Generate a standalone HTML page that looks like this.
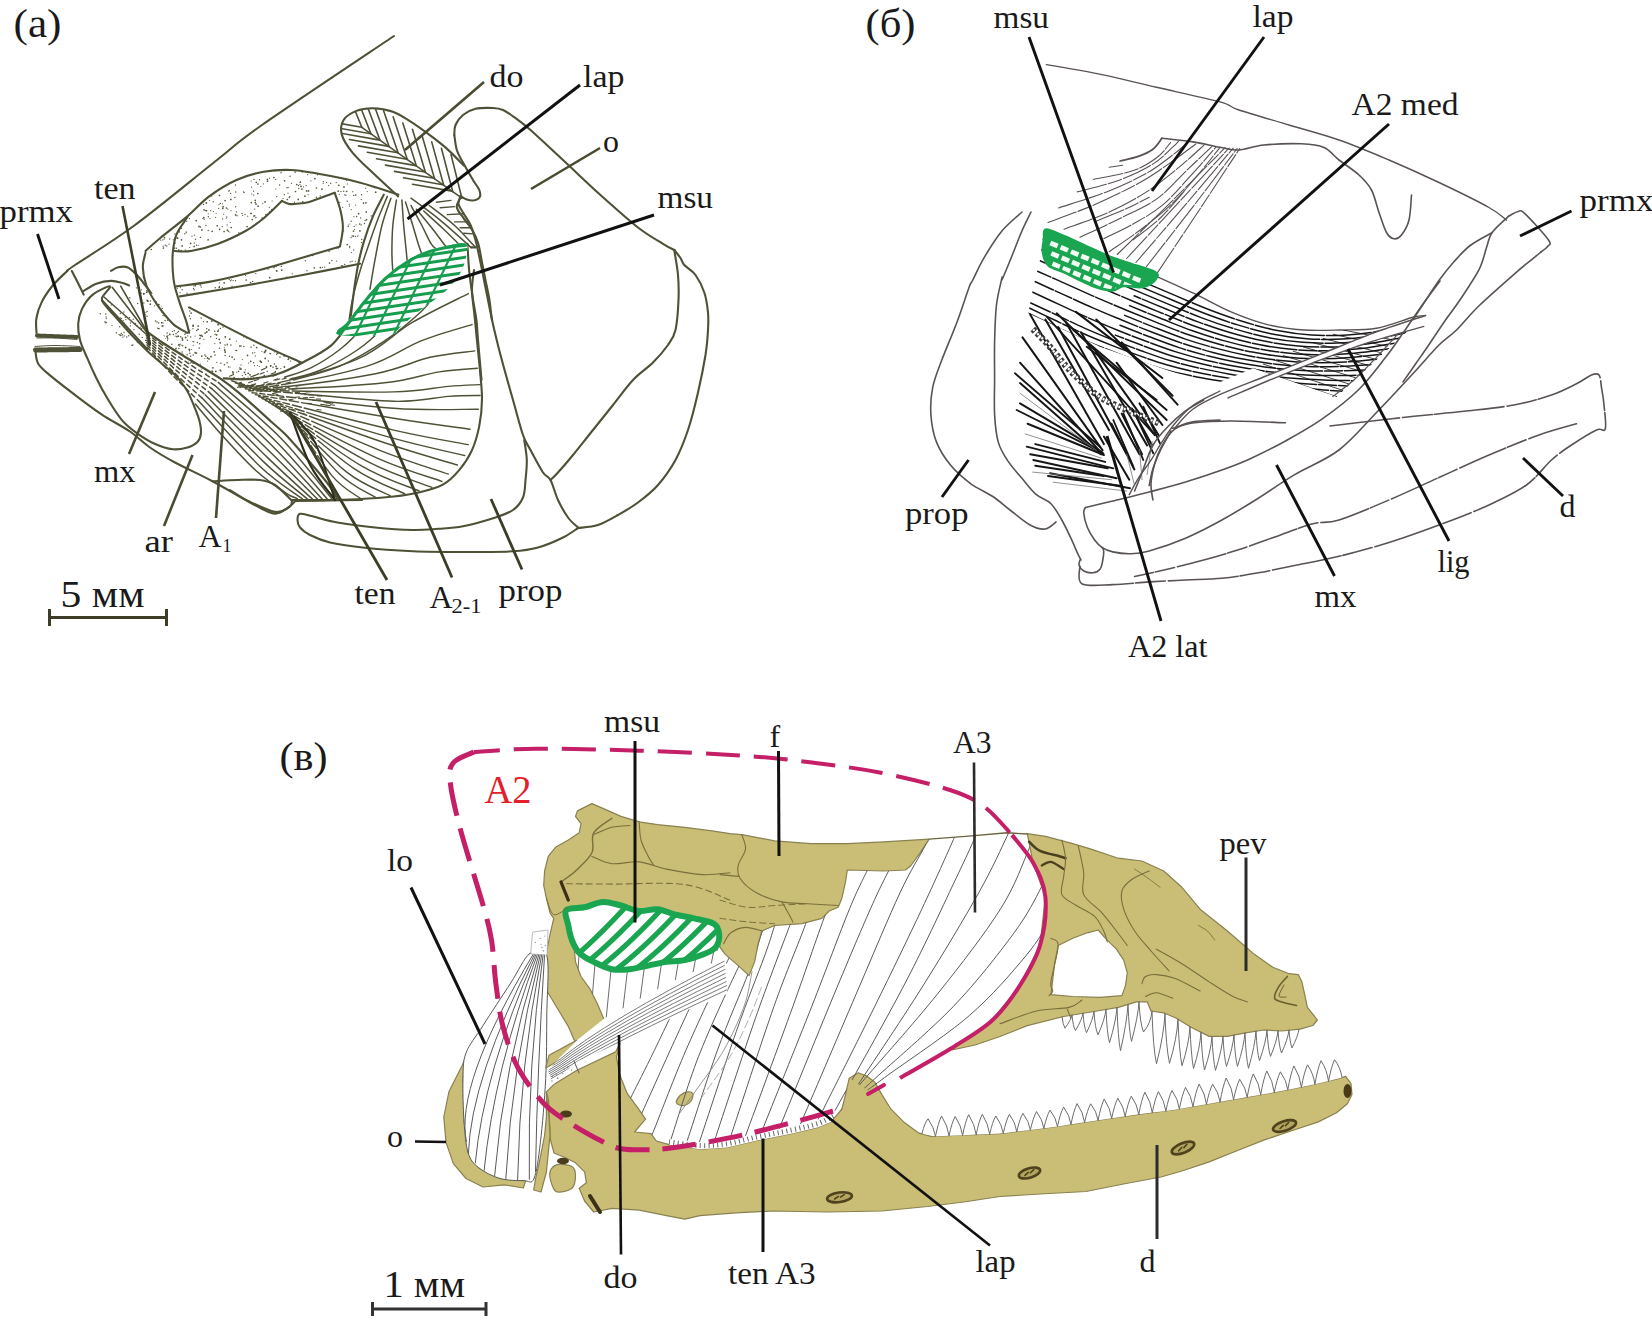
<!DOCTYPE html>
<html><head><meta charset="utf-8"><title>Figure</title>
<style>
html,body{margin:0;padding:0;background:#fff;}
body{width:1652px;height:1319px;overflow:hidden;font-family:"Liberation Serif",serif;}
svg{display:block;position:absolute;left:0;top:0;}
text{font-family:"Liberation Serif",serif;}
</style></head><body>
<svg width="1652" height="1319" viewBox="0 0 1652 1319">
<g id="panelA" fill="none" stroke="#4f5136" stroke-width="2.1" stroke-linecap="round" stroke-linejoin="round">
<path d="M394 36C372.0 50.8 291.5 104.3 262 125C232.5 145.7 238.2 143.3 217 160C195.8 176.7 158.7 207.5 135 225C111.3 242.5 86.3 257.3 75 265C63.7 272.7 68.3 270.0 67 271" />
<path d="M67.3 270.9C64.9 273.3 57.0 280.3 52.7 285.5C48.5 290.7 44.5 296.4 41.8 301.9C39.1 307.3 37.3 313.0 36.4 318.2C35.5 323.4 36.5 330.5 36.5 333" />
<path d="M71.8 270.9C72.8 272.9 76.0 279.1 78 283C80.0 286.9 82.8 292.7 83.7 294.6" />
<path d="M37 335.5L77 337" stroke-width="4" stroke-dasharray="1.4 0.8"/>
<path d="M35.5 350L80 349.5" stroke-width="5" stroke-dasharray="1.4 0.8"/>
<path d="M37 338C40.0 338.0 48.3 337.8 55 338C61.7 338.2 73.3 339.2 77 339.5" stroke-width="1" />
<path d="M35 346.5C38.3 346.3 47.5 345.5 55 345.5C62.5 345.5 75.8 346.3 80 346.5" stroke-width="1" />
<path d="M35.5 352C36.0 353.9 35.9 359.9 38.2 363.7C40.5 367.5 43.0 369.5 49.1 374.6C55.2 379.8 65.8 387.9 74.6 394.6C83.4 401.3 92.8 408.5 101.9 414.6C111.0 420.7 121.2 425.5 129.2 431C137.2 436.5 142.4 442.2 150 447.5C157.6 452.8 164.6 456.9 175 462.5C185.4 468.1 200.0 474.6 212.5 481.3C225.0 488.0 240.4 497.3 250 502.5C259.6 507.7 265.0 510.8 270 512.5C275.0 514.2 276.4 513.8 280 512.5C283.6 511.2 288.8 506.9 291.3 505C293.8 503.1 294.4 501.9 295 501.3" />
<path d="M295 501C300.8 500.9 318.8 500.7 330 500.5C341.2 500.3 356.7 500.1 362 500" />
<path d="M212.5 481.3C216.7 481.1 229.6 480.2 237.5 480C245.4 479.8 253.8 479.2 260 480C266.2 480.8 269.8 481.7 275 485C280.2 488.3 288.6 497.5 291.3 500" />
<path d="M110 286.4C108.5 285.8 97.5 290.8 92.8 294.6C88.1 298.4 84.3 304.2 81.9 309.1C79.5 314.0 78.5 318.6 78.2 323.7C77.9 328.8 78.5 334.2 80 340C81.5 345.8 84.6 351.8 87.3 358.2C90.0 364.6 93.1 371.6 96.4 378.3C99.7 385.0 103.0 391.3 107.3 398.3C111.5 405.3 117.1 414.4 121.9 420.1C126.8 425.9 131.0 428.9 136.4 432.8C141.8 436.7 148.5 441.0 154.6 443.7C160.7 446.4 167.3 448.6 172.8 449.2C178.3 449.8 183.3 448.6 187.4 447.4C191.5 446.2 195.1 444.3 197.4 441.9C199.7 439.5 200.7 436.4 201 432.8C201.3 429.2 200.3 424.3 199.2 420.1C198.1 415.9 196.3 411.6 194.6 407.4C192.9 403.1 191.0 398.2 189.2 394.6C187.4 391.0 186.1 388.8 183.7 385.5C181.3 382.2 178.2 378.2 174.6 374.6C171.0 371.0 166.4 367.6 161.9 363.7C157.4 359.8 152.2 355.6 147.3 351C142.5 346.4 137.7 341.6 132.8 336.4C128.0 331.2 122.8 325.1 118.2 320C113.7 314.9 108.2 309.1 105.5 305.5C102.8 301.9 101.2 301.4 101.9 298.2C102.7 295.0 111.5 287.0 110 286.4Z" />
<path d="M83.7 290.9C85.8 289.7 91.9 285.4 96.4 283.7C101.0 282.0 106.8 281.0 111 280.9C115.2 280.8 118.9 282.0 121.9 282.8C124.9 283.6 128.0 285.1 129.2 285.5" />
<path d="M111 270.9C112.2 270.3 115.5 267.9 118.2 267.3C120.9 266.7 124.3 266.1 127.3 267.3C130.3 268.5 133.4 271.6 136.4 274.6C139.4 277.6 143.1 282.5 145.5 285.5C147.9 288.5 150.1 291.6 151 292.8" />
<path d="M145.5 251C147.9 248.9 153.0 244.0 160 238.2C167.0 232.4 179.1 223.4 187.3 216.4C195.5 209.4 201.0 202.5 209.2 196.4C217.4 190.3 227.3 184.1 236.4 180C245.5 175.9 254.6 173.5 263.7 171.8C272.8 170.1 281.9 169.7 291 170C300.1 170.3 309.2 172.2 318.3 173.7C327.4 175.2 336.5 177.0 345.6 179.1C354.7 181.2 364.1 183.8 372.9 186.4C381.7 189.0 394.1 193.2 398.3 194.6" />
<path d="M145.5 252.8C145.1 255.2 142.7 261.9 142.8 267.3C143.0 272.8 144.1 279.4 146.4 285.5C148.7 291.6 152.0 297.3 156.4 303.7C160.8 310.1 167.7 318.8 172.8 323.7C178.0 328.6 184.9 331.3 187.3 332.8" />
<path d="M187.3 217.3C185.5 220.2 178.8 228.7 176.4 234.6C174.0 240.5 173.4 246.7 172.8 252.8C172.2 258.9 172.5 265.6 172.8 271C173.1 276.4 173.4 280.1 174.6 285.5C175.8 290.9 178.0 297.6 180 303.7C182.0 309.8 184.9 317.0 186.4 321.9C187.9 326.8 188.7 331.0 189.1 332.8" />
<path d="M174.6 251.0C177.3 251.0 183.7 252.2 191.0 251.0C198.3 249.8 209.1 247.0 218.2 243.7C227.3 240.4 237.9 235.2 245.5 231.0C253.1 226.8 257.6 223.2 263.7 218.2C269.8 213.2 278.9 203.8 281.9 200.9" />
<path d="M281.9 200.9C283.1 201.4 286.8 203.5 289.2 204.0C291.6 204.5 293.2 204.0 296.5 203.7C299.8 203.3 302.8 203.7 309.2 201.9C315.6 200.1 330.4 194.3 334.7 192.8" />
<path d="M334.7 192.8C335.6 195.5 338.7 203.3 340.1 209.1C341.5 214.8 342.9 221.2 342.9 227.3C342.9 233.4 340.6 242.8 340.1 245.9" />
<path d="M340.1 246.4C330.4 249.3 297.7 259.1 281.9 263.7C266.1 268.2 257.6 270.7 245.5 273.7C233.4 276.7 220.7 279.8 209.2 281.9C197.7 284.0 181.9 285.6 176.4 286.4" />
<path d="M180.0 296.4C190.9 294.6 225.5 289.0 245.5 285.5C265.5 282.0 281.0 279.1 300.1 275.5C319.2 271.9 350.1 265.7 360.1 263.7" />
<path d="M189.1 307.4C195.5 310.7 214.9 321.0 227.3 327.4C239.7 333.8 251.3 339.7 263.7 345.6C276.1 351.5 295.5 359.9 301.9 362.8" />
<path d="M383.8 194.6C382.0 198.2 376.2 208.5 372.9 216.4C369.6 224.3 366.2 234.0 363.8 241.9C361.4 249.8 359.8 256.4 358.3 263.7C356.8 271.0 356.1 275.8 354.7 285.5C353.3 295.2 350.9 315.8 350.1 321.9" />
<path d="M398.3 271C394.4 275.0 383.2 286.2 375 295C366.8 303.8 356.5 315.3 349.2 323.7C341.9 332.1 338.6 339.2 331 345.6C323.4 352.0 312.5 357.3 303.7 362C294.9 366.7 287.7 370.9 278.3 373.8C268.9 376.7 256.5 378.4 247.4 379.2C238.3 379.9 227.6 378.4 223.7 378.3" stroke-width="2.2" />
<path d="M398.2 196.4C394.3 192.8 382.2 181.9 374.6 174.6C367.0 167.3 358.2 159.5 352.7 152.8C347.2 146.1 343.3 140.1 341.8 134.6C340.3 129.1 341.2 124.0 343.6 120.0C346.0 116.0 351.5 112.9 356.4 110.9C361.3 108.9 366.7 108.1 372.8 108.2C378.9 108.3 386.4 109.5 392.8 111.8C399.2 114.1 404.9 118.0 411.0 121.8C417.1 125.6 423.1 130.0 429.2 134.6C435.2 139.2 441.6 143.9 447.3 149.1C453.1 154.2 461.0 162.8 463.7 165.5" />
<clipPath id="featherclip"><path d="M398.2 196.4C390.9 191.8 382.2 181.9 374.6 174.6C367.0 167.3 358.2 159.5 352.7 152.8C347.2 146.1 343.3 140.1 341.8 134.6C340.3 129.1 341.2 124.0 343.6 120.0C346.0 116.0 351.5 112.9 356.4 110.9C361.3 108.9 366.7 108.1 372.8 108.2C378.9 108.3 386.4 109.5 392.8 111.8C399.2 114.1 404.9 118.0 411.0 121.8C417.1 125.6 423.1 130.0 429.2 134.6C435.2 139.2 441.6 143.9 447.3 149.1C453.1 154.2 459.1 160.3 463.7 165.5C468.2 170.7 471.9 175.8 474.6 180.1C477.3 184.3 479.5 188.0 480.1 191.0C480.7 194.0 479.8 196.5 478.3 198.2C476.8 199.9 473.4 201.0 471.0 201.0C468.6 201.0 467.6 197.4 463.7 198.2C459.8 198.9 454.9 204.9 447.3 205.5C439.7 206.1 426.4 203.4 418.2 201.9C410.0 200.4 405.5 201.0 398.2 196.4Z"/></clipPath>
<g clip-path="url(#featherclip)" stroke-width="1.6">
<path d="M361.8 127.3L461.9 198.2"/>
<path d="M361.8 127.3l-16.9 -41.7"/>
<path d="M370.9 133.7l-16.3 -41.9"/>
<path d="M380.0 140.2l-15.8 -42.1"/>
<path d="M389.1 146.6l-15.3 -42.3"/>
<path d="M398.2 153.1l-14.7 -42.5"/>
<path d="M407.3 159.5l-14.2 -42.7"/>
<path d="M416.4 166.0l-13.6 -42.9"/>
<path d="M425.5 172.4l-13.1 -43.1"/>
<path d="M434.6 178.9l-12.5 -43.2"/>
<path d="M443.7 185.3l-12.0 -43.4"/>
<path d="M452.8 191.8l-11.4 -43.5"/>
<path d="M461.9 198.2l-10.9 -43.7"/>
<path d="M361.8 127.3l-39.4 -6.9"/>
<path d="M370.8 133.7l-39.4 -6.9"/>
<path d="M379.8 140.1l-39.4 -6.9"/>
<path d="M388.8 146.4l-39.4 -6.9"/>
<path d="M397.8 152.8l-39.4 -6.9"/>
<path d="M406.8 159.2l-39.4 -6.9"/>
<path d="M415.9 165.6l-39.4 -6.9"/>
<path d="M424.9 172.0l-39.4 -6.9"/>
<path d="M433.9 178.3l-39.4 -6.9"/>
<path d="M442.9 184.7l-39.4 -6.9"/>
<path d="M451.9 191.1l-39.4 -6.9"/>
</g>
<path d="M454.3 135C454.7 137.5 455.4 145.4 456.8 150C458.2 154.6 460.3 157.5 463 162.5C465.7 167.5 470.3 175.4 473 180C475.7 184.6 478.2 187.1 479.3 190C480.4 192.9 480.6 195.8 479.5 197.5C478.4 199.2 475.1 200.2 473 200.5C470.9 200.8 468.9 200.2 466.8 199.5C464.7 198.8 461.6 196.6 460.5 196" />
<path d="M460.5 196C460.2 197.3 458.1 201.2 458.5 204C458.9 206.8 461.0 209.0 463 212.5C465.0 216.0 468.4 220.4 470.5 225C472.6 229.6 473.8 233.8 475.5 240C477.2 246.2 478.8 254.6 480.5 262.5C482.2 270.4 483.8 279.2 485.5 287.5C487.2 295.8 489.0 305.4 490.5 312.5C492.0 319.6 492.6 322.9 494.3 330C496.0 337.1 497.4 343.3 500.5 355C503.6 366.7 509.2 386.7 513 400C516.8 413.3 520.1 426.7 523 435C525.9 443.3 527.2 443.8 530.5 450C533.8 456.2 539.7 467.5 543 472.5C546.3 477.5 548.0 475.4 550.5 480C553.0 484.6 555.1 493.8 558 500C560.9 506.2 564.7 512.9 568 517.5C571.3 522.1 576.3 525.8 578 527.5" />
<path d="M454.3 135C454.5 133.3 454.1 128.3 455.5 125C456.9 121.7 459.7 117.7 463 115C466.3 112.3 470.5 110.0 475.5 108.8C480.5 107.6 488.4 107.8 493 108C497.6 108.2 499.7 108.6 503 110C506.3 111.4 508.4 113.0 513 116.3C517.6 119.6 522.2 122.7 530.5 130C538.8 137.3 551.3 149.2 563 160C574.7 170.8 588.0 183.8 600.5 195C613.0 206.2 627.6 219.4 638 227.5C648.4 235.6 657.0 240.1 663 243.8C669.0 247.6 672.4 249.0 674.3 250" />
<path d="M674.3 250C675.3 251.3 678.8 255.5 680.5 258C682.2 260.5 681.8 262.2 684.3 265C686.8 267.8 692.2 270.4 695.5 275C698.8 279.6 702.2 286.2 704.3 292.5C706.4 298.8 707.4 306.2 708 312.5C708.6 318.8 708.4 322.9 708 330C707.6 337.1 707.2 344.6 705.5 355C703.8 365.4 700.9 380.0 698 392.5C695.1 405.0 691.8 418.8 688 430C684.2 441.2 680.5 450.8 675.5 460C670.5 469.2 664.2 477.9 658 485C651.8 492.1 644.7 497.5 638 502.5C631.3 507.5 624.7 511.2 618 515C611.3 518.8 604.7 522.8 598 525C591.3 527.2 581.3 527.5 578 528" />
<path d="M674.3 250C674.9 254.2 677.3 266.7 678 275C678.7 283.3 678.9 290.8 678.5 300C678.1 309.2 677.2 322.5 675.5 330C673.8 337.5 671.8 339.6 668 345C664.2 350.4 658.8 356.7 653 362.5C647.2 368.3 639.7 372.9 633 380C626.3 387.1 619.7 396.7 613 405C606.3 413.3 599.7 421.7 593 430C586.3 438.3 578.8 447.9 573 455C567.2 462.1 561.8 468.3 558 472.5C554.2 476.7 551.8 478.8 550.5 480" />
<path d="M524.3 440C524.7 443.3 526.6 453.3 526.8 460C527.0 466.7 526.1 473.8 525.5 480C524.9 486.2 525.1 492.5 523 497.5C520.9 502.5 517.6 506.7 513 510C508.4 513.3 503.8 514.8 495.5 517.5C487.2 520.2 472.6 524.4 463 526.3C453.4 528.2 446.3 528.2 438 528.8C429.7 529.4 423.5 530.2 413 530C402.5 529.8 387.6 528.8 375 527.5C362.4 526.2 347.9 524.4 337.5 522.5C327.1 520.6 318.8 517.8 312.5 516.3C306.2 514.8 302.5 513.2 300 513.8C297.5 514.4 297.5 517.7 297.5 520C297.5 522.3 297.9 525.0 300 527.5C302.1 530.0 305.0 532.5 310 535C315.0 537.5 321.2 540.4 330 542.5C338.8 544.6 348.7 546.0 362.5 547.5C376.3 549.0 396.2 550.5 413 551.3C429.8 552.0 446.3 552.0 463 552C479.7 552.0 500.5 552.0 513 551.3C525.5 550.5 529.7 549.8 538 547.5C546.3 545.2 556.3 540.8 563 537.5C569.7 534.2 575.5 529.6 578 528" />
<path d="M467.4 243.7C467.7 248.2 468.3 261.9 469.2 271.0C470.1 280.1 471.6 290.2 472.8 298.3C474.0 306.4 475.5 312.9 476.4 319.9C477.3 326.8 477.1 330.0 478 340C478.9 350.0 480.9 373.3 481.5 380" />
<path d="M387.3 196.4C385.8 200.1 381.2 210.4 378.2 218.3C375.2 226.2 372.1 234.9 369.1 243.7C366.1 252.5 362.7 261.9 360.0 271.0C357.3 280.1 354.5 290.2 352.7 298.3C350.9 306.4 349.7 316.3 349.1 319.9" stroke-width="1.5" />
<path d="M390.9 198.2C389.4 202.8 384.6 214.9 381.9 225.5C379.2 236.1 376.6 251.3 374.6 261.9C372.6 272.5 370.8 284.6 370.0 289.2" stroke-width="1.5" />
<path d="M396.4 200.1C395.8 204.3 393.6 216.7 392.8 225.5C392.1 234.3 391.9 245.2 391.9 252.8C391.9 260.4 392.6 268.0 392.8 271.0" stroke-width="1.5" />
<path d="M401.9 200.1C402.2 204.3 403.1 218.2 403.7 225.5C404.3 232.8 404.9 237.6 405.5 243.7C406.1 249.8 407.0 258.9 407.3 261.9" stroke-width="1.5" />
<path d="M405.5 201.9C406.7 205.8 410.7 218.5 412.8 225.5C414.9 232.5 416.7 238.8 418.2 243.7C419.7 248.5 421.3 252.8 421.9 254.6" stroke-width="1.5" />
<path d="M411.0 205.5C412.8 208.8 418.6 219.1 421.9 225.5C425.2 231.9 428.6 239.8 431.0 243.7C433.4 247.6 435.5 248.3 436.4 249.2" stroke-width="1.5" />
<path d="M416.4 209.2C419.1 212.5 428.2 223.4 432.8 229.2C437.4 234.9 441.3 240.7 443.7 243.7C446.1 246.7 446.7 246.8 447.3 247.4" stroke-width="1.5" />
<path d="M423.7 211.0C427.0 214.0 437.9 223.8 443.7 229.2C449.5 234.6 455.9 241.3 458.3 243.7" stroke-width="1.5" />
<path d="M411.0 198.2C415.9 201.8 430.1 211.9 440.1 220.1C450.1 228.3 465.9 242.8 471.0 247.4" stroke-width="1.5" />
<path d="M429.2 205.5C433.4 208.8 446.9 218.5 454.6 225.5C462.3 232.5 472.0 243.8 475.5 247.4" stroke-width="1.5" />
<path d="M471.0 247.4L475.5 247.4" />
<path d="M436.4 202.2L451.0 200.4" stroke-width="1.4" />
<path d="M440.1 207.7L454.6 206.6" stroke-width="1.4" />
<path d="M447.3 214.6L463.7 213.7" stroke-width="1.4" />
<path d="M454.6 221.9L467.7 221.9" stroke-width="1.4" />
<path d="M460.1 227.7L471.4 227.7" stroke-width="1.4" />
<path d="M463.7 233.2L473.2 233.9" stroke-width="1.4" />
<path d="M460.1 198.2C459.6 199.7 456.2 204.0 456.8 207.3C457.4 210.7 461.0 214.4 463.7 218.3C466.4 222.2 470.4 226.8 472.8 231.0C475.2 235.2 476.8 238.5 478.3 243.7C479.8 248.8 480.7 255.8 481.9 261.9C483.1 268.0 484.3 274.0 485.5 280.1C486.7 286.2 488.1 291.7 489.2 298.3C490.3 304.9 491.4 316.3 491.9 319.9" />
<path d="M474 270C473.7 273.3 471.9 282.1 472.0 290.0C472.1 297.9 473.8 308.2 474.7 317.3C475.6 326.4 476.5 335.5 477.4 344.6C478.3 353.7 479.3 362.8 480.1 371.9C480.9 381.0 482.1 390.1 482.0 399.2C481.9 408.3 480.9 417.9 479.2 426.4C477.5 434.9 475.3 442.8 472.0 450.1C468.7 457.4 464.1 464.3 459.2 470.1C454.3 475.9 449.2 481.1 442.8 484.7C436.4 488.3 429.2 489.9 421.0 491.9C412.8 493.9 404.3 495.3 393.7 496.5C383.1 497.7 369.4 498.6 357.3 499.2C345.2 499.8 331.9 500.0 321.0 500.1C310.1 500.2 296.8 500.1 291.9 500.1" />
<path d="M382.8 290C381.3 293.0 377.9 301.1 373.7 308.2C369.4 315.3 363.1 325.8 357.3 332.8C351.6 339.8 346.8 344.2 339.2 350C331.6 355.8 321.0 362.8 311.9 367.3C302.8 371.9 289.2 375.6 284.6 377.3" stroke-width="1.45"/>
<path d="M430 270C427.0 273.3 416.4 284.2 411.9 290C407.4 295.8 407.4 298.5 402.8 304.6C398.2 310.7 392.2 318.8 384.6 326.4C377.0 334.0 367.9 342.7 357.3 350C346.7 357.3 332.2 365.1 321 370C309.8 374.9 295.2 377.6 290 379.1" stroke-width="1.45"/>
<path d="M462 262C458.2 266.7 446.0 281.7 439.2 290C432.4 298.3 430.1 303.3 421 311.8C411.9 320.3 398.2 331.8 384.6 340.9C371.0 350.0 354.4 359.9 339.2 366.4C324.0 372.9 301.3 377.7 293.7 380" stroke-width="1.45"/>
<path d="M232.0 381.0C237.8 381.7 246.1 388.6 267.0 385.0C287.9 381.4 333.2 369.5 357.3 359.1C381.4 348.7 393.4 333.6 411.9 322.7C430.4 311.8 458.9 298.5 468.3 293.6" stroke-width="1.45" stroke-dasharray="5 3 5 3 6 3 7 3 9 3 400 4 60 3 30 3"/>
<path d="M235.33333333333334 382.94444444444446C241.2 383.5 248.5 389.2 270.33333333333337 386.44444444444446C292.2 383.7 341.3 374.0 366.4 366.4C391.5 358.8 403.4 347.9 421.0 340.9C438.6 333.9 463.5 327.3 472.0 324.6" stroke-width="1.45" stroke-dasharray="5 3 5 3 6 3 7 3 9 3 400 4 60 3 30 3"/>
<path d="M238.66666666666666 384.8888888888889C244.5 385.4 250.9 389.8 273.66666666666663 387.8888888888889C296.5 386.0 349.4 378.8 375.5 373.7C401.6 368.6 413.6 361.1 430.1 357.3C446.6 353.5 467.3 352.0 474.7 350.9" stroke-width="1.45" stroke-dasharray="5 3 5 3 6 3 7 3 9 3 400 4 60 3 30 3"/>
<path d="M242.0 386.8333333333333C247.8 387.2 253.2 390.0 277.0 389.3333333333333C300.8 388.7 357.6 385.7 384.6 382.8C411.6 379.9 423.7 374.3 439.2 371.9C454.7 369.5 471.0 368.8 477.4 368.2" stroke-width="1.45" stroke-dasharray="5 3 5 3 6 3 7 3 9 3 400 4 60 3 30 3"/>
<path d="M245.33333333333334 388.77777777777777C251.2 389.1 255.6 390.3 280.33333333333337 390.77777777777777C305.1 391.3 365.7 392.6 393.7 391.9C421.7 391.2 433.9 387.6 448.3 386.4C462.7 385.2 474.8 384.9 480.1 384.6" stroke-width="1.45" stroke-dasharray="5 3 5 3 6 3 7 3 9 3 400 4 60 3 30 3"/>
<path d="M248.66666666666666 390.72222222222223C254.5 391.0 259.5 390.5 283.66666666666663 392.22222222222223C307.8 394.0 366.3 400.6 393.7 401.3C421.1 402.0 433.9 397.4 448.3 396.4C462.7 395.4 474.8 395.6 480.1 395.5" stroke-width="1.45" stroke-dasharray="5 3 5 3 6 3 7 3 9 3 400 4 60 3 30 3"/>
<path d="M252.0 392.6666666666667C275.6 395.3 356.0 405.4 393.7 408.2C431.4 411.0 464.2 409.0 478.3 409.2" stroke-width="1.45" stroke-dasharray="5 3 5 3 6 3 7 3 9 3 400 4 60 3 30 3"/>
<path d="M255.33333333333334 394.6111111111111C278.4 398.6 357.9 412.5 393.7 418.3C429.5 424.1 457.4 427.4 470.1 429.2" stroke-width="1.45" stroke-dasharray="5 3 5 3 6 3 7 3 9 3 400 4 60 3 30 3"/>
<path d="M258.6666666666667 396.55555555555554C281.2 402.1 358.8 422.1 393.7 430.1C428.6 438.1 455.9 442.2 468.3 444.6" stroke-width="1.45" stroke-dasharray="5 3 5 3 6 3 7 3 9 3 400 4 60 3 30 3"/>
<path d="M262.0 398.5C283.4 405.0 356.3 427.9 390.1 437.4C423.9 446.9 452.3 452.5 464.7 455.5" stroke-width="1.45" stroke-dasharray="5 3 5 3 6 3 7 3 9 3 400 4 60 3 30 3"/>
<path d="M265.3333333333333 400.44444444444446C285.2 407.5 352.6 432.0 384.6 442.8C416.6 453.6 445.3 461.3 457.4 465.0" stroke-width="1.45" stroke-dasharray="5 3 5 3 6 3 7 3 9 3 400 4 60 3 30 3"/>
<path d="M268.6666666666667 402.3888888888889C287.1 410.3 349.3 438.1 379.2 450.1C409.1 462.1 436.8 470.1 448.3 474.1" stroke-width="1.45" stroke-dasharray="5 3 5 3 6 3 7 3 9 3 400 4 60 3 30 3"/>
<path d="M272.0 404.3333333333333C289.2 413.2 347.2 444.6 375.5 457.4C403.8 470.2 430.8 477.4 441.9 481.4" stroke-width="1.45" stroke-dasharray="5 3 5 3 6 3 7 3 9 3 400 4 60 3 30 3"/>
<path d="M275.3333333333333 406.27777777777777C290.8 415.5 342.2 448.4 368.3 461.9C394.4 475.4 421.3 483.1 431.9 487.4" stroke-width="1.45" stroke-dasharray="5 3 5 3 6 3 7 3 9 3 400 4 60 3 30 3"/>
<path d="M278.6666666666667 408.22222222222223C292.4 417.8 337.6 451.8 361.0 465.6C384.4 479.4 409.5 486.8 419.2 491.0" stroke-width="1.45" stroke-dasharray="5 3 5 3 6 3 7 3 9 3 400 4 60 3 30 3"/>
<path d="M282.0 410.1666666666667C293.9 419.9 333.3 454.4 353.7 468.3C374.1 482.2 396.1 489.5 404.6 493.7" stroke-width="1.45" stroke-dasharray="5 3 5 3 6 3 7 3 9 3 400 4 60 3 30 3"/>
<path d="M285.3333333333333 412.1111111111111C295.5 422.1 328.9 458.0 346.4 471.9C363.9 485.8 382.8 491.7 390.1 495.6" stroke-width="1.45" stroke-dasharray="5 3 5 3 6 3 7 3 9 3 400 4 60 3 30 3"/>
<path d="M288.6666666666667 414.05555555555554C297.1 424.0 324.7 459.8 339.2 473.7C353.7 487.6 369.4 493.4 375.5 497.4" stroke-width="1.45" stroke-dasharray="5 3 5 3 6 3 7 3 9 3 400 4 60 3 30 3"/>
<path d="M292.0 416.0C298.6 425.9 320.4 461.8 331.9 475.6C343.4 489.4 356.1 494.9 361.0 498.8" stroke-width="1.45" stroke-dasharray="5 3 5 3 6 3 7 3 9 3 400 4 60 3 30 3"/>
<path d="M146 331C148.8 333.0 156.7 338.8 163 343C169.3 347.2 173.9 349.9 183.7 356C193.4 362.1 211.8 372.8 221.5 379.3C231.2 385.9 233.7 388.3 241.9 395.3C250.2 402.3 263.7 414.9 271 421.5C278.3 428.1 279.4 428.3 285.5 434.6C291.6 440.9 300.1 450.8 307.4 459.3C314.7 467.8 324.1 478.7 329.2 485.5C334.3 492.3 336.4 497.6 337.9 500" stroke-width="2.2"/>
<path d="M195.3 404C199.7 409.1 211.3 423.4 221.5 434.6C231.7 445.8 245.7 461.3 256.4 471C267.1 480.7 278.7 488.2 285.5 492.8C292.3 497.4 295.2 497.6 297.2 498.6" stroke-width="1.6"/>
<path d="M102.5 300.6L147.4 349.2" stroke-width="2.0"/>
<path d="M104 297L146 334" stroke-width="1.6"/>
<path d="M112.2 287.3L145 330" stroke-width="1.6"/>
<path d="M120.7 286.1L146 330" stroke-width="1.6"/>
<path d="M146.175 333.3125C152.2 337.7 170.2 351.2 182.2 359.35C194.2 367.5 212.2 378.5 218.225 382.3875" stroke-width="1.5" stroke-dasharray="4.5 3.5"/>
<path d="M218.225 382.3875C228.8 391.8 262.8 419.6 281.8625 439.15000000000003C301.0 458.7 324.3 489.7 332.8125 499.825" stroke-width="1.5"/>
<path d="M146.35 335.625C152.1 340.0 169.2 353.7 180.64999999999998 362.05C192.1 370.4 209.2 381.6 214.95 385.475" stroke-width="1.5" stroke-dasharray="4.5 3.5"/>
<path d="M214.95 385.475C225.5 395.2 259.4 424.7 278.225 443.70000000000005C297.0 462.7 319.5 490.3 327.72499999999997 499.65" stroke-width="1.5"/>
<path d="M146.525 337.9375C152.0 342.4 168.2 356.3 179.10000000000002 364.75C190.0 373.2 206.2 384.6 211.675 388.5625" stroke-width="1.5" stroke-dasharray="4.5 3.5"/>
<path d="M211.675 388.5625C222.2 398.5 256.1 429.8 274.5875 448.25C293.1 466.7 314.6 490.9 322.6375 499.475" stroke-width="1.5"/>
<path d="M146.7 340.25C151.8 344.8 167.3 358.9 177.55 367.45C187.8 376.0 203.3 387.6 208.4 391.65" stroke-width="1.5" stroke-dasharray="4.5 3.5"/>
<path d="M208.4 391.65C218.8 401.8 252.8 434.9 270.95 452.8C289.1 470.7 309.8 491.6 317.54999999999995 499.3" stroke-width="1.5"/>
<path d="M146.875 342.5625C151.7 347.2 166.3 361.5 176.0 370.15C185.7 378.8 200.3 390.6 205.125 394.7375" stroke-width="1.5" stroke-dasharray="4.5 3.5"/>
<path d="M205.125 394.7375C215.5 405.2 249.4 440.0 267.3125 457.35C285.2 474.7 304.9 492.2 312.4625 499.125" stroke-width="1.5"/>
<path d="M147.05 344.875C151.6 349.5 165.3 364.0 174.45000000000002 372.85C183.6 381.7 197.3 393.7 201.85000000000002 397.825" stroke-width="1.5" stroke-dasharray="4.5 3.5"/>
<path d="M201.85000000000002 397.825C212.2 408.5 246.1 445.0 263.67499999999995 461.9C281.3 478.8 300.1 492.8 307.375 498.95000000000005" stroke-width="1.5"/>
<path d="M147.225 347.1875C151.5 351.9 164.3 366.6 172.9 375.55C181.5 384.5 194.3 396.7 198.57500000000002 400.9125" stroke-width="1.5" stroke-dasharray="4.5 3.5"/>
<path d="M198.57500000000002 400.9125C208.8 411.8 242.8 450.1 260.03749999999997 466.45C277.3 482.8 295.2 493.4 302.28749999999997 498.77500000000003" stroke-width="1.5"/>
<circle cx="114.6" cy="314.0" r="0.7" fill="#55573a" stroke="none"/>
<circle cx="121.5" cy="318.6" r="0.7" fill="#55573a" stroke="none"/>
<circle cx="120.7" cy="335.2" r="0.7" fill="#55573a" stroke="none"/>
<circle cx="108.3" cy="301.5" r="0.7" fill="#55573a" stroke="none"/>
<circle cx="106.2" cy="318.6" r="0.7" fill="#55573a" stroke="none"/>
<circle cx="143.4" cy="345.2" r="0.7" fill="#55573a" stroke="none"/>
<circle cx="136.1" cy="338.7" r="0.7" fill="#55573a" stroke="none"/>
<circle cx="122.5" cy="334.8" r="0.7" fill="#55573a" stroke="none"/>
<circle cx="137.4" cy="326.0" r="0.7" fill="#55573a" stroke="none"/>
<circle cx="130.4" cy="323.0" r="0.7" fill="#55573a" stroke="none"/>
<circle cx="122.8" cy="337.1" r="0.7" fill="#55573a" stroke="none"/>
<circle cx="139.2" cy="334.2" r="0.7" fill="#55573a" stroke="none"/>
<circle cx="105.3" cy="322.7" r="0.7" fill="#55573a" stroke="none"/>
<circle cx="137.4" cy="339.9" r="0.7" fill="#55573a" stroke="none"/>
<circle cx="141.4" cy="329.2" r="0.7" fill="#55573a" stroke="none"/>
<circle cx="141.7" cy="328.5" r="0.7" fill="#55573a" stroke="none"/>
<circle cx="125.4" cy="317.2" r="0.7" fill="#55573a" stroke="none"/>
<circle cx="129.6" cy="317.6" r="0.7" fill="#55573a" stroke="none"/>
<circle cx="132.8" cy="345.0" r="0.7" fill="#55573a" stroke="none"/>
<circle cx="100.3" cy="313.8" r="0.7" fill="#55573a" stroke="none"/>
<circle cx="141.5" cy="344.4" r="0.7" fill="#55573a" stroke="none"/>
<circle cx="124.0" cy="332.5" r="0.7" fill="#55573a" stroke="none"/>
<circle cx="119.7" cy="326.7" r="0.7" fill="#55573a" stroke="none"/>
<circle cx="120.3" cy="318.0" r="0.7" fill="#55573a" stroke="none"/>
<circle cx="135.5" cy="323.5" r="0.7" fill="#55573a" stroke="none"/>
<circle cx="140.4" cy="327.1" r="0.7" fill="#55573a" stroke="none"/>
<circle cx="149.3" cy="333.4" r="0.7" fill="#55573a" stroke="none"/>
<circle cx="124.2" cy="335.9" r="0.7" fill="#55573a" stroke="none"/>
<circle cx="149.1" cy="333.8" r="0.7" fill="#55573a" stroke="none"/>
<circle cx="145.6" cy="340.4" r="0.7" fill="#55573a" stroke="none"/>
<circle cx="126.8" cy="337.0" r="0.7" fill="#55573a" stroke="none"/>
<circle cx="142.3" cy="337.4" r="0.7" fill="#55573a" stroke="none"/>
<circle cx="105.0" cy="321.6" r="0.7" fill="#55573a" stroke="none"/>
<circle cx="149.1" cy="333.3" r="0.7" fill="#55573a" stroke="none"/>
<circle cx="111.3" cy="304.9" r="0.7" fill="#55573a" stroke="none"/>
<circle cx="112.0" cy="325.6" r="0.7" fill="#55573a" stroke="none"/>
<circle cx="120.3" cy="313.5" r="0.7" fill="#55573a" stroke="none"/>
<circle cx="131.8" cy="345.4" r="0.7" fill="#55573a" stroke="none"/>
<circle cx="119.9" cy="335.0" r="0.7" fill="#55573a" stroke="none"/>
<circle cx="128.7" cy="335.8" r="0.7" fill="#55573a" stroke="none"/>
<circle cx="150.3" cy="334.5" r="0.7" fill="#55573a" stroke="none"/>
<circle cx="133.2" cy="319.2" r="0.7" fill="#55573a" stroke="none"/>
<circle cx="106.3" cy="322.5" r="0.7" fill="#55573a" stroke="none"/>
<circle cx="119.0" cy="334.6" r="0.7" fill="#55573a" stroke="none"/>
<circle cx="105.8" cy="314.0" r="0.7" fill="#55573a" stroke="none"/>
<circle cx="121.3" cy="333.5" r="0.7" fill="#55573a" stroke="none"/>
<circle cx="110.1" cy="302.3" r="0.7" fill="#55573a" stroke="none"/>
<circle cx="123.9" cy="312.0" r="0.7" fill="#55573a" stroke="none"/>
<circle cx="137.5" cy="342.3" r="0.7" fill="#55573a" stroke="none"/>
<circle cx="124.5" cy="323.2" r="0.7" fill="#55573a" stroke="none"/>
<circle cx="134.0" cy="329.6" r="0.7" fill="#55573a" stroke="none"/>
<circle cx="130.4" cy="325.9" r="0.7" fill="#55573a" stroke="none"/>
<circle cx="146.4" cy="342.5" r="0.7" fill="#55573a" stroke="none"/>
<circle cx="125.9" cy="319.6" r="0.7" fill="#55573a" stroke="none"/>
<circle cx="106.1" cy="316.9" r="0.7" fill="#55573a" stroke="none"/>
<circle cx="148.3" cy="343.9" r="0.7" fill="#55573a" stroke="none"/>
<circle cx="116.4" cy="332.8" r="0.7" fill="#55573a" stroke="none"/>
<circle cx="123.2" cy="320.6" r="0.7" fill="#55573a" stroke="none"/>
<circle cx="105.5" cy="304.4" r="0.7" fill="#55573a" stroke="none"/>
<circle cx="120.9" cy="335.6" r="0.7" fill="#55573a" stroke="none"/>
<path d="M290 412.8C293.4 421.5 302.8 450.7 310.3 465.2C317.8 479.7 330.9 494.2 335 500" stroke-width="2.2" stroke="#2e2d1c"/>
<path d="M290 412.8C294.1 417.6 307.2 427.4 314.7 441.9C322.2 456.4 331.6 490.3 335 500" stroke-width="2.0" stroke="#2e2d1c"/>
<path d="M288.6 399.7L293.0 399.3" stroke-width="1.1"/>
<path d="M281.6 387.0L285.9 386.0" stroke-width="1.1"/>
<path d="M231.2 380.2L235.2 378.5" stroke-width="1.1"/>
<path d="M300.7 413.5L305.1 414.0" stroke-width="1.1"/>
<path d="M279.7 397.9L284.1 397.5" stroke-width="1.1"/>
<path d="M263.8 387.9L268.1 386.8" stroke-width="1.1"/>
<path d="M263.4 388.5L267.6 387.3" stroke-width="1.1"/>
<path d="M254.3 375.7L258.4 373.9" stroke-width="1.1"/>
<path d="M257.0 390.6L261.3 389.4" stroke-width="1.1"/>
<path d="M250.8 385.9L255.1 384.6" stroke-width="1.1"/>
<path d="M276.8 403.9L281.2 403.8" stroke-width="1.1"/>
<path d="M286.1 383.2L290.3 382.1" stroke-width="1.1"/>
<path d="M290.0 409.4L294.4 409.7" stroke-width="1.1"/>
<path d="M308.9 395.0L313.3 394.7" stroke-width="1.1"/>
<path d="M247.0 386.6L251.2 385.3" stroke-width="1.1"/>
<path d="M275.6 380.3L279.8 378.9" stroke-width="1.1"/>
<path d="M251.4 385.1L255.6 383.7" stroke-width="1.1"/>
<path d="M304.8 394.8L309.2 394.5" stroke-width="1.1"/>
<path d="M248.5 382.8L252.6 381.3" stroke-width="1.1"/>
<path d="M260.1 385.5L264.3 384.3" stroke-width="1.1"/>
<path d="M272.6 393.6L276.9 392.8" stroke-width="1.1"/>
<path d="M237.3 387.6L241.4 386.1" stroke-width="1.1"/>
<path d="M328.4 402.8L332.8 403.1" stroke-width="1.1"/>
<path d="M330.3 404.8L334.7 405.3" stroke-width="1.1"/>
<path d="M312.9 400.4L317.3 400.4" stroke-width="1.1"/>
<path d="M273.6 395.2L277.9 394.6" stroke-width="1.1"/>
<path d="M244.7 387.6L248.9 386.3" stroke-width="1.1"/>
<path d="M282.0 379.2L286.2 378.1" stroke-width="1.1"/>
<path d="M316.8 409.5L321.1 410.0" stroke-width="1.1"/>
<path d="M325.6 405.1L330.0 405.5" stroke-width="1.1"/>
<path d="M261.4 370.0L265.4 368.2" stroke-width="1.1"/>
<path d="M276.2 384.1L280.4 382.9" stroke-width="1.1"/>
<path d="M296.0 386.3L300.3 385.4" stroke-width="1.1"/>
<path d="M260.4 391.8L264.7 390.8" stroke-width="1.1"/>
<path d="M293.1 388.7L297.4 388.0" stroke-width="1.1"/>
<path d="M263.8 383.1L268.0 381.8" stroke-width="1.1"/>
<path d="M273.7 380.2L277.8 378.7" stroke-width="1.1"/>
<path d="M316.3 399.0L320.6 399.1" stroke-width="1.1"/>
<path d="M306.5 392.0L310.9 391.7" stroke-width="1.1"/>
<path d="M256.6 386.9L260.8 385.7" stroke-width="1.1"/>
<path d="M275.6 392.3L279.9 391.4" stroke-width="1.1"/>
<path d="M229.6 376.2L233.6 374.4" stroke-width="1.1"/>
<path d="M238.1 385.9L242.2 384.4" stroke-width="1.1"/>
<path d="M286.2 411.2L290.6 411.5" stroke-width="1.1"/>
<path d="M261.6 387.2L265.8 386.0" stroke-width="1.1"/>
<path d="M295.3 397.3L299.6 397.0" stroke-width="1.1"/>
<path d="M254.1 380.8L258.3 379.4" stroke-width="1.1"/>
<path d="M295.1 392.6L299.5 392.1" stroke-width="1.1"/>
<path d="M240.2 379.5L244.3 377.8" stroke-width="1.1"/>
<path d="M301.3 393.8L305.7 393.4" stroke-width="1.1"/>
<path d="M306.9 403.3L311.3 403.5" stroke-width="1.1"/>
<path d="M273.4 389.6L277.7 388.7" stroke-width="1.1"/>
<path d="M285.4 388.1L289.7 387.2" stroke-width="1.1"/>
<path d="M266.9 384.3L271.1 383.0" stroke-width="1.1"/>
<path d="M250.7 377.0L254.8 375.3" stroke-width="1.1"/>
<path d="M326.1 402.9L330.5 403.2" stroke-width="1.1"/>
<path d="M320.8 404.4L325.1 404.8" stroke-width="1.1"/>
<path d="M262.5 397.6L266.9 396.8" stroke-width="1.1"/>
<path d="M309.8 397.5L314.2 397.3" stroke-width="1.1"/>
<path d="M303.2 397.9L307.6 397.6" stroke-width="1.1"/>
<path d="M260.1 374.1L264.2 372.5" stroke-width="1.1"/>
<path d="M271.1 374.0L275.2 372.5" stroke-width="1.1"/>
<path d="M237.4 383.8L241.5 382.2" stroke-width="1.1"/>
<path d="M239.6 387.7L243.8 386.3" stroke-width="1.1"/>
<path d="M272.8 376.2L276.9 374.7" stroke-width="1.1"/>
<path d="M324.0 402.3L328.4 402.5" stroke-width="1.1"/>
<path d="M280.4 411.1L284.7 411.3" stroke-width="1.1"/>
<path d="M292.2 389.3L296.6 388.6" stroke-width="1.1"/>
<path d="M317.5 396.0L321.9 396.0" stroke-width="1.1"/>
<path d="M273.3 387.8L277.6 386.8" stroke-width="1.1"/>
<path d="M291.9 500.1C291.6 501.2 292.7 504.5 290.0 506.5C287.3 508.5 282.5 512.8 275.5 511.9C268.5 511.0 255.8 504.6 248.2 501.0C240.6 497.4 233.0 491.9 230.0 490.1" />
<clipPath id="st1"><path d="M145.5 251L160 238.2L187.3 216.4L209.2 196.4L236.4 180L263.7 171.8L291 170L318.3 173.7L345.6 179.1L372.9 186.4L384 195L372.9 216.4L363.8 241.9L358.3 263.7L360.1 263.7L300.1 275.5L245.5 285.5L180.0 296.4L176.4 286.4L174.6 267.3L174.6 251.0L160.0 249.2Z M174.6 251.0L191.0 251.0L218.2 243.7L245.5 231.0L263.7 218.2L281.9 200.9L289.2 204.0L309.2 201.9L334.7 192.8L340.1 209.1L342.9 227.3L340.1 245.9L281.9 263.7L245.5 273.7L209.2 281.9L176.4 286.4Z" clip-rule="evenodd"/></clipPath><g clip-path="url(#st1)" fill="#55573a" stroke="none"><circle cx="204.3" cy="191.7" r="0.6"/><circle cx="256.3" cy="260.4" r="0.7"/><circle cx="207.0" cy="247.1" r="0.7"/><circle cx="281.4" cy="295.6" r="0.7"/><circle cx="267.6" cy="296.4" r="0.7"/><circle cx="351.7" cy="295.7" r="0.7"/><circle cx="314.3" cy="267.8" r="0.85"/><circle cx="371.4" cy="258.5" r="0.6"/><circle cx="302.5" cy="286.5" r="0.6"/><circle cx="184.8" cy="233.7" r="0.7"/><circle cx="369.6" cy="236.3" r="0.7"/><circle cx="288.7" cy="281.3" r="0.6"/><circle cx="210.5" cy="194.3" r="0.85"/><circle cx="271.3" cy="291.4" r="0.85"/><circle cx="276.8" cy="270.9" r="0.85"/><circle cx="317.8" cy="222.5" r="0.85"/><circle cx="288.2" cy="203.3" r="0.6"/><circle cx="220.3" cy="203.4" r="0.7"/><circle cx="194.2" cy="243.2" r="0.6"/><circle cx="223.9" cy="270.2" r="0.6"/><circle cx="247.5" cy="260.1" r="0.85"/><circle cx="291.8" cy="229.8" r="0.85"/><circle cx="281.5" cy="231.5" r="0.85"/><circle cx="162.7" cy="293.1" r="0.85"/><circle cx="361.1" cy="174.1" r="0.6"/><circle cx="363.3" cy="253.6" r="0.85"/><circle cx="162.0" cy="196.7" r="0.7"/><circle cx="204.3" cy="193.0" r="0.7"/><circle cx="178.7" cy="250.1" r="0.85"/><circle cx="355.4" cy="286.8" r="0.7"/><circle cx="186.6" cy="173.9" r="0.6"/><circle cx="248.7" cy="264.2" r="0.6"/><circle cx="173.9" cy="202.9" r="0.7"/><circle cx="153.9" cy="227.7" r="0.85"/><circle cx="310.5" cy="168.9" r="0.7"/><circle cx="226.2" cy="218.1" r="0.6"/><circle cx="196.5" cy="245.2" r="0.7"/><circle cx="240.8" cy="239.9" r="0.6"/><circle cx="361.4" cy="178.1" r="0.7"/><circle cx="172.6" cy="285.1" r="0.7"/><circle cx="168.7" cy="292.2" r="0.7"/><circle cx="311.2" cy="216.6" r="0.7"/><circle cx="217.4" cy="257.2" r="0.85"/><circle cx="376.3" cy="275.9" r="0.6"/><circle cx="329.8" cy="294.9" r="0.85"/><circle cx="283.7" cy="237.4" r="0.85"/><circle cx="266.0" cy="214.5" r="0.85"/><circle cx="217.1" cy="264.1" r="0.85"/><circle cx="189.6" cy="253.2" r="0.85"/><circle cx="181.6" cy="216.9" r="0.85"/><circle cx="256.3" cy="182.3" r="0.85"/><circle cx="179.6" cy="211.8" r="0.85"/><circle cx="304.1" cy="223.5" r="0.7"/><circle cx="303.6" cy="228.4" r="0.7"/><circle cx="336.6" cy="261.1" r="0.6"/><circle cx="320.4" cy="267.6" r="0.85"/><circle cx="286.1" cy="219.7" r="0.6"/><circle cx="210.1" cy="218.6" r="0.6"/><circle cx="155.3" cy="234.6" r="0.6"/><circle cx="315.4" cy="235.9" r="0.7"/><circle cx="376.5" cy="227.2" r="0.6"/><circle cx="231.5" cy="279.8" r="0.6"/><circle cx="182.1" cy="245.9" r="0.85"/><circle cx="172.6" cy="270.8" r="0.85"/><circle cx="172.5" cy="260.2" r="0.85"/><circle cx="247.1" cy="266.1" r="0.85"/><circle cx="176.5" cy="248.2" r="0.7"/><circle cx="340.6" cy="239.9" r="0.6"/><circle cx="284.3" cy="194.7" r="0.7"/><circle cx="235.6" cy="206.7" r="0.7"/><circle cx="363.3" cy="293.3" r="0.7"/><circle cx="222.4" cy="287.6" r="0.7"/><circle cx="300.2" cy="297.0" r="0.85"/><circle cx="318.2" cy="286.2" r="0.85"/><circle cx="263.6" cy="247.4" r="0.85"/><circle cx="300.3" cy="182.2" r="0.85"/><circle cx="202.3" cy="190.9" r="0.85"/><circle cx="257.8" cy="193.5" r="0.85"/><circle cx="196.9" cy="275.3" r="0.85"/><circle cx="376.9" cy="182.7" r="0.7"/><circle cx="380.0" cy="285.8" r="0.6"/><circle cx="259.5" cy="179.7" r="0.6"/><circle cx="151.3" cy="249.6" r="0.85"/><circle cx="164.1" cy="239.1" r="0.7"/><circle cx="224.2" cy="282.9" r="0.85"/><circle cx="314.9" cy="178.6" r="0.85"/><circle cx="335.0" cy="172.5" r="0.6"/><circle cx="326.2" cy="213.4" r="0.6"/><circle cx="373.3" cy="281.7" r="0.7"/><circle cx="316.3" cy="197.2" r="0.7"/><circle cx="171.7" cy="173.6" r="0.6"/><circle cx="352.1" cy="261.2" r="0.7"/><circle cx="266.8" cy="260.3" r="0.85"/><circle cx="353.7" cy="195.5" r="0.7"/><circle cx="219.6" cy="229.3" r="0.85"/><circle cx="243.4" cy="191.8" r="0.6"/><circle cx="321.3" cy="216.4" r="0.7"/><circle cx="254.7" cy="215.7" r="0.7"/><circle cx="199.8" cy="168.4" r="0.6"/><circle cx="208.4" cy="216.8" r="0.7"/><circle cx="275.8" cy="189.0" r="0.6"/><circle cx="186.8" cy="221.3" r="0.6"/><circle cx="301.0" cy="186.4" r="0.85"/><circle cx="186.2" cy="232.7" r="0.6"/><circle cx="351.2" cy="221.2" r="0.7"/><circle cx="244.9" cy="260.9" r="0.6"/><circle cx="203.6" cy="173.2" r="0.7"/><circle cx="151.5" cy="295.4" r="0.6"/><circle cx="204.2" cy="219.4" r="0.6"/><circle cx="185.4" cy="250.2" r="0.7"/><circle cx="368.6" cy="246.5" r="0.85"/><circle cx="216.2" cy="297.5" r="0.7"/><circle cx="338.4" cy="294.9" r="0.7"/><circle cx="206.2" cy="203.1" r="0.7"/><circle cx="299.1" cy="213.5" r="0.6"/><circle cx="158.9" cy="225.5" r="0.6"/><circle cx="290.1" cy="168.5" r="0.6"/><circle cx="311.8" cy="170.5" r="0.85"/><circle cx="154.0" cy="175.1" r="0.85"/><circle cx="269.9" cy="211.7" r="0.7"/><circle cx="228.3" cy="231.2" r="0.7"/><circle cx="375.3" cy="172.5" r="0.7"/><circle cx="329.1" cy="251.4" r="0.7"/><circle cx="166.5" cy="206.7" r="0.7"/><circle cx="173.1" cy="219.5" r="0.7"/><circle cx="276.4" cy="270.7" r="0.7"/><circle cx="187.8" cy="265.7" r="0.85"/><circle cx="239.5" cy="291.8" r="0.7"/><circle cx="371.3" cy="215.9" r="0.7"/><circle cx="252.4" cy="226.7" r="0.85"/><circle cx="262.8" cy="203.6" r="0.6"/><circle cx="269.2" cy="267.4" r="0.85"/><circle cx="315.7" cy="293.3" r="0.6"/><circle cx="182.7" cy="261.8" r="0.6"/><circle cx="346.6" cy="180.1" r="0.85"/><circle cx="310.9" cy="180.8" r="0.6"/><circle cx="292.2" cy="273.8" r="0.6"/><circle cx="360.2" cy="283.1" r="0.7"/><circle cx="259.3" cy="282.7" r="0.85"/><circle cx="226.8" cy="216.9" r="0.6"/><circle cx="192.7" cy="271.9" r="0.6"/><circle cx="227.9" cy="209.1" r="0.7"/><circle cx="164.8" cy="253.7" r="0.6"/><circle cx="313.6" cy="297.0" r="0.85"/><circle cx="180.1" cy="298.1" r="0.6"/><circle cx="201.3" cy="295.7" r="0.6"/><circle cx="353.4" cy="236.1" r="0.85"/><circle cx="336.4" cy="247.8" r="0.85"/><circle cx="336.6" cy="229.7" r="0.85"/><circle cx="164.4" cy="277.0" r="0.6"/><circle cx="291.5" cy="281.4" r="0.6"/><circle cx="193.8" cy="285.9" r="0.6"/><circle cx="171.7" cy="220.7" r="0.85"/><circle cx="295.8" cy="252.7" r="0.85"/><circle cx="358.6" cy="213.7" r="0.85"/><circle cx="307.0" cy="270.7" r="0.7"/><circle cx="349.7" cy="246.5" r="0.7"/><circle cx="195.5" cy="239.2" r="0.7"/><circle cx="218.3" cy="252.8" r="0.7"/><circle cx="229.8" cy="232.0" r="0.6"/><circle cx="371.4" cy="258.6" r="0.7"/><circle cx="248.6" cy="253.6" r="0.85"/><circle cx="272.1" cy="201.0" r="0.6"/><circle cx="227.1" cy="224.9" r="0.6"/><circle cx="206.5" cy="210.7" r="0.85"/><circle cx="373.1" cy="263.9" r="0.85"/><circle cx="295.0" cy="290.9" r="0.85"/><circle cx="353.9" cy="216.5" r="0.6"/><circle cx="366.3" cy="293.3" r="0.7"/><circle cx="364.0" cy="297.8" r="0.7"/><circle cx="389.3" cy="289.5" r="0.7"/><circle cx="379.6" cy="170.4" r="0.6"/><circle cx="151.9" cy="187.9" r="0.85"/><circle cx="272.3" cy="252.4" r="0.6"/><circle cx="192.7" cy="195.4" r="0.7"/><circle cx="250.9" cy="213.5" r="0.85"/><circle cx="193.2" cy="271.2" r="0.6"/><circle cx="170.3" cy="207.5" r="0.7"/><circle cx="253.7" cy="195.1" r="0.7"/><circle cx="331.9" cy="260.5" r="0.7"/><circle cx="385.0" cy="283.7" r="0.7"/><circle cx="376.0" cy="224.9" r="0.7"/><circle cx="261.2" cy="299.8" r="0.6"/><circle cx="233.1" cy="280.6" r="0.7"/><circle cx="152.2" cy="217.3" r="0.7"/><circle cx="342.7" cy="207.3" r="0.6"/><circle cx="372.9" cy="236.6" r="0.6"/><circle cx="177.2" cy="238.1" r="0.85"/><circle cx="150.1" cy="293.4" r="0.6"/><circle cx="195.0" cy="269.6" r="0.7"/><circle cx="231.9" cy="295.5" r="0.7"/><circle cx="384.9" cy="172.6" r="0.6"/><circle cx="203.5" cy="204.5" r="0.7"/><circle cx="349.7" cy="247.7" r="0.6"/><circle cx="255.3" cy="202.5" r="0.85"/><circle cx="341.5" cy="223.2" r="0.7"/><circle cx="228.2" cy="171.9" r="0.6"/><circle cx="298.7" cy="257.1" r="0.85"/><circle cx="205.6" cy="185.9" r="0.7"/><circle cx="269.7" cy="277.7" r="0.85"/><circle cx="177.8" cy="170.2" r="0.6"/><circle cx="149.2" cy="252.9" r="0.7"/><circle cx="259.5" cy="255.8" r="0.85"/><circle cx="271.2" cy="217.0" r="0.85"/><circle cx="186.8" cy="192.1" r="0.85"/><circle cx="179.2" cy="277.8" r="0.6"/><circle cx="245.0" cy="214.5" r="0.7"/><circle cx="213.2" cy="201.7" r="0.7"/><circle cx="380.0" cy="188.5" r="0.7"/><circle cx="179.2" cy="173.0" r="0.7"/><circle cx="353.5" cy="277.2" r="0.85"/><circle cx="295.1" cy="172.0" r="0.85"/><circle cx="291.4" cy="183.3" r="0.6"/><circle cx="213.6" cy="261.6" r="0.7"/><circle cx="170.1" cy="256.3" r="0.7"/><circle cx="153.2" cy="232.3" r="0.85"/><circle cx="254.7" cy="209.1" r="0.7"/><circle cx="189.4" cy="218.6" r="0.7"/><circle cx="222.5" cy="203.8" r="0.6"/><circle cx="376.2" cy="209.9" r="0.7"/><circle cx="281.0" cy="172.7" r="0.7"/><circle cx="206.3" cy="297.4" r="0.6"/><circle cx="266.3" cy="294.3" r="0.85"/><circle cx="164.5" cy="237.5" r="0.85"/><circle cx="299.9" cy="184.3" r="0.6"/><circle cx="375.8" cy="296.6" r="0.85"/><circle cx="162.0" cy="203.3" r="0.7"/><circle cx="258.1" cy="206.2" r="0.85"/><circle cx="156.5" cy="199.1" r="0.6"/><circle cx="180.3" cy="287.5" r="0.6"/><circle cx="314.1" cy="229.7" r="0.7"/><circle cx="303.5" cy="186.8" r="0.6"/><circle cx="189.2" cy="250.7" r="0.7"/><circle cx="191.5" cy="276.6" r="0.6"/><circle cx="157.0" cy="294.8" r="0.85"/><circle cx="197.5" cy="270.8" r="0.7"/><circle cx="240.5" cy="298.4" r="0.7"/><circle cx="170.6" cy="183.2" r="0.7"/><circle cx="176.1" cy="214.5" r="0.85"/><circle cx="163.9" cy="193.3" r="0.7"/><circle cx="389.2" cy="297.3" r="0.6"/><circle cx="160.8" cy="240.1" r="0.7"/><circle cx="170.4" cy="279.8" r="0.7"/><circle cx="150.2" cy="213.6" r="0.85"/><circle cx="354.2" cy="226.4" r="0.7"/><circle cx="258.7" cy="239.0" r="0.7"/><circle cx="181.5" cy="228.2" r="0.7"/><circle cx="194.1" cy="246.4" r="0.85"/><circle cx="352.8" cy="191.7" r="0.6"/><circle cx="222.6" cy="278.9" r="0.6"/><circle cx="158.0" cy="297.1" r="0.7"/><circle cx="295.5" cy="191.5" r="0.85"/><circle cx="148.4" cy="282.8" r="0.7"/><circle cx="387.9" cy="258.5" r="0.85"/><circle cx="315.8" cy="204.3" r="0.7"/><circle cx="277.4" cy="226.2" r="0.6"/><circle cx="289.7" cy="196.8" r="0.7"/><circle cx="269.1" cy="217.3" r="0.7"/><circle cx="289.8" cy="260.7" r="0.85"/><circle cx="374.4" cy="281.8" r="0.7"/><circle cx="215.3" cy="296.9" r="0.7"/><circle cx="189.7" cy="247.5" r="0.6"/><circle cx="324.4" cy="213.0" r="0.85"/><circle cx="205.9" cy="225.4" r="0.7"/><circle cx="256.0" cy="231.1" r="0.85"/><circle cx="338.2" cy="191.2" r="0.85"/><circle cx="274.5" cy="226.3" r="0.85"/><circle cx="157.6" cy="223.1" r="0.85"/><circle cx="352.6" cy="270.6" r="0.6"/><circle cx="202.9" cy="218.4" r="0.6"/><circle cx="385.4" cy="216.4" r="0.6"/><circle cx="158.6" cy="233.2" r="0.6"/><circle cx="250.6" cy="282.5" r="0.85"/><circle cx="282.3" cy="169.6" r="0.7"/><circle cx="268.8" cy="220.7" r="0.7"/><circle cx="367.4" cy="258.5" r="0.6"/><circle cx="288.2" cy="187.3" r="0.6"/><circle cx="145.0" cy="176.5" r="0.6"/><circle cx="179.2" cy="178.8" r="0.7"/><circle cx="251.6" cy="194.0" r="0.6"/><circle cx="277.0" cy="289.6" r="0.85"/><circle cx="253.9" cy="216.0" r="0.85"/><circle cx="350.2" cy="288.5" r="0.7"/><circle cx="228.1" cy="245.1" r="0.85"/><circle cx="360.6" cy="217.9" r="0.7"/><circle cx="179.0" cy="208.5" r="0.85"/><circle cx="191.5" cy="276.7" r="0.85"/><circle cx="361.2" cy="224.9" r="0.7"/><circle cx="238.8" cy="232.7" r="0.6"/><circle cx="260.8" cy="186.5" r="0.6"/><circle cx="270.4" cy="225.1" r="0.85"/><circle cx="377.7" cy="207.3" r="0.7"/><circle cx="168.8" cy="297.2" r="0.85"/><circle cx="360.0" cy="176.5" r="0.85"/><circle cx="388.0" cy="176.7" r="0.6"/><circle cx="224.5" cy="288.5" r="0.85"/><circle cx="364.1" cy="277.1" r="0.7"/><circle cx="302.8" cy="284.4" r="0.6"/><circle cx="361.6" cy="194.7" r="0.7"/><circle cx="379.7" cy="174.8" r="0.85"/><circle cx="151.5" cy="291.4" r="0.85"/><circle cx="203.7" cy="277.4" r="0.6"/><circle cx="201.9" cy="229.9" r="0.85"/><circle cx="242.0" cy="213.4" r="0.7"/><circle cx="307.1" cy="237.7" r="0.6"/><circle cx="285.4" cy="213.2" r="0.85"/><circle cx="177.6" cy="238.2" r="0.85"/><circle cx="271.9" cy="209.6" r="0.85"/><circle cx="355.1" cy="265.4" r="0.6"/><circle cx="254.5" cy="263.2" r="0.7"/><circle cx="299.3" cy="233.1" r="0.6"/><circle cx="190.0" cy="181.7" r="0.7"/><circle cx="174.3" cy="288.6" r="0.7"/><circle cx="351.3" cy="209.6" r="0.6"/><circle cx="225.1" cy="200.6" r="0.85"/><circle cx="349.1" cy="175.5" r="0.7"/><circle cx="234.9" cy="197.5" r="0.7"/><circle cx="206.4" cy="202.8" r="0.85"/><circle cx="381.6" cy="264.7" r="0.6"/><circle cx="199.0" cy="226.4" r="0.85"/><circle cx="186.2" cy="231.8" r="0.6"/><circle cx="197.8" cy="256.5" r="0.85"/><circle cx="201.9" cy="258.3" r="0.85"/><circle cx="241.6" cy="239.2" r="0.85"/><circle cx="188.4" cy="207.8" r="0.7"/><circle cx="158.7" cy="271.8" r="0.7"/><circle cx="265.1" cy="244.4" r="0.7"/><circle cx="272.3" cy="223.4" r="0.7"/><circle cx="199.4" cy="275.9" r="0.7"/><circle cx="229.8" cy="299.4" r="0.7"/><circle cx="330.7" cy="183.2" r="0.7"/><circle cx="228.0" cy="264.7" r="0.85"/><circle cx="223.7" cy="214.1" r="0.6"/><circle cx="353.5" cy="231.1" r="0.85"/><circle cx="182.2" cy="289.7" r="0.7"/><circle cx="265.7" cy="244.9" r="0.85"/><circle cx="194.8" cy="180.3" r="0.85"/><circle cx="290.3" cy="245.1" r="0.85"/><circle cx="361.7" cy="239.5" r="0.7"/><circle cx="349.8" cy="266.7" r="0.7"/><circle cx="371.3" cy="223.8" r="0.85"/><circle cx="325.1" cy="214.3" r="0.7"/><circle cx="235.7" cy="192.0" r="0.7"/><circle cx="315.9" cy="242.3" r="0.7"/><circle cx="319.7" cy="210.8" r="0.6"/><circle cx="223.3" cy="263.7" r="0.6"/><circle cx="277.6" cy="229.4" r="0.7"/><circle cx="280.4" cy="216.3" r="0.85"/><circle cx="158.4" cy="231.7" r="0.6"/><circle cx="185.6" cy="255.8" r="0.6"/><circle cx="169.7" cy="239.0" r="0.7"/><circle cx="357.8" cy="236.0" r="0.7"/><circle cx="212.2" cy="231.3" r="0.85"/><circle cx="222.0" cy="292.3" r="0.6"/><circle cx="196.9" cy="182.5" r="0.7"/><circle cx="251.3" cy="202.6" r="0.85"/><circle cx="190.6" cy="243.4" r="0.85"/><circle cx="377.1" cy="256.0" r="0.6"/><circle cx="386.4" cy="272.4" r="0.85"/><circle cx="229.1" cy="182.1" r="0.85"/><circle cx="178.2" cy="179.0" r="0.7"/><circle cx="226.8" cy="183.2" r="0.6"/><circle cx="185.5" cy="256.1" r="0.7"/><circle cx="388.8" cy="185.6" r="0.7"/><circle cx="327.5" cy="234.5" r="0.85"/><circle cx="285.7" cy="297.1" r="0.7"/><circle cx="208.1" cy="239.8" r="0.85"/><circle cx="365.7" cy="188.3" r="0.6"/><circle cx="186.6" cy="252.5" r="0.6"/><circle cx="338.8" cy="185.3" r="0.85"/><circle cx="378.5" cy="279.9" r="0.85"/><circle cx="302.8" cy="201.9" r="0.85"/><circle cx="281.4" cy="266.4" r="0.7"/><circle cx="194.7" cy="188.9" r="0.85"/><circle cx="163.1" cy="224.5" r="0.7"/><circle cx="181.6" cy="239.8" r="0.85"/><circle cx="344.7" cy="264.5" r="0.7"/><circle cx="178.5" cy="250.5" r="0.85"/><circle cx="178.8" cy="168.9" r="0.6"/><circle cx="299.1" cy="236.4" r="0.85"/><circle cx="256.7" cy="299.2" r="0.85"/><circle cx="253.5" cy="191.2" r="0.6"/><circle cx="162.1" cy="258.1" r="0.7"/><circle cx="186.9" cy="172.3" r="0.85"/><circle cx="323.0" cy="278.1" r="0.7"/><circle cx="169.9" cy="273.9" r="0.7"/><circle cx="147.8" cy="238.7" r="0.85"/><circle cx="321.7" cy="250.8" r="0.7"/><circle cx="255.8" cy="273.6" r="0.7"/><circle cx="197.6" cy="188.8" r="0.7"/><circle cx="168.5" cy="209.7" r="0.85"/><circle cx="173.1" cy="256.0" r="0.6"/><circle cx="216.1" cy="171.3" r="0.6"/><circle cx="289.2" cy="197.5" r="0.7"/><circle cx="284.4" cy="203.0" r="0.85"/><circle cx="238.4" cy="286.5" r="0.6"/><circle cx="272.8" cy="224.3" r="0.7"/><circle cx="341.0" cy="191.5" r="0.7"/><circle cx="267.5" cy="181.2" r="0.85"/><circle cx="375.0" cy="187.5" r="0.85"/><circle cx="175.9" cy="299.9" r="0.6"/><circle cx="200.4" cy="237.4" r="0.7"/><circle cx="174.9" cy="233.9" r="0.7"/><circle cx="341.6" cy="265.7" r="0.7"/><circle cx="150.0" cy="171.0" r="0.85"/><circle cx="146.2" cy="261.5" r="0.7"/><circle cx="366.9" cy="174.3" r="0.85"/><circle cx="217.6" cy="275.8" r="0.7"/><circle cx="218.6" cy="208.3" r="0.6"/><circle cx="220.7" cy="242.3" r="0.7"/><circle cx="381.2" cy="173.8" r="0.85"/><circle cx="191.9" cy="179.0" r="0.85"/><circle cx="240.9" cy="266.8" r="0.85"/><circle cx="269.6" cy="251.2" r="0.6"/><circle cx="380.7" cy="207.7" r="0.85"/><circle cx="146.5" cy="177.0" r="0.85"/><circle cx="267.4" cy="179.3" r="0.85"/><circle cx="319.2" cy="242.0" r="0.7"/><circle cx="251.3" cy="213.3" r="0.6"/><circle cx="224.1" cy="231.5" r="0.85"/><circle cx="208.2" cy="230.5" r="0.7"/><circle cx="195.4" cy="180.9" r="0.7"/><circle cx="327.2" cy="294.3" r="0.7"/><circle cx="329.5" cy="263.0" r="0.85"/><circle cx="159.3" cy="199.6" r="0.85"/><circle cx="156.9" cy="221.1" r="0.7"/><circle cx="189.5" cy="180.9" r="0.6"/><circle cx="368.8" cy="227.7" r="0.7"/><circle cx="361.5" cy="242.6" r="0.7"/><circle cx="237.4" cy="276.1" r="0.7"/><circle cx="324.6" cy="267.1" r="0.7"/><circle cx="366.5" cy="219.7" r="0.85"/><circle cx="198.8" cy="198.1" r="0.6"/><circle cx="332.6" cy="172.1" r="0.7"/><circle cx="323.3" cy="181.7" r="0.7"/><circle cx="262.2" cy="218.0" r="0.85"/><circle cx="281.8" cy="248.9" r="0.7"/><circle cx="241.8" cy="253.3" r="0.85"/><circle cx="184.6" cy="170.9" r="0.85"/><circle cx="363.3" cy="273.6" r="0.85"/><circle cx="168.9" cy="275.8" r="0.7"/><circle cx="335.3" cy="286.7" r="0.6"/><circle cx="170.5" cy="196.3" r="0.7"/><circle cx="279.6" cy="185.0" r="0.7"/><circle cx="251.6" cy="187.2" r="0.6"/><circle cx="314.2" cy="250.7" r="0.7"/><circle cx="222.3" cy="226.5" r="0.6"/><circle cx="207.2" cy="170.4" r="0.7"/><circle cx="222.6" cy="218.9" r="0.6"/><circle cx="214.1" cy="179.3" r="0.7"/><circle cx="204.7" cy="197.2" r="0.7"/><circle cx="201.2" cy="286.9" r="0.7"/><circle cx="281.8" cy="270.2" r="0.85"/><circle cx="195.8" cy="264.3" r="0.6"/><circle cx="269.3" cy="207.3" r="0.6"/><circle cx="373.8" cy="267.4" r="0.85"/><circle cx="162.3" cy="201.0" r="0.6"/><circle cx="216.2" cy="213.5" r="0.6"/><circle cx="366.8" cy="288.7" r="0.85"/><circle cx="336.4" cy="228.0" r="0.7"/><circle cx="158.8" cy="287.4" r="0.7"/><circle cx="286.7" cy="277.3" r="0.85"/><circle cx="194.1" cy="289.8" r="0.7"/><circle cx="230.6" cy="179.7" r="0.7"/><circle cx="365.1" cy="220.6" r="0.7"/><circle cx="339.8" cy="270.8" r="0.6"/><circle cx="206.5" cy="184.4" r="0.85"/><circle cx="174.9" cy="190.9" r="0.7"/><circle cx="229.2" cy="190.4" r="0.7"/><circle cx="156.6" cy="270.9" r="0.85"/><circle cx="278.1" cy="221.7" r="0.7"/><circle cx="281.2" cy="170.6" r="0.7"/><circle cx="335.8" cy="225.8" r="0.6"/><circle cx="263.3" cy="183.9" r="0.6"/><circle cx="235.5" cy="280.7" r="0.7"/><circle cx="238.7" cy="236.1" r="0.7"/><circle cx="237.0" cy="215.7" r="0.7"/><circle cx="324.3" cy="291.3" r="0.7"/><circle cx="262.4" cy="233.4" r="0.7"/><circle cx="147.5" cy="177.8" r="0.7"/><circle cx="190.6" cy="297.5" r="0.6"/><circle cx="306.6" cy="190.9" r="0.85"/><circle cx="339.8" cy="202.4" r="0.6"/><circle cx="233.9" cy="168.6" r="0.6"/><circle cx="352.1" cy="283.8" r="0.85"/><circle cx="158.0" cy="218.0" r="0.6"/><circle cx="302.0" cy="234.3" r="0.7"/><circle cx="327.3" cy="273.0" r="0.7"/><circle cx="310.8" cy="283.5" r="0.85"/><circle cx="326.6" cy="182.4" r="0.6"/><circle cx="308.1" cy="194.6" r="0.6"/><circle cx="213.7" cy="255.4" r="0.6"/><circle cx="340.9" cy="174.5" r="0.7"/><circle cx="154.2" cy="235.4" r="0.85"/><circle cx="197.5" cy="261.0" r="0.85"/><circle cx="384.9" cy="208.1" r="0.7"/><circle cx="316.1" cy="169.9" r="0.6"/><circle cx="317.0" cy="253.3" r="0.6"/><circle cx="198.2" cy="245.5" r="0.6"/><circle cx="316.8" cy="214.0" r="0.85"/><circle cx="272.9" cy="256.4" r="0.6"/><circle cx="296.8" cy="288.7" r="0.7"/><circle cx="355.6" cy="205.1" r="0.6"/><circle cx="330.8" cy="239.9" r="0.7"/><circle cx="252.3" cy="219.5" r="0.85"/><circle cx="367.3" cy="238.7" r="0.7"/><circle cx="227.4" cy="269.1" r="0.6"/><circle cx="217.5" cy="177.7" r="0.7"/><circle cx="323.8" cy="246.4" r="0.7"/><circle cx="381.6" cy="235.4" r="0.6"/><circle cx="370.8" cy="250.6" r="0.6"/><circle cx="292.2" cy="216.1" r="0.6"/><circle cx="304.2" cy="228.5" r="0.85"/><circle cx="347.2" cy="201.2" r="0.7"/><circle cx="276.1" cy="266.3" r="0.85"/><circle cx="192.0" cy="271.7" r="0.7"/><circle cx="166.4" cy="259.2" r="0.7"/><circle cx="336.8" cy="220.2" r="0.6"/><circle cx="194.6" cy="202.6" r="0.6"/><circle cx="380.1" cy="287.7" r="0.7"/><circle cx="145.1" cy="191.5" r="0.6"/><circle cx="298.2" cy="199.4" r="0.85"/><circle cx="283.6" cy="206.2" r="0.85"/><circle cx="192.0" cy="236.2" r="0.6"/><circle cx="145.4" cy="226.0" r="0.7"/><circle cx="291.8" cy="288.4" r="0.85"/><circle cx="223.1" cy="206.7" r="0.85"/><circle cx="257.6" cy="242.5" r="0.7"/><circle cx="355.5" cy="236.5" r="0.7"/><circle cx="204.0" cy="194.6" r="0.6"/><circle cx="234.1" cy="238.8" r="0.7"/><circle cx="346.4" cy="191.6" r="0.7"/><circle cx="183.7" cy="180.4" r="0.7"/><circle cx="287.3" cy="199.5" r="0.85"/><circle cx="269.7" cy="239.0" r="0.6"/><circle cx="329.1" cy="198.2" r="0.7"/><circle cx="179.8" cy="205.7" r="0.6"/><circle cx="230.6" cy="271.6" r="0.7"/><circle cx="287.0" cy="187.7" r="0.7"/><circle cx="309.2" cy="221.5" r="0.7"/><circle cx="370.6" cy="279.1" r="0.85"/><circle cx="316.2" cy="249.5" r="0.7"/><circle cx="247.7" cy="216.2" r="0.6"/><circle cx="189.2" cy="273.4" r="0.6"/><circle cx="244.8" cy="173.8" r="0.85"/><circle cx="360.0" cy="268.3" r="0.85"/><circle cx="164.0" cy="225.3" r="0.7"/><circle cx="375.7" cy="192.2" r="0.85"/><circle cx="230.3" cy="222.5" r="0.6"/><circle cx="372.5" cy="259.9" r="0.7"/><circle cx="382.3" cy="198.7" r="0.7"/><circle cx="235.6" cy="214.9" r="0.85"/><circle cx="184.0" cy="216.0" r="0.85"/><circle cx="145.0" cy="253.6" r="0.7"/><circle cx="209.5" cy="186.1" r="0.7"/><circle cx="385.1" cy="268.2" r="0.85"/><circle cx="288.7" cy="283.0" r="0.6"/><circle cx="329.0" cy="221.4" r="0.7"/><circle cx="387.8" cy="268.3" r="0.7"/><circle cx="167.6" cy="217.8" r="0.6"/><circle cx="196.6" cy="268.0" r="0.85"/><circle cx="233.7" cy="272.6" r="0.7"/><circle cx="219.2" cy="287.4" r="0.85"/><circle cx="303.5" cy="253.2" r="0.7"/><circle cx="182.7" cy="213.4" r="0.6"/><circle cx="215.0" cy="297.3" r="0.85"/><circle cx="330.9" cy="204.7" r="0.6"/><circle cx="192.3" cy="259.7" r="0.7"/><circle cx="304.9" cy="196.2" r="0.85"/><circle cx="197.9" cy="198.8" r="0.85"/><circle cx="209.6" cy="200.5" r="0.6"/><circle cx="385.8" cy="182.7" r="0.85"/><circle cx="379.4" cy="170.6" r="0.85"/><circle cx="246.2" cy="280.0" r="0.85"/><circle cx="278.9" cy="291.8" r="0.7"/><circle cx="296.7" cy="184.5" r="0.85"/><circle cx="177.3" cy="288.4" r="0.6"/><circle cx="342.1" cy="230.4" r="0.85"/><circle cx="239.3" cy="237.1" r="0.6"/><circle cx="310.7" cy="245.5" r="0.7"/><circle cx="165.4" cy="276.2" r="0.6"/><circle cx="387.1" cy="256.7" r="0.6"/><circle cx="281.8" cy="225.1" r="0.6"/><circle cx="297.9" cy="209.5" r="0.7"/><circle cx="232.1" cy="286.4" r="0.7"/><circle cx="354.6" cy="229.3" r="0.6"/><circle cx="162.4" cy="201.4" r="0.85"/><circle cx="173.2" cy="239.8" r="0.6"/><circle cx="289.5" cy="214.0" r="0.85"/><circle cx="347.3" cy="244.5" r="0.85"/><circle cx="368.6" cy="282.1" r="0.6"/><circle cx="388.0" cy="296.3" r="0.6"/><circle cx="181.1" cy="250.5" r="0.85"/><circle cx="339.3" cy="194.5" r="0.6"/><circle cx="275.7" cy="179.4" r="0.7"/><circle cx="384.5" cy="228.1" r="0.6"/><circle cx="345.8" cy="195.3" r="0.7"/><circle cx="336.2" cy="182.4" r="0.6"/><circle cx="317.3" cy="242.1" r="0.7"/><circle cx="310.0" cy="279.9" r="0.6"/><circle cx="254.0" cy="179.5" r="0.7"/><circle cx="162.7" cy="232.2" r="0.85"/><circle cx="182.6" cy="199.2" r="0.85"/><circle cx="263.8" cy="221.4" r="0.85"/><circle cx="159.8" cy="282.7" r="0.85"/><circle cx="218.6" cy="257.0" r="0.6"/><circle cx="301.9" cy="189.1" r="0.85"/><circle cx="151.3" cy="182.5" r="0.6"/><circle cx="360.1" cy="281.0" r="0.6"/><circle cx="281.0" cy="283.5" r="0.85"/><circle cx="196.8" cy="270.4" r="0.6"/><circle cx="217.2" cy="225.8" r="0.85"/><circle cx="257.9" cy="184.0" r="0.85"/><circle cx="298.3" cy="247.9" r="0.6"/><circle cx="200.4" cy="285.0" r="0.85"/><circle cx="210.5" cy="184.6" r="0.7"/><circle cx="151.5" cy="218.9" r="0.6"/><circle cx="278.3" cy="282.4" r="0.6"/><circle cx="166.8" cy="290.5" r="0.6"/><circle cx="343.7" cy="191.2" r="0.7"/><circle cx="345.6" cy="276.0" r="0.7"/><circle cx="260.2" cy="260.2" r="0.7"/><circle cx="163.8" cy="287.7" r="0.7"/><circle cx="290.1" cy="176.2" r="0.7"/><circle cx="222.4" cy="177.0" r="0.7"/><circle cx="174.3" cy="281.8" r="0.85"/><circle cx="318.9" cy="298.5" r="0.85"/><circle cx="146.7" cy="291.0" r="0.7"/><circle cx="320.1" cy="218.7" r="0.7"/><circle cx="229.2" cy="279.4" r="0.7"/><circle cx="195.0" cy="265.7" r="0.7"/><circle cx="336.7" cy="207.5" r="0.85"/><circle cx="298.8" cy="188.5" r="0.7"/><circle cx="165.2" cy="245.2" r="0.7"/><circle cx="309.5" cy="295.4" r="0.7"/><circle cx="220.0" cy="177.4" r="0.85"/><circle cx="273.9" cy="267.4" r="0.85"/><circle cx="205.5" cy="197.2" r="0.85"/><circle cx="287.3" cy="229.2" r="0.85"/><circle cx="300.4" cy="206.4" r="0.85"/><circle cx="344.0" cy="186.9" r="0.85"/><circle cx="312.7" cy="255.3" r="0.85"/><circle cx="145.6" cy="190.8" r="0.7"/><circle cx="236.3" cy="261.1" r="0.85"/><circle cx="342.7" cy="266.1" r="0.85"/><circle cx="282.7" cy="298.0" r="0.85"/><circle cx="238.2" cy="294.6" r="0.6"/><circle cx="319.4" cy="247.8" r="0.85"/><circle cx="222.3" cy="182.0" r="0.7"/><circle cx="294.5" cy="202.3" r="0.7"/><circle cx="217.8" cy="299.8" r="0.7"/><circle cx="350.3" cy="261.9" r="0.7"/><circle cx="184.8" cy="182.3" r="0.7"/><circle cx="320.3" cy="195.9" r="0.7"/><circle cx="218.1" cy="265.3" r="0.85"/><circle cx="386.0" cy="257.6" r="0.7"/><circle cx="163.1" cy="246.2" r="0.6"/><circle cx="322.1" cy="173.6" r="0.7"/><circle cx="272.4" cy="248.9" r="0.7"/><circle cx="356.1" cy="224.8" r="0.6"/><circle cx="182.7" cy="168.6" r="0.7"/><circle cx="255.3" cy="200.3" r="0.85"/><circle cx="312.4" cy="253.0" r="0.6"/><circle cx="310.8" cy="214.5" r="0.85"/><circle cx="368.0" cy="289.2" r="0.85"/><circle cx="298.9" cy="250.6" r="0.7"/><circle cx="234.0" cy="174.5" r="0.85"/><circle cx="213.4" cy="211.5" r="0.6"/><circle cx="195.1" cy="262.2" r="0.6"/><circle cx="360.6" cy="292.4" r="0.6"/><circle cx="165.2" cy="275.9" r="0.85"/><circle cx="261.5" cy="231.1" r="0.7"/><circle cx="146.9" cy="280.1" r="0.7"/><circle cx="255.7" cy="295.8" r="0.85"/><circle cx="178.5" cy="221.2" r="0.6"/><circle cx="251.6" cy="234.0" r="0.6"/><circle cx="163.1" cy="183.3" r="0.6"/><circle cx="205.5" cy="210.6" r="0.7"/><circle cx="338.4" cy="174.1" r="0.6"/><circle cx="377.0" cy="213.0" r="0.7"/><circle cx="305.3" cy="260.8" r="0.7"/><circle cx="187.6" cy="278.4" r="0.7"/><circle cx="187.0" cy="293.3" r="0.7"/><circle cx="236.4" cy="211.9" r="0.6"/><circle cx="367.3" cy="191.6" r="0.6"/><circle cx="228.8" cy="191.3" r="0.6"/><circle cx="167.9" cy="294.5" r="0.7"/><circle cx="280.9" cy="250.5" r="0.85"/><circle cx="216.2" cy="181.1" r="0.6"/><circle cx="191.9" cy="276.4" r="0.85"/><circle cx="204.1" cy="209.8" r="0.85"/><circle cx="194.4" cy="190.6" r="0.85"/><circle cx="324.6" cy="271.9" r="0.85"/><circle cx="171.9" cy="297.2" r="0.6"/><circle cx="193.1" cy="251.8" r="0.7"/><circle cx="339.1" cy="267.8" r="0.6"/><circle cx="308.5" cy="190.9" r="0.85"/><circle cx="147.6" cy="272.2" r="0.7"/><circle cx="156.7" cy="227.9" r="0.7"/><circle cx="226.5" cy="208.0" r="0.85"/><circle cx="253.1" cy="299.7" r="0.6"/><circle cx="355.3" cy="261.3" r="0.6"/><circle cx="316.0" cy="202.4" r="0.7"/><circle cx="200.4" cy="227.0" r="0.85"/><circle cx="193.5" cy="288.4" r="0.7"/><circle cx="343.6" cy="230.9" r="0.6"/><circle cx="270.1" cy="257.2" r="0.7"/><circle cx="307.6" cy="174.7" r="0.6"/><circle cx="349.2" cy="204.2" r="0.6"/><circle cx="219.6" cy="286.4" r="0.6"/><circle cx="292.5" cy="257.4" r="0.6"/><circle cx="222.2" cy="298.2" r="0.85"/><circle cx="276.7" cy="196.6" r="0.7"/><circle cx="359.7" cy="224.0" r="0.85"/><circle cx="164.8" cy="222.9" r="0.85"/><circle cx="175.4" cy="243.1" r="0.6"/><circle cx="352.1" cy="236.0" r="0.7"/><circle cx="252.6" cy="281.4" r="0.7"/><circle cx="196.2" cy="220.7" r="0.85"/><circle cx="164.0" cy="170.3" r="0.85"/><circle cx="249.5" cy="272.1" r="0.6"/><circle cx="321.9" cy="189.2" r="0.85"/><circle cx="256.0" cy="204.1" r="0.85"/><circle cx="249.9" cy="295.5" r="0.7"/><circle cx="203.8" cy="217.7" r="0.85"/><circle cx="281.0" cy="205.3" r="0.7"/><circle cx="183.5" cy="278.5" r="0.6"/><circle cx="199.3" cy="178.4" r="0.6"/><circle cx="338.2" cy="248.2" r="0.6"/><circle cx="247.1" cy="226.5" r="0.85"/><circle cx="381.8" cy="269.1" r="0.6"/><circle cx="167.6" cy="269.3" r="0.85"/><circle cx="208.2" cy="213.8" r="0.6"/><circle cx="288.4" cy="242.0" r="0.85"/><circle cx="290.4" cy="247.4" r="0.85"/><circle cx="295.3" cy="258.4" r="0.6"/><circle cx="327.6" cy="233.7" r="0.85"/><circle cx="228.8" cy="294.5" r="0.6"/><circle cx="230.9" cy="171.2" r="0.7"/><circle cx="275.4" cy="209.3" r="0.85"/><circle cx="169.0" cy="244.1" r="0.7"/><circle cx="180.1" cy="292.7" r="0.6"/><circle cx="216.7" cy="277.0" r="0.7"/><circle cx="264.7" cy="235.8" r="0.7"/><circle cx="157.9" cy="224.7" r="0.6"/><circle cx="375.4" cy="254.1" r="0.6"/><circle cx="359.9" cy="230.9" r="0.85"/><circle cx="236.3" cy="252.2" r="0.6"/><circle cx="281.0" cy="246.9" r="0.7"/><circle cx="307.0" cy="277.1" r="0.7"/><circle cx="316.1" cy="217.7" r="0.7"/><circle cx="256.3" cy="251.8" r="0.6"/><circle cx="349.9" cy="224.0" r="0.6"/><circle cx="190.0" cy="200.8" r="0.7"/><circle cx="230.6" cy="193.4" r="0.7"/><circle cx="268.1" cy="269.0" r="0.7"/><circle cx="231.0" cy="210.6" r="0.6"/><circle cx="146.7" cy="170.4" r="0.7"/><circle cx="166.8" cy="246.0" r="0.7"/><circle cx="348.4" cy="225.1" r="0.6"/><circle cx="177.2" cy="259.9" r="0.7"/><circle cx="347.0" cy="191.2" r="0.6"/><circle cx="367.5" cy="271.8" r="0.85"/><circle cx="288.0" cy="193.2" r="0.6"/><circle cx="310.6" cy="254.2" r="0.7"/><circle cx="219.5" cy="195.4" r="0.85"/><circle cx="222.8" cy="208.4" r="0.85"/><circle cx="355.9" cy="280.0" r="0.85"/><circle cx="286.0" cy="252.6" r="0.85"/><circle cx="192.8" cy="274.6" r="0.6"/><circle cx="215.3" cy="287.8" r="0.7"/><circle cx="324.6" cy="223.3" r="0.7"/><circle cx="258.7" cy="260.0" r="0.6"/><circle cx="165.0" cy="169.9" r="0.85"/><circle cx="252.8" cy="265.5" r="0.85"/><circle cx="273.7" cy="215.1" r="0.7"/><circle cx="233.0" cy="266.6" r="0.6"/><circle cx="347.3" cy="183.9" r="0.6"/><circle cx="156.7" cy="205.5" r="0.7"/><circle cx="274.8" cy="245.5" r="0.85"/><circle cx="324.1" cy="168.6" r="0.6"/><circle cx="355.6" cy="195.0" r="0.85"/><circle cx="298.2" cy="208.1" r="0.85"/><circle cx="283.0" cy="198.6" r="0.7"/><circle cx="242.6" cy="215.3" r="0.6"/><circle cx="301.4" cy="233.4" r="0.85"/><circle cx="203.1" cy="193.1" r="0.6"/><circle cx="176.8" cy="270.4" r="0.85"/><circle cx="209.5" cy="271.0" r="0.7"/><circle cx="306.1" cy="185.6" r="0.7"/><circle cx="364.5" cy="223.5" r="0.7"/><circle cx="316.6" cy="206.4" r="0.6"/><circle cx="264.1" cy="285.6" r="0.6"/><circle cx="389.2" cy="266.2" r="0.6"/><circle cx="328.7" cy="185.6" r="0.7"/><circle cx="376.6" cy="256.6" r="0.85"/><circle cx="387.9" cy="276.2" r="0.85"/><circle cx="267.0" cy="230.4" r="0.85"/><circle cx="250.2" cy="172.4" r="0.7"/><circle cx="174.6" cy="248.1" r="0.85"/><circle cx="289.5" cy="204.3" r="0.6"/><circle cx="311.7" cy="241.9" r="0.85"/><circle cx="318.9" cy="282.7" r="0.6"/><circle cx="261.5" cy="241.1" r="0.7"/><circle cx="372.9" cy="251.4" r="0.85"/><circle cx="167.0" cy="295.7" r="0.7"/><circle cx="366.3" cy="211.9" r="0.85"/><circle cx="222.0" cy="246.9" r="0.6"/><circle cx="219.0" cy="204.6" r="0.6"/><circle cx="351.1" cy="237.7" r="0.6"/><circle cx="183.1" cy="214.9" r="0.85"/><circle cx="205.5" cy="276.8" r="0.6"/><circle cx="351.5" cy="252.5" r="0.6"/><circle cx="219.3" cy="282.8" r="0.6"/><circle cx="274.8" cy="171.0" r="0.6"/><circle cx="332.2" cy="237.5" r="0.85"/><circle cx="322.5" cy="235.0" r="0.85"/><circle cx="294.0" cy="294.3" r="0.6"/><circle cx="390.0" cy="195.1" r="0.85"/><circle cx="265.6" cy="222.9" r="0.85"/><circle cx="230.9" cy="199.4" r="0.85"/><circle cx="354.8" cy="285.7" r="0.85"/><circle cx="243.2" cy="266.3" r="0.7"/><circle cx="237.0" cy="267.7" r="0.7"/><circle cx="261.2" cy="268.1" r="0.7"/><circle cx="322.5" cy="267.3" r="0.6"/><circle cx="336.0" cy="213.1" r="0.6"/><circle cx="196.0" cy="264.6" r="0.6"/><circle cx="210.7" cy="210.6" r="0.7"/><circle cx="230.5" cy="280.8" r="0.7"/><circle cx="307.7" cy="287.6" r="0.85"/><circle cx="244.1" cy="192.5" r="0.7"/><circle cx="329.2" cy="240.0" r="0.7"/><circle cx="316.3" cy="288.2" r="0.6"/><circle cx="162.8" cy="239.9" r="0.6"/><circle cx="169.2" cy="297.5" r="0.7"/><circle cx="265.1" cy="201.9" r="0.85"/><circle cx="211.7" cy="196.1" r="0.6"/><circle cx="385.0" cy="274.3" r="0.85"/><circle cx="263.1" cy="266.7" r="0.85"/><circle cx="349.4" cy="206.1" r="0.7"/><circle cx="378.6" cy="243.8" r="0.6"/><circle cx="361.2" cy="199.6" r="0.7"/><circle cx="234.6" cy="250.6" r="0.7"/><circle cx="316.4" cy="188.0" r="0.85"/><circle cx="215.6" cy="217.3" r="0.6"/><circle cx="365.9" cy="202.8" r="0.85"/><circle cx="245.6" cy="275.3" r="0.6"/><circle cx="293.8" cy="219.3" r="0.7"/><circle cx="200.2" cy="273.5" r="0.7"/><circle cx="343.1" cy="173.3" r="0.85"/><circle cx="315.5" cy="200.0" r="0.85"/><circle cx="356.7" cy="275.9" r="0.85"/><circle cx="226.7" cy="243.9" r="0.6"/><circle cx="163.4" cy="248.0" r="0.85"/><circle cx="227.4" cy="230.2" r="0.85"/><circle cx="170.9" cy="286.2" r="0.7"/><circle cx="269.4" cy="178.2" r="0.6"/><circle cx="154.7" cy="196.5" r="0.85"/><circle cx="273.9" cy="177.5" r="0.85"/><circle cx="302.2" cy="172.1" r="0.7"/><circle cx="151.5" cy="230.7" r="0.6"/><circle cx="301.3" cy="293.4" r="0.85"/><circle cx="348.2" cy="226.4" r="0.7"/><circle cx="256.8" cy="264.6" r="0.85"/><circle cx="356.6" cy="216.5" r="0.7"/><circle cx="317.4" cy="174.8" r="0.7"/><circle cx="284.6" cy="180.8" r="0.85"/><circle cx="235.4" cy="185.0" r="0.7"/><circle cx="344.4" cy="194.8" r="0.6"/><circle cx="363.5" cy="203.1" r="0.85"/><circle cx="179.2" cy="231.8" r="0.85"/><circle cx="289.3" cy="249.3" r="0.6"/><circle cx="275.4" cy="250.8" r="0.7"/><circle cx="295.7" cy="277.9" r="0.6"/><circle cx="291.2" cy="232.3" r="0.85"/><circle cx="194.4" cy="235.1" r="0.7"/><circle cx="328.4" cy="202.2" r="0.6"/><circle cx="255.9" cy="217.5" r="0.7"/><circle cx="386.7" cy="295.9" r="0.6"/><circle cx="323.2" cy="183.5" r="0.6"/><circle cx="165.3" cy="179.8" r="0.6"/><circle cx="195.3" cy="285.7" r="0.85"/><circle cx="251.1" cy="181.0" r="0.6"/><circle cx="388.3" cy="258.8" r="0.85"/><circle cx="186.4" cy="177.8" r="0.7"/><circle cx="219.4" cy="187.8" r="0.7"/><circle cx="375.6" cy="298.1" r="0.6"/><circle cx="364.9" cy="280.0" r="0.85"/><circle cx="231.2" cy="227.5" r="0.85"/><circle cx="353.7" cy="249.9" r="0.7"/><circle cx="270.5" cy="240.5" r="0.6"/><circle cx="230.6" cy="168.4" r="0.7"/><circle cx="343.5" cy="178.8" r="0.6"/><circle cx="298.5" cy="185.5" r="0.7"/><circle cx="164.7" cy="292.0" r="0.6"/><circle cx="256.3" cy="245.5" r="0.7"/><circle cx="170.0" cy="279.7" r="0.6"/><circle cx="213.4" cy="268.4" r="0.7"/><circle cx="291.0" cy="246.0" r="0.85"/></g>
<clipPath id="st2"><path d="M189 333L189.1 307.4L240 333L301.9 362.9L278.3 373.8L247.4 379.2L223.7 378.3L200 372L175 350L150 320L130 300L125 285L150 290L175 325Z"/></clipPath><g clip-path="url(#st2)" fill="#55573a" stroke="none"><circle cx="230.8" cy="284.3" r="0.6"/><circle cx="170.1" cy="346.3" r="0.9"/><circle cx="204.8" cy="358.5" r="0.6"/><circle cx="178.2" cy="336.2" r="0.9"/><circle cx="155.5" cy="320.9" r="0.75"/><circle cx="243.6" cy="291.8" r="0.9"/><circle cx="217.5" cy="311.2" r="0.6"/><circle cx="278.7" cy="380.4" r="0.6"/><circle cx="295.6" cy="374.4" r="0.9"/><circle cx="157.4" cy="339.7" r="0.6"/><circle cx="162.3" cy="308.3" r="0.75"/><circle cx="174.2" cy="282.7" r="0.6"/><circle cx="173.3" cy="334.4" r="0.75"/><circle cx="215.1" cy="334.3" r="0.75"/><circle cx="189.4" cy="349.6" r="0.9"/><circle cx="162.3" cy="325.9" r="0.9"/><circle cx="155.6" cy="357.3" r="0.9"/><circle cx="148.7" cy="285.1" r="0.75"/><circle cx="132.4" cy="359.9" r="0.75"/><circle cx="299.5" cy="291.6" r="0.9"/><circle cx="302.6" cy="302.1" r="0.9"/><circle cx="232.9" cy="299.3" r="0.6"/><circle cx="253.8" cy="345.3" r="0.75"/><circle cx="277.2" cy="339.8" r="0.6"/><circle cx="299.5" cy="295.5" r="0.9"/><circle cx="176.7" cy="314.9" r="0.9"/><circle cx="201.2" cy="318.0" r="0.75"/><circle cx="246.5" cy="302.5" r="0.6"/><circle cx="167.8" cy="297.6" r="0.75"/><circle cx="185.7" cy="337.6" r="0.9"/><circle cx="238.6" cy="371.5" r="0.75"/><circle cx="201.8" cy="356.1" r="0.9"/><circle cx="187.6" cy="372.5" r="0.6"/><circle cx="189.8" cy="353.2" r="0.75"/><circle cx="191.6" cy="349.5" r="0.6"/><circle cx="230.6" cy="325.8" r="0.9"/><circle cx="279.3" cy="285.4" r="0.6"/><circle cx="151.7" cy="378.3" r="0.75"/><circle cx="161.1" cy="309.7" r="0.6"/><circle cx="176.7" cy="299.0" r="0.9"/><circle cx="298.8" cy="362.3" r="0.75"/><circle cx="268.2" cy="379.2" r="0.6"/><circle cx="181.0" cy="323.4" r="0.9"/><circle cx="277.6" cy="353.0" r="0.9"/><circle cx="171.6" cy="283.5" r="0.75"/><circle cx="270.9" cy="340.2" r="0.75"/><circle cx="255.3" cy="291.0" r="0.6"/><circle cx="297.2" cy="356.1" r="0.6"/><circle cx="230.9" cy="344.9" r="0.75"/><circle cx="272.0" cy="309.9" r="0.6"/><circle cx="142.4" cy="352.3" r="0.9"/><circle cx="182.6" cy="345.7" r="0.75"/><circle cx="253.6" cy="306.0" r="0.6"/><circle cx="261.3" cy="333.8" r="0.6"/><circle cx="286.8" cy="342.5" r="0.75"/><circle cx="218.5" cy="329.9" r="0.75"/><circle cx="266.4" cy="367.3" r="0.9"/><circle cx="160.5" cy="288.3" r="0.75"/><circle cx="219.3" cy="339.3" r="0.9"/><circle cx="255.4" cy="306.4" r="0.75"/><circle cx="145.9" cy="312.3" r="0.6"/><circle cx="161.7" cy="305.5" r="0.9"/><circle cx="200.7" cy="335.6" r="0.9"/><circle cx="304.4" cy="316.0" r="0.9"/><circle cx="229.6" cy="289.1" r="0.75"/><circle cx="247.7" cy="289.6" r="0.9"/><circle cx="254.5" cy="303.8" r="0.9"/><circle cx="243.6" cy="336.9" r="0.6"/><circle cx="150.4" cy="287.3" r="0.75"/><circle cx="201.2" cy="298.1" r="0.6"/><circle cx="292.4" cy="369.0" r="0.75"/><circle cx="172.4" cy="331.4" r="0.6"/><circle cx="228.4" cy="299.9" r="0.9"/><circle cx="253.4" cy="377.3" r="0.6"/><circle cx="196.4" cy="353.1" r="0.9"/><circle cx="292.9" cy="330.6" r="0.9"/><circle cx="163.1" cy="325.9" r="0.6"/><circle cx="219.0" cy="381.6" r="0.75"/><circle cx="200.3" cy="282.5" r="0.6"/><circle cx="128.7" cy="348.2" r="0.6"/><circle cx="189.1" cy="349.1" r="0.6"/><circle cx="234.2" cy="292.0" r="0.75"/><circle cx="283.6" cy="324.9" r="0.9"/><circle cx="230.2" cy="367.0" r="0.6"/><circle cx="242.1" cy="321.3" r="0.6"/><circle cx="265.7" cy="350.4" r="0.9"/><circle cx="290.4" cy="328.1" r="0.6"/><circle cx="154.6" cy="305.8" r="0.6"/><circle cx="245.0" cy="380.9" r="0.75"/><circle cx="188.2" cy="312.6" r="0.9"/><circle cx="246.9" cy="337.7" r="0.9"/><circle cx="220.5" cy="282.4" r="0.75"/><circle cx="193.0" cy="326.1" r="0.9"/><circle cx="294.6" cy="337.9" r="0.75"/><circle cx="175.9" cy="348.9" r="0.75"/><circle cx="232.8" cy="322.0" r="0.6"/><circle cx="295.3" cy="375.6" r="0.75"/><circle cx="224.4" cy="324.7" r="0.75"/><circle cx="211.8" cy="280.7" r="0.6"/><circle cx="156.1" cy="336.4" r="0.9"/><circle cx="190.6" cy="281.6" r="0.6"/><circle cx="149.9" cy="345.3" r="0.6"/><circle cx="162.1" cy="380.1" r="0.75"/><circle cx="228.5" cy="367.0" r="0.75"/><circle cx="245.3" cy="369.8" r="0.6"/><circle cx="243.7" cy="335.4" r="0.6"/><circle cx="283.6" cy="331.4" r="0.9"/><circle cx="163.4" cy="297.7" r="0.9"/><circle cx="276.5" cy="380.1" r="0.9"/><circle cx="167.6" cy="281.1" r="0.9"/><circle cx="252.3" cy="289.3" r="0.75"/><circle cx="164.6" cy="356.7" r="0.9"/><circle cx="174.9" cy="306.3" r="0.9"/><circle cx="252.6" cy="353.0" r="0.75"/><circle cx="193.2" cy="345.3" r="0.6"/><circle cx="237.8" cy="380.2" r="0.6"/><circle cx="152.5" cy="293.3" r="0.6"/><circle cx="245.6" cy="331.5" r="0.6"/><circle cx="220.4" cy="328.6" r="0.75"/><circle cx="250.8" cy="284.2" r="0.6"/><circle cx="254.2" cy="322.4" r="0.6"/><circle cx="276.5" cy="368.5" r="0.9"/><circle cx="248.1" cy="288.0" r="0.75"/><circle cx="275.5" cy="316.4" r="0.9"/><circle cx="184.9" cy="334.3" r="0.75"/><circle cx="181.7" cy="316.9" r="0.6"/><circle cx="252.6" cy="299.0" r="0.6"/><circle cx="202.3" cy="291.5" r="0.75"/><circle cx="146.8" cy="316.4" r="0.9"/><circle cx="290.6" cy="361.1" r="0.6"/><circle cx="205.0" cy="374.0" r="0.75"/><circle cx="125.2" cy="359.6" r="0.75"/><circle cx="283.7" cy="355.8" r="0.75"/><circle cx="169.4" cy="314.9" r="0.75"/><circle cx="297.1" cy="325.7" r="0.6"/><circle cx="198.0" cy="303.3" r="0.75"/><circle cx="121.3" cy="307.6" r="0.6"/><circle cx="196.0" cy="282.5" r="0.75"/><circle cx="168.7" cy="290.2" r="0.9"/><circle cx="287.5" cy="306.1" r="0.9"/><circle cx="173.1" cy="282.5" r="0.6"/><circle cx="184.5" cy="295.9" r="0.6"/><circle cx="172.5" cy="349.6" r="0.6"/><circle cx="153.6" cy="345.8" r="0.6"/><circle cx="125.3" cy="340.5" r="0.9"/><circle cx="248.8" cy="334.5" r="0.6"/><circle cx="181.2" cy="345.1" r="0.6"/><circle cx="128.6" cy="283.7" r="0.75"/><circle cx="251.0" cy="347.2" r="0.75"/><circle cx="202.7" cy="367.6" r="0.9"/><circle cx="240.9" cy="327.9" r="0.6"/><circle cx="276.4" cy="329.2" r="0.9"/><circle cx="290.4" cy="300.8" r="0.75"/><circle cx="205.1" cy="333.1" r="0.9"/><circle cx="276.3" cy="366.3" r="0.75"/><circle cx="282.7" cy="327.1" r="0.6"/><circle cx="265.6" cy="377.8" r="0.9"/><circle cx="223.0" cy="326.9" r="0.75"/><circle cx="230.4" cy="316.8" r="0.9"/><circle cx="295.5" cy="317.4" r="0.6"/><circle cx="158.8" cy="328.6" r="0.9"/><circle cx="185.4" cy="337.2" r="0.6"/><circle cx="176.1" cy="285.3" r="0.6"/><circle cx="122.1" cy="322.7" r="0.9"/><circle cx="265.3" cy="351.5" r="0.9"/><circle cx="164.7" cy="309.1" r="0.75"/><circle cx="257.5" cy="365.5" r="0.6"/><circle cx="215.0" cy="354.9" r="0.75"/><circle cx="274.1" cy="281.5" r="0.9"/><circle cx="162.6" cy="377.5" r="0.75"/><circle cx="125.6" cy="348.7" r="0.75"/><circle cx="205.8" cy="375.0" r="0.75"/><circle cx="225.3" cy="336.8" r="0.9"/><circle cx="231.4" cy="285.4" r="0.6"/><circle cx="208.9" cy="329.9" r="0.9"/><circle cx="130.7" cy="363.1" r="0.75"/><circle cx="142.1" cy="358.5" r="0.6"/><circle cx="258.3" cy="373.5" r="0.6"/><circle cx="287.3" cy="337.4" r="0.75"/><circle cx="156.5" cy="304.3" r="0.75"/><circle cx="186.8" cy="280.7" r="0.6"/><circle cx="254.6" cy="320.6" r="0.6"/><circle cx="150.3" cy="357.1" r="0.9"/><circle cx="273.3" cy="342.5" r="0.9"/><circle cx="150.3" cy="304.2" r="0.9"/><circle cx="178.8" cy="287.9" r="0.6"/><circle cx="161.9" cy="353.6" r="0.6"/><circle cx="131.8" cy="337.7" r="0.6"/><circle cx="131.3" cy="333.0" r="0.6"/><circle cx="163.2" cy="323.0" r="0.6"/><circle cx="280.8" cy="368.6" r="0.6"/><circle cx="133.8" cy="331.0" r="0.9"/><circle cx="147.8" cy="380.5" r="0.6"/><circle cx="196.7" cy="330.6" r="0.75"/><circle cx="134.5" cy="328.2" r="0.9"/><circle cx="216.8" cy="362.4" r="0.6"/><circle cx="178.7" cy="280.8" r="0.9"/><circle cx="235.8" cy="350.4" r="0.6"/><circle cx="158.9" cy="363.2" r="0.75"/><circle cx="158.6" cy="322.9" r="0.75"/><circle cx="179.7" cy="328.0" r="0.9"/><circle cx="248.0" cy="377.1" r="0.6"/><circle cx="195.2" cy="352.7" r="0.9"/><circle cx="290.6" cy="317.7" r="0.9"/><circle cx="274.7" cy="351.8" r="0.6"/><circle cx="158.8" cy="304.7" r="0.9"/><circle cx="261.9" cy="351.3" r="0.6"/><circle cx="227.3" cy="344.3" r="0.75"/><circle cx="196.7" cy="292.4" r="0.75"/><circle cx="191.1" cy="313.1" r="0.9"/><circle cx="300.0" cy="374.6" r="0.6"/><circle cx="206.2" cy="374.2" r="0.9"/><circle cx="185.9" cy="281.1" r="0.6"/><circle cx="200.3" cy="286.9" r="0.9"/><circle cx="235.2" cy="290.9" r="0.9"/><circle cx="274.4" cy="364.0" r="0.75"/><circle cx="191.1" cy="362.5" r="0.75"/><circle cx="304.8" cy="369.9" r="0.9"/><circle cx="274.7" cy="285.0" r="0.6"/><circle cx="153.0" cy="338.1" r="0.75"/><circle cx="273.0" cy="367.3" r="0.75"/><circle cx="227.1" cy="362.8" r="0.75"/><circle cx="214.2" cy="351.8" r="0.9"/><circle cx="201.6" cy="335.3" r="0.9"/><circle cx="127.9" cy="325.7" r="0.75"/><circle cx="151.0" cy="334.3" r="0.6"/><circle cx="172.5" cy="322.7" r="0.6"/><circle cx="187.4" cy="340.2" r="0.75"/><circle cx="174.3" cy="356.7" r="0.6"/><circle cx="181.5" cy="323.8" r="0.9"/><circle cx="142.6" cy="329.8" r="0.6"/><circle cx="182.3" cy="338.1" r="0.9"/><circle cx="299.6" cy="280.6" r="0.75"/><circle cx="268.1" cy="301.8" r="0.75"/><circle cx="198.0" cy="326.2" r="0.6"/><circle cx="137.6" cy="309.3" r="0.75"/><circle cx="143.2" cy="353.4" r="0.6"/><circle cx="267.7" cy="381.8" r="0.6"/><circle cx="146.5" cy="292.4" r="0.6"/><circle cx="120.1" cy="288.1" r="0.6"/><circle cx="130.6" cy="310.3" r="0.75"/><circle cx="199.4" cy="335.2" r="0.6"/><circle cx="127.5" cy="299.7" r="0.75"/><circle cx="253.4" cy="309.1" r="0.9"/><circle cx="200.5" cy="338.0" r="0.6"/><circle cx="165.4" cy="298.1" r="0.6"/><circle cx="288.5" cy="281.1" r="0.6"/><circle cx="167.6" cy="320.2" r="0.75"/><circle cx="226.3" cy="314.8" r="0.9"/><circle cx="142.6" cy="308.3" r="0.6"/><circle cx="209.0" cy="358.9" r="0.9"/><circle cx="189.9" cy="330.4" r="0.6"/><circle cx="292.9" cy="320.8" r="0.9"/><circle cx="134.4" cy="369.5" r="0.6"/><circle cx="207.6" cy="361.1" r="0.6"/><circle cx="174.3" cy="320.8" r="0.75"/><circle cx="189.2" cy="315.8" r="0.9"/><circle cx="198.0" cy="329.3" r="0.9"/><circle cx="302.6" cy="305.4" r="0.6"/><circle cx="260.3" cy="361.2" r="0.9"/><circle cx="177.9" cy="376.2" r="0.6"/><circle cx="175.1" cy="294.0" r="0.75"/><circle cx="267.0" cy="332.9" r="0.6"/><circle cx="167.4" cy="370.2" r="0.9"/><circle cx="246.7" cy="327.5" r="0.75"/><circle cx="189.5" cy="350.7" r="0.75"/><circle cx="197.4" cy="342.4" r="0.75"/><circle cx="203.5" cy="321.6" r="0.6"/><circle cx="242.2" cy="375.5" r="0.6"/><circle cx="218.1" cy="324.7" r="0.9"/><circle cx="162.9" cy="293.8" r="0.6"/><circle cx="147.5" cy="292.1" r="0.6"/><circle cx="211.0" cy="356.7" r="0.9"/><circle cx="120.2" cy="308.6" r="0.9"/><circle cx="162.2" cy="348.3" r="0.9"/><circle cx="199.1" cy="371.6" r="0.6"/><circle cx="167.1" cy="282.2" r="0.9"/><circle cx="290.3" cy="306.8" r="0.6"/><circle cx="275.0" cy="312.7" r="0.75"/><circle cx="288.2" cy="359.5" r="0.6"/><circle cx="128.7" cy="319.7" r="0.75"/><circle cx="301.2" cy="294.2" r="0.9"/><circle cx="248.8" cy="329.8" r="0.6"/><circle cx="304.1" cy="361.4" r="0.75"/><circle cx="283.1" cy="346.0" r="0.6"/><circle cx="147.2" cy="300.4" r="0.9"/><circle cx="185.6" cy="361.1" r="0.75"/><circle cx="279.2" cy="347.9" r="0.75"/><circle cx="233.5" cy="307.9" r="0.6"/><circle cx="284.3" cy="280.9" r="0.75"/><circle cx="279.5" cy="312.9" r="0.75"/><circle cx="271.4" cy="302.9" r="0.9"/><circle cx="133.9" cy="370.5" r="0.9"/><circle cx="178.9" cy="318.3" r="0.75"/><circle cx="143.9" cy="317.2" r="0.9"/><circle cx="123.2" cy="371.4" r="0.75"/><circle cx="121.9" cy="320.6" r="0.9"/><circle cx="187.8" cy="335.9" r="0.6"/><circle cx="240.2" cy="369.0" r="0.9"/><circle cx="279.5" cy="341.5" r="0.75"/><circle cx="162.8" cy="343.9" r="0.9"/><circle cx="167.1" cy="333.0" r="0.75"/><circle cx="176.8" cy="355.8" r="0.6"/><circle cx="301.5" cy="313.9" r="0.75"/><circle cx="277.5" cy="343.1" r="0.75"/><circle cx="264.3" cy="375.7" r="0.9"/><circle cx="173.1" cy="285.7" r="0.6"/><circle cx="207.5" cy="314.5" r="0.75"/><circle cx="143.8" cy="302.9" r="0.75"/><circle cx="164.1" cy="286.7" r="0.75"/><circle cx="296.6" cy="351.3" r="0.9"/><circle cx="163.1" cy="315.5" r="0.75"/><circle cx="225.3" cy="337.8" r="0.6"/><circle cx="162.2" cy="299.6" r="0.9"/><circle cx="284.0" cy="318.7" r="0.9"/><circle cx="261.3" cy="362.2" r="0.9"/><circle cx="214.9" cy="376.4" r="0.6"/><circle cx="254.5" cy="365.7" r="0.6"/><circle cx="122.0" cy="339.8" r="0.75"/><circle cx="177.6" cy="296.0" r="0.75"/><circle cx="264.4" cy="288.9" r="0.9"/><circle cx="255.3" cy="355.9" r="0.6"/><circle cx="157.2" cy="328.2" r="0.75"/><circle cx="270.0" cy="353.6" r="0.75"/><circle cx="162.6" cy="367.3" r="0.6"/><circle cx="248.6" cy="363.1" r="0.6"/><circle cx="192.9" cy="328.7" r="0.6"/><circle cx="138.2" cy="343.4" r="0.6"/><circle cx="155.5" cy="366.2" r="0.9"/><circle cx="233.4" cy="314.1" r="0.9"/><circle cx="150.1" cy="281.1" r="0.6"/><circle cx="167.8" cy="338.8" r="0.75"/><circle cx="282.8" cy="342.7" r="0.75"/><circle cx="276.7" cy="323.6" r="0.75"/><circle cx="176.3" cy="365.6" r="0.6"/><circle cx="287.6" cy="372.3" r="0.75"/><circle cx="225.0" cy="345.1" r="0.75"/><circle cx="205.9" cy="356.2" r="0.75"/><circle cx="256.5" cy="310.3" r="0.75"/><circle cx="139.6" cy="375.6" r="0.6"/><circle cx="209.1" cy="312.0" r="0.9"/><circle cx="160.6" cy="346.3" r="0.6"/><circle cx="192.1" cy="295.4" r="0.75"/><circle cx="122.5" cy="332.5" r="0.6"/><circle cx="233.1" cy="372.9" r="0.9"/><circle cx="304.5" cy="284.1" r="0.75"/><circle cx="175.2" cy="336.1" r="0.6"/><circle cx="157.0" cy="321.9" r="0.75"/><circle cx="244.5" cy="372.4" r="0.9"/><circle cx="184.5" cy="382.0" r="0.6"/><circle cx="196.0" cy="291.3" r="0.75"/><circle cx="134.1" cy="306.7" r="0.6"/><circle cx="282.7" cy="378.9" r="0.75"/><circle cx="232.9" cy="371.9" r="0.75"/><circle cx="123.8" cy="335.8" r="0.6"/><circle cx="184.4" cy="327.7" r="0.9"/><circle cx="241.2" cy="368.9" r="0.75"/><circle cx="174.2" cy="293.8" r="0.6"/><circle cx="276.7" cy="291.9" r="0.75"/><circle cx="302.7" cy="299.0" r="0.75"/><circle cx="239.9" cy="367.7" r="0.6"/><circle cx="300.3" cy="328.2" r="0.9"/><circle cx="148.1" cy="344.7" r="0.75"/><circle cx="148.0" cy="280.7" r="0.75"/><circle cx="185.8" cy="333.6" r="0.6"/><circle cx="294.1" cy="373.0" r="0.9"/><circle cx="240.0" cy="346.0" r="0.9"/><circle cx="266.4" cy="326.5" r="0.6"/><circle cx="240.1" cy="380.4" r="0.6"/><circle cx="267.6" cy="296.8" r="0.75"/><circle cx="162.2" cy="345.8" r="0.75"/><circle cx="286.6" cy="343.3" r="0.9"/><circle cx="284.4" cy="367.0" r="0.9"/><circle cx="169.0" cy="380.2" r="0.9"/><circle cx="243.9" cy="379.4" r="0.9"/><circle cx="124.3" cy="282.5" r="0.6"/><circle cx="245.8" cy="310.0" r="0.6"/><circle cx="226.8" cy="302.5" r="0.6"/><circle cx="211.9" cy="285.7" r="0.75"/><circle cx="145.1" cy="314.3" r="0.6"/><circle cx="292.4" cy="335.8" r="0.75"/><circle cx="143.8" cy="293.9" r="0.9"/><circle cx="171.9" cy="344.2" r="0.75"/><circle cx="254.8" cy="352.6" r="0.6"/><circle cx="170.0" cy="368.2" r="0.75"/><circle cx="120.4" cy="353.1" r="0.6"/><circle cx="144.0" cy="351.8" r="0.75"/><circle cx="126.5" cy="333.9" r="0.75"/><circle cx="158.9" cy="282.1" r="0.6"/><circle cx="284.3" cy="321.6" r="0.75"/><circle cx="176.2" cy="377.8" r="0.9"/><circle cx="167.0" cy="336.5" r="0.9"/><circle cx="254.1" cy="339.0" r="0.9"/><circle cx="175.5" cy="286.8" r="0.9"/><circle cx="179.6" cy="346.1" r="0.6"/><circle cx="186.7" cy="368.2" r="0.9"/><circle cx="129.2" cy="302.9" r="0.6"/><circle cx="137.7" cy="303.5" r="0.75"/><circle cx="174.2" cy="303.2" r="0.6"/><circle cx="224.3" cy="347.8" r="0.6"/><circle cx="224.3" cy="281.6" r="0.9"/><circle cx="263.9" cy="315.7" r="0.9"/><circle cx="257.8" cy="319.0" r="0.6"/><circle cx="200.3" cy="364.1" r="0.6"/><circle cx="217.9" cy="331.2" r="0.9"/><circle cx="252.8" cy="297.7" r="0.75"/><circle cx="292.8" cy="330.8" r="0.9"/><circle cx="253.6" cy="362.8" r="0.75"/><circle cx="234.5" cy="282.6" r="0.6"/><circle cx="281.2" cy="319.7" r="0.9"/><circle cx="234.2" cy="321.3" r="0.6"/><circle cx="270.7" cy="293.8" r="0.75"/><circle cx="236.6" cy="284.5" r="0.6"/><circle cx="264.4" cy="377.0" r="0.75"/><circle cx="276.7" cy="374.4" r="0.75"/><circle cx="293.9" cy="323.5" r="0.75"/><circle cx="288.4" cy="301.2" r="0.6"/><circle cx="182.8" cy="354.3" r="0.75"/><circle cx="190.1" cy="363.4" r="0.75"/><circle cx="174.3" cy="311.6" r="0.9"/><circle cx="136.5" cy="287.7" r="0.75"/><circle cx="207.2" cy="321.8" r="0.9"/><circle cx="188.6" cy="362.2" r="0.6"/><circle cx="270.7" cy="366.1" r="0.75"/><circle cx="191.3" cy="281.5" r="0.6"/><circle cx="275.4" cy="371.6" r="0.75"/><circle cx="242.2" cy="381.7" r="0.75"/><circle cx="154.7" cy="285.0" r="0.75"/><circle cx="234.4" cy="359.3" r="0.75"/><circle cx="174.7" cy="282.9" r="0.75"/><circle cx="246.2" cy="334.0" r="0.6"/><circle cx="175.0" cy="369.5" r="0.6"/><circle cx="237.8" cy="330.7" r="0.9"/><circle cx="229.8" cy="339.2" r="0.9"/><circle cx="161.0" cy="375.7" r="0.75"/><circle cx="264.5" cy="352.4" r="0.9"/><circle cx="121.1" cy="337.6" r="0.6"/><circle cx="251.8" cy="296.7" r="0.75"/><circle cx="199.0" cy="286.2" r="0.6"/><circle cx="215.8" cy="371.4" r="0.9"/><circle cx="216.6" cy="334.9" r="0.9"/><circle cx="296.4" cy="370.3" r="0.9"/><circle cx="140.8" cy="359.3" r="0.9"/><circle cx="162.3" cy="312.2" r="0.9"/><circle cx="131.3" cy="316.4" r="0.9"/><circle cx="141.6" cy="305.0" r="0.6"/><circle cx="301.3" cy="350.7" r="0.9"/><circle cx="270.9" cy="306.1" r="0.6"/><circle cx="131.5" cy="375.1" r="0.6"/><circle cx="275.2" cy="334.1" r="0.6"/><circle cx="139.7" cy="337.5" r="0.75"/><circle cx="176.9" cy="336.6" r="0.9"/><circle cx="150.6" cy="324.5" r="0.75"/><circle cx="131.4" cy="319.0" r="0.75"/><circle cx="277.6" cy="368.6" r="0.75"/><circle cx="122.2" cy="283.9" r="0.6"/><circle cx="193.2" cy="325.3" r="0.9"/><circle cx="168.0" cy="335.3" r="0.6"/><circle cx="213.3" cy="290.4" r="0.9"/><circle cx="220.9" cy="363.2" r="0.75"/><circle cx="195.1" cy="336.0" r="0.6"/><circle cx="248.2" cy="373.3" r="0.9"/><circle cx="280.6" cy="336.6" r="0.75"/><circle cx="210.2" cy="280.1" r="0.6"/><circle cx="244.4" cy="326.6" r="0.6"/><circle cx="164.1" cy="335.9" r="0.6"/><circle cx="128.7" cy="380.9" r="0.6"/><circle cx="277.4" cy="344.1" r="0.9"/><circle cx="210.4" cy="315.5" r="0.75"/><circle cx="296.8" cy="376.4" r="0.6"/><circle cx="282.9" cy="380.9" r="0.75"/><circle cx="291.5" cy="321.1" r="0.75"/><circle cx="290.5" cy="310.7" r="0.9"/><circle cx="184.5" cy="285.6" r="0.75"/><circle cx="194.6" cy="301.6" r="0.9"/><circle cx="270.7" cy="365.8" r="0.9"/><circle cx="175.2" cy="372.9" r="0.6"/><circle cx="178.8" cy="348.4" r="0.75"/><circle cx="284.0" cy="378.8" r="0.6"/><circle cx="303.6" cy="337.2" r="0.9"/><circle cx="208.5" cy="312.6" r="0.6"/><circle cx="287.8" cy="314.7" r="0.6"/><circle cx="176.2" cy="361.8" r="0.6"/><circle cx="267.8" cy="314.6" r="0.75"/><circle cx="134.9" cy="338.5" r="0.6"/><circle cx="251.5" cy="321.4" r="0.9"/><circle cx="288.4" cy="293.2" r="0.9"/><circle cx="173.4" cy="303.1" r="0.6"/><circle cx="284.0" cy="307.0" r="0.9"/><circle cx="232.4" cy="314.1" r="0.9"/><circle cx="187.3" cy="289.4" r="0.75"/><circle cx="122.5" cy="358.8" r="0.75"/><circle cx="227.2" cy="345.0" r="0.6"/><circle cx="125.0" cy="292.2" r="0.75"/><circle cx="253.8" cy="334.7" r="0.75"/><circle cx="263.3" cy="291.3" r="0.6"/><circle cx="254.7" cy="303.5" r="0.75"/><circle cx="276.0" cy="306.7" r="0.75"/><circle cx="179.1" cy="344.7" r="0.9"/><circle cx="229.5" cy="356.2" r="0.75"/><circle cx="214.7" cy="331.2" r="0.75"/><circle cx="252.0" cy="334.4" r="0.9"/><circle cx="147.9" cy="301.2" r="0.9"/><circle cx="172.4" cy="309.0" r="0.6"/><circle cx="296.9" cy="302.9" r="0.6"/><circle cx="190.3" cy="368.1" r="0.75"/><circle cx="241.4" cy="346.0" r="0.6"/><circle cx="216.5" cy="338.4" r="0.6"/><circle cx="149.8" cy="325.0" r="0.9"/><circle cx="225.2" cy="352.0" r="0.9"/><circle cx="263.1" cy="310.1" r="0.6"/><circle cx="233.7" cy="303.1" r="0.6"/><circle cx="166.2" cy="360.6" r="0.6"/><circle cx="259.5" cy="334.4" r="0.9"/><circle cx="268.4" cy="361.1" r="0.75"/><circle cx="167.3" cy="340.2" r="0.75"/><circle cx="230.3" cy="296.3" r="0.6"/><circle cx="276.7" cy="354.2" r="0.75"/><circle cx="288.3" cy="346.2" r="0.9"/><circle cx="210.8" cy="312.3" r="0.75"/><circle cx="263.5" cy="299.2" r="0.6"/><circle cx="141.3" cy="297.1" r="0.6"/><circle cx="272.9" cy="317.4" r="0.75"/><circle cx="126.9" cy="347.5" r="0.6"/><circle cx="169.8" cy="334.4" r="0.9"/><circle cx="182.5" cy="340.0" r="0.9"/><circle cx="271.9" cy="301.5" r="0.75"/><circle cx="134.0" cy="329.8" r="0.75"/><circle cx="287.6" cy="316.5" r="0.6"/><circle cx="214.8" cy="343.6" r="0.6"/><circle cx="212.9" cy="367.8" r="0.9"/><circle cx="275.7" cy="366.4" r="0.6"/><circle cx="280.8" cy="306.1" r="0.6"/><circle cx="288.1" cy="359.6" r="0.6"/><circle cx="304.1" cy="375.4" r="0.9"/><circle cx="122.1" cy="335.9" r="0.75"/><circle cx="262.5" cy="376.5" r="0.6"/><circle cx="203.3" cy="285.5" r="0.75"/><circle cx="140.4" cy="311.5" r="0.6"/><circle cx="234.2" cy="377.6" r="0.9"/><circle cx="137.1" cy="284.8" r="0.75"/><circle cx="206.7" cy="328.7" r="0.75"/><circle cx="125.0" cy="351.4" r="0.6"/><circle cx="168.6" cy="358.2" r="0.6"/><circle cx="167.8" cy="291.3" r="0.6"/><circle cx="147.6" cy="347.6" r="0.6"/><circle cx="189.7" cy="310.9" r="0.75"/><circle cx="184.2" cy="324.1" r="0.6"/><circle cx="176.0" cy="333.8" r="0.75"/><circle cx="182.1" cy="352.0" r="0.75"/><circle cx="150.6" cy="375.0" r="0.6"/><circle cx="140.6" cy="355.5" r="0.6"/><circle cx="230.9" cy="304.1" r="0.75"/><circle cx="160.9" cy="360.2" r="0.9"/><circle cx="138.9" cy="372.4" r="0.75"/><circle cx="152.0" cy="363.2" r="0.6"/><circle cx="201.2" cy="280.2" r="0.75"/><circle cx="145.4" cy="284.1" r="0.75"/><circle cx="236.7" cy="372.2" r="0.6"/><circle cx="294.2" cy="332.9" r="0.6"/><circle cx="288.6" cy="358.7" r="0.75"/><circle cx="270.8" cy="335.5" r="0.6"/><circle cx="286.7" cy="319.1" r="0.75"/><circle cx="232.1" cy="357.1" r="0.9"/><circle cx="291.7" cy="326.5" r="0.9"/><circle cx="143.7" cy="293.6" r="0.9"/><circle cx="216.8" cy="294.6" r="0.75"/><circle cx="190.7" cy="337.0" r="0.75"/><circle cx="294.3" cy="286.2" r="0.9"/><circle cx="232.7" cy="371.5" r="0.6"/><circle cx="146.9" cy="290.8" r="0.9"/><circle cx="180.7" cy="364.5" r="0.6"/><circle cx="143.2" cy="347.9" r="0.6"/><circle cx="169.7" cy="348.1" r="0.75"/><circle cx="166.6" cy="366.8" r="0.6"/><circle cx="301.9" cy="303.8" r="0.75"/><circle cx="255.2" cy="337.9" r="0.9"/><circle cx="270.7" cy="353.7" r="0.6"/><circle cx="295.6" cy="334.9" r="0.6"/><circle cx="267.5" cy="318.3" r="0.75"/><circle cx="242.3" cy="359.5" r="0.6"/><circle cx="231.8" cy="319.5" r="0.9"/><circle cx="276.2" cy="301.9" r="0.75"/><circle cx="165.4" cy="315.7" r="0.9"/><circle cx="289.1" cy="329.6" r="0.6"/><circle cx="178.3" cy="345.2" r="0.6"/><circle cx="231.5" cy="319.7" r="0.75"/><circle cx="220.4" cy="370.2" r="0.9"/><circle cx="254.3" cy="381.8" r="0.6"/><circle cx="158.3" cy="362.2" r="0.9"/><circle cx="212.0" cy="371.1" r="0.75"/><circle cx="283.3" cy="309.3" r="0.75"/><circle cx="166.0" cy="361.6" r="0.75"/><circle cx="279.8" cy="291.1" r="0.9"/><circle cx="132.2" cy="353.4" r="0.75"/><circle cx="147.7" cy="346.4" r="0.9"/><circle cx="172.6" cy="369.2" r="0.75"/><circle cx="142.5" cy="285.4" r="0.75"/><circle cx="169.6" cy="362.5" r="0.6"/><circle cx="245.6" cy="374.4" r="0.75"/><circle cx="236.6" cy="350.6" r="0.75"/><circle cx="201.6" cy="374.4" r="0.75"/><circle cx="274.3" cy="316.9" r="0.9"/><circle cx="147.1" cy="311.5" r="0.75"/><circle cx="298.3" cy="344.6" r="0.6"/><circle cx="193.2" cy="363.0" r="0.9"/><circle cx="238.4" cy="378.6" r="0.75"/><circle cx="176.3" cy="304.7" r="0.75"/><circle cx="150.4" cy="292.3" r="0.9"/><circle cx="198.3" cy="284.3" r="0.9"/><circle cx="177.3" cy="332.6" r="0.6"/><circle cx="176.0" cy="348.3" r="0.75"/><circle cx="231.7" cy="306.2" r="0.6"/><circle cx="261.0" cy="378.6" r="0.6"/><circle cx="198.3" cy="325.9" r="0.75"/><circle cx="196.2" cy="284.6" r="0.9"/><circle cx="295.4" cy="353.9" r="0.9"/><circle cx="225.1" cy="355.6" r="0.75"/><circle cx="254.0" cy="313.2" r="0.6"/><circle cx="250.7" cy="361.3" r="0.9"/><circle cx="243.8" cy="346.5" r="0.75"/><circle cx="163.4" cy="296.9" r="0.6"/><circle cx="180.5" cy="344.0" r="0.6"/><circle cx="269.9" cy="378.7" r="0.6"/><circle cx="151.3" cy="378.0" r="0.6"/><circle cx="294.8" cy="369.5" r="0.6"/><circle cx="190.7" cy="356.3" r="0.75"/><circle cx="206.8" cy="332.0" r="0.9"/><circle cx="129.2" cy="325.4" r="0.75"/><circle cx="185.6" cy="368.8" r="0.75"/><circle cx="269.5" cy="301.8" r="0.9"/><circle cx="124.3" cy="369.8" r="0.6"/><circle cx="296.4" cy="285.0" r="0.75"/><circle cx="257.6" cy="297.6" r="0.6"/><circle cx="167.3" cy="358.4" r="0.6"/><circle cx="134.3" cy="349.3" r="0.9"/><circle cx="150.9" cy="285.9" r="0.75"/><circle cx="154.9" cy="357.5" r="0.75"/><circle cx="166.6" cy="346.1" r="0.6"/><circle cx="188.9" cy="306.8" r="0.75"/><circle cx="302.9" cy="313.8" r="0.6"/><circle cx="278.8" cy="347.7" r="0.75"/><circle cx="165.1" cy="320.5" r="0.75"/><circle cx="129.6" cy="297.8" r="0.9"/><circle cx="199.2" cy="348.0" r="0.75"/><circle cx="147.5" cy="284.3" r="0.9"/><circle cx="164.2" cy="307.5" r="0.6"/><circle cx="150.1" cy="377.9" r="0.75"/><circle cx="265.2" cy="358.4" r="0.9"/><circle cx="284.7" cy="327.6" r="0.75"/><circle cx="256.6" cy="347.6" r="0.9"/><circle cx="252.5" cy="320.5" r="0.6"/><circle cx="207.6" cy="358.0" r="0.9"/><circle cx="278.3" cy="330.4" r="0.75"/><circle cx="165.0" cy="379.3" r="0.9"/><circle cx="172.2" cy="282.9" r="0.6"/><circle cx="176.4" cy="321.9" r="0.9"/><circle cx="269.2" cy="341.0" r="0.75"/><circle cx="280.2" cy="319.7" r="0.6"/><circle cx="224.7" cy="350.0" r="0.9"/><circle cx="202.3" cy="290.4" r="0.9"/><circle cx="224.3" cy="295.9" r="0.75"/><circle cx="211.8" cy="321.1" r="0.9"/><circle cx="222.5" cy="380.7" r="0.6"/><circle cx="131.1" cy="316.0" r="0.75"/><circle cx="246.7" cy="329.8" r="0.75"/><circle cx="186.6" cy="316.7" r="0.6"/><circle cx="224.4" cy="364.8" r="0.75"/><circle cx="140.6" cy="330.9" r="0.75"/><circle cx="304.4" cy="339.0" r="0.9"/><circle cx="196.1" cy="300.2" r="0.6"/><circle cx="250.0" cy="374.8" r="0.9"/><circle cx="171.6" cy="366.7" r="0.6"/><circle cx="280.0" cy="357.0" r="0.75"/><circle cx="251.9" cy="316.6" r="0.75"/><circle cx="124.7" cy="319.8" r="0.6"/><circle cx="174.3" cy="330.8" r="0.75"/><circle cx="276.2" cy="283.4" r="0.9"/><circle cx="131.0" cy="321.8" r="0.9"/><circle cx="196.4" cy="379.6" r="0.75"/><circle cx="214.4" cy="315.8" r="0.9"/><circle cx="280.6" cy="328.9" r="0.9"/><circle cx="132.0" cy="337.7" r="0.6"/><circle cx="132.5" cy="374.4" r="0.6"/><circle cx="165.4" cy="338.7" r="0.75"/><circle cx="246.9" cy="334.6" r="0.6"/><circle cx="203.9" cy="339.3" r="0.6"/><circle cx="199.7" cy="343.7" r="0.75"/><circle cx="197.9" cy="375.3" r="0.9"/><circle cx="275.4" cy="320.4" r="0.75"/><circle cx="292.3" cy="312.6" r="0.6"/><circle cx="247.0" cy="290.9" r="0.6"/><circle cx="156.3" cy="302.0" r="0.75"/><circle cx="141.4" cy="289.8" r="0.6"/><circle cx="199.9" cy="338.4" r="0.75"/><circle cx="211.1" cy="303.2" r="0.6"/><circle cx="248.7" cy="282.4" r="0.9"/><circle cx="144.3" cy="366.0" r="0.6"/><circle cx="279.7" cy="332.0" r="0.6"/><circle cx="251.2" cy="335.0" r="0.9"/><circle cx="151.6" cy="359.5" r="0.6"/><circle cx="258.6" cy="318.2" r="0.75"/><circle cx="167.6" cy="308.8" r="0.6"/><circle cx="189.1" cy="303.8" r="0.6"/><circle cx="167.4" cy="286.6" r="0.9"/><circle cx="186.7" cy="309.9" r="0.9"/><circle cx="149.3" cy="357.7" r="0.75"/><circle cx="275.3" cy="346.5" r="0.75"/><circle cx="143.2" cy="316.7" r="0.9"/><circle cx="167.4" cy="337.7" r="0.6"/><circle cx="201.5" cy="300.6" r="0.6"/><circle cx="193.2" cy="355.0" r="0.75"/><circle cx="178.5" cy="331.5" r="0.75"/><circle cx="282.9" cy="313.3" r="0.6"/><circle cx="269.9" cy="335.9" r="0.75"/><circle cx="232.1" cy="327.8" r="0.75"/><circle cx="284.5" cy="355.9" r="0.75"/><circle cx="236.4" cy="341.1" r="0.6"/><circle cx="158.2" cy="348.9" r="0.75"/><circle cx="282.5" cy="282.2" r="0.75"/><circle cx="126.8" cy="363.0" r="0.75"/><circle cx="145.9" cy="350.4" r="0.9"/><circle cx="220.8" cy="371.2" r="0.6"/><circle cx="247.5" cy="355.4" r="0.9"/><circle cx="160.0" cy="289.8" r="0.6"/><circle cx="304.1" cy="378.7" r="0.9"/><circle cx="187.2" cy="354.7" r="0.75"/><circle cx="301.9" cy="283.0" r="0.9"/><circle cx="281.3" cy="331.0" r="0.6"/><circle cx="276.3" cy="377.1" r="0.75"/><circle cx="218.7" cy="317.9" r="0.9"/><circle cx="202.3" cy="336.6" r="0.75"/><circle cx="180.7" cy="336.7" r="0.75"/><circle cx="161.1" cy="370.8" r="0.9"/><circle cx="220.2" cy="342.8" r="0.9"/><circle cx="148.8" cy="379.1" r="0.75"/><circle cx="304.3" cy="348.1" r="0.75"/><circle cx="156.0" cy="331.9" r="0.9"/><circle cx="190.3" cy="307.1" r="0.9"/><circle cx="135.6" cy="336.8" r="0.75"/><circle cx="157.8" cy="374.7" r="0.9"/><circle cx="233.1" cy="295.3" r="0.6"/><circle cx="271.7" cy="337.5" r="0.6"/><circle cx="255.3" cy="324.4" r="0.6"/><circle cx="280.2" cy="345.7" r="0.75"/><circle cx="286.1" cy="323.0" r="0.75"/><circle cx="209.2" cy="294.9" r="0.6"/><circle cx="241.0" cy="364.9" r="0.6"/><circle cx="250.2" cy="379.1" r="0.9"/><circle cx="174.6" cy="308.4" r="0.9"/><circle cx="120.1" cy="334.4" r="0.75"/><circle cx="128.1" cy="339.6" r="0.75"/><circle cx="141.4" cy="379.1" r="0.9"/><circle cx="230.0" cy="379.5" r="0.75"/><circle cx="212.6" cy="371.5" r="0.75"/><circle cx="150.5" cy="301.1" r="0.75"/><circle cx="259.4" cy="366.5" r="0.6"/><circle cx="141.4" cy="293.2" r="0.6"/><circle cx="204.9" cy="355.0" r="0.75"/><circle cx="155.7" cy="281.3" r="0.6"/><circle cx="156.5" cy="285.4" r="0.6"/><circle cx="145.6" cy="346.6" r="0.75"/><circle cx="293.5" cy="377.6" r="0.6"/><circle cx="266.5" cy="366.6" r="0.75"/><circle cx="129.8" cy="301.8" r="0.6"/><circle cx="287.5" cy="300.4" r="0.9"/><circle cx="185.3" cy="298.8" r="0.9"/><circle cx="136.7" cy="307.8" r="0.6"/><circle cx="267.2" cy="371.6" r="0.75"/><circle cx="203.4" cy="289.0" r="0.9"/><circle cx="264.3" cy="368.6" r="0.6"/><circle cx="242.9" cy="330.1" r="0.6"/><circle cx="297.4" cy="358.7" r="0.9"/><circle cx="201.3" cy="369.0" r="0.6"/><circle cx="252.3" cy="298.6" r="0.9"/><circle cx="194.4" cy="372.1" r="0.9"/><circle cx="247.2" cy="331.3" r="0.6"/><circle cx="185.6" cy="347.5" r="0.9"/><circle cx="254.6" cy="332.8" r="0.9"/><circle cx="279.3" cy="298.3" r="0.9"/><circle cx="295.9" cy="368.2" r="0.75"/><circle cx="129.3" cy="336.0" r="0.6"/><circle cx="228.8" cy="285.6" r="0.75"/><circle cx="151.8" cy="338.9" r="0.75"/><circle cx="201.7" cy="377.2" r="0.6"/><circle cx="193.1" cy="341.5" r="0.75"/><circle cx="219.5" cy="348.3" r="0.75"/><circle cx="279.8" cy="305.2" r="0.75"/><circle cx="183.0" cy="285.8" r="0.9"/><circle cx="196.8" cy="377.5" r="0.75"/><circle cx="161.8" cy="322.7" r="0.9"/><circle cx="304.1" cy="354.8" r="0.75"/><circle cx="235.7" cy="309.0" r="0.6"/><circle cx="210.7" cy="336.7" r="0.75"/><circle cx="190.4" cy="318.7" r="0.75"/><circle cx="120.1" cy="297.2" r="0.75"/><circle cx="301.9" cy="357.0" r="0.6"/><circle cx="188.8" cy="331.3" r="0.75"/><circle cx="281.4" cy="323.3" r="0.9"/><circle cx="193.9" cy="341.8" r="0.6"/></g>
<clipPath id="greenA"><path d="M338.2 334.7C331.5 332.2 344.6 326.0 349.1 319.9C353.7 313.8 359.7 305.2 365.5 298.3C371.3 291.4 377.6 284.1 383.7 278.3C389.8 272.5 395.5 267.9 401.9 263.7C408.3 259.4 414.9 255.7 421.9 252.8C428.9 249.9 436.4 248.0 443.7 246.5C451.0 245.0 461.7 242.3 465.5 243.7C469.3 245.0 466.7 250.9 466.4 254.6C466.1 258.2 465.0 262.0 463.7 265.6C462.4 269.2 460.4 273.2 458.3 276.5C456.2 279.8 453.4 282.9 451.0 285.6C448.6 288.3 447.3 289.8 443.7 292.8C440.1 295.8 434.0 300.2 429.2 303.8C424.4 307.4 419.5 310.8 414.6 314.7C409.7 318.6 404.2 324.1 400.0 327.4C395.8 330.7 399.4 333.5 389.1 334.7C378.8 335.9 344.9 337.2 338.2 334.7Z"/></clipPath>
<g clip-path="url(#greenA)"><rect x="330" y="230" width="150" height="110" fill="#fff" stroke="none"/></g>
<g stroke="#169e4e" stroke-width="3" clip-path="url(#greenA)">
<path d="M338.2 334.7C340.0 332.2 344.6 326.0 349.1 319.9C353.7 313.8 359.7 305.2 365.5 298.3C371.3 291.4 377.6 284.1 383.7 278.3C389.8 272.5 395.5 267.9 401.9 263.7C408.3 259.4 414.9 255.7 421.9 252.8C428.9 249.9 436.4 248.0 443.7 246.5C451.0 245.0 461.9 244.2 465.5 243.7" stroke-width="6"/>
<path d="M338.2 261.0L483.7 239.2" stroke-width="3"/>
<path d="M338.2 268.6L483.7 246.8" stroke-width="3"/>
<path d="M338.2 276.3L483.7 254.5" stroke-width="3"/>
<path d="M338.2 283.9L483.7 262.1" stroke-width="3"/>
<path d="M338.2 291.6L483.7 269.7" stroke-width="3"/>
<path d="M338.2 299.2L483.7 277.4" stroke-width="3"/>
<path d="M338.2 306.9L483.7 285.0" stroke-width="3"/>
<path d="M338.2 314.5L483.7 292.7" stroke-width="3"/>
<path d="M338.2 322.1L483.7 300.3" stroke-width="3"/>
<path d="M338.2 329.8L483.7 307.9" stroke-width="3"/>
<path d="M338.2 337.4L483.7 315.6" stroke-width="3"/>
<path d="M338.2 345.1L483.7 323.2" stroke-width="3"/>
<path d="M381.9 240.1L334.6 338.3" stroke-width="2.2"/>
<path d="M401.0 240.1L353.7 338.3" stroke-width="2.2"/>
<path d="M420.1 240.1L372.8 338.3" stroke-width="2.2"/>
<path d="M439.2 240.1L391.9 338.3" stroke-width="2.2"/>
<path d="M458.3 240.1L411.0 338.3" stroke-width="2.2"/>
<path d="M477.4 240.1L430.1 338.3" stroke-width="2.2"/>
<path d="M496.5 240.1L449.2 338.3" stroke-width="2.2"/>
</g>
</g>
<g id="panelB" fill="none" stroke="#5a5353" stroke-width="1.6" stroke-linecap="round" stroke-linejoin="round">
<path d="M1046.4 64.6C1055.7 66.3 1083.6 70.8 1101.9 74.6C1120.2 78.4 1136.8 82.8 1156.5 87.3C1176.2 91.8 1206.2 98.1 1220 101.9C1233.8 105.7 1227.5 106.2 1239 110C1250.5 113.8 1272.3 120.0 1289 125C1305.7 130.0 1322.3 134.2 1339 140C1355.7 145.8 1372.3 152.9 1389 160C1405.7 167.1 1422.3 174.6 1439 182.5C1455.7 190.4 1477.8 201.2 1489 207.5C1500.2 213.8 1503.6 217.9 1506.5 220" stroke-width="1.4" />
<path d="M1162 138.2C1160.5 140.0 1156.9 146.2 1152.9 149.2C1149.0 152.2 1143.8 154.4 1138.3 156.4C1132.8 158.4 1123.1 160.2 1120.1 161" stroke-width="1.8" />
<path d="M1162 138.2C1167.2 138.8 1183.2 140.4 1192.9 141.9C1202.6 143.4 1212.3 146.0 1220 147.3C1227.7 148.7 1231.7 150.4 1239 150C1246.3 149.6 1253.6 146.0 1264 145C1274.4 144.0 1291.5 143.4 1301.5 143.8C1311.5 144.2 1317.8 144.8 1324 147.5C1330.2 150.2 1333.2 155.4 1339 160C1344.8 164.6 1353.6 170.0 1359 175C1364.4 180.0 1368.2 183.8 1371.5 190C1374.8 196.2 1376.5 205.4 1379 212.5C1381.5 219.6 1384.0 228.1 1386.5 232.5C1389.0 236.9 1391.5 238.4 1394 238.8C1396.5 239.2 1399.0 238.1 1401.5 235C1404.0 231.9 1407.3 226.7 1409 220C1410.7 213.3 1411.1 199.2 1411.5 195" />
<path d="M1093.3 179.3C1100.0 177.9 1122.5 174.3 1133.2 170.6C1143.9 166.9 1151.0 162.0 1157.2 157.3C1163.4 152.6 1168.3 145.1 1170.5 142.6" stroke-width="1.1" stroke-dasharray="30 2 14 2"/>
<path d="M1077.3 191.9C1084.4 189.9 1107.2 184.6 1119.9 179.9C1132.6 175.2 1144.3 169.5 1153.2 163.9C1162.1 158.3 1169.0 150.4 1173.2 146.6C1177.4 142.8 1177.6 142.2 1178.5 141.3" stroke-width="1.1" stroke-dasharray="30 2 14 2"/>
<path d="M1058.6 207.9C1066.6 205.2 1091.9 197.7 1106.6 191.9C1121.2 186.1 1135.4 179.5 1146.5 173.3C1157.6 167.1 1166.3 159.7 1173.2 154.6C1180.1 149.5 1185.4 144.6 1187.8 142.6" stroke-width="1.1" stroke-dasharray="30 2 14 2"/>
<path d="M1048.0 222.5C1055.5 219.6 1078.0 211.8 1093.3 205.2C1108.6 198.5 1127.0 189.7 1139.9 182.6C1152.8 175.5 1161.2 169.0 1170.5 162.6C1179.8 156.2 1191.6 147.1 1195.8 144.0" stroke-width="1.1" stroke-dasharray="30 2 14 2"/>
<path d="M1064.0 229.2C1071.1 226.5 1092.8 219.4 1106.6 213.2C1120.3 207.0 1134.3 199.7 1146.5 191.9C1158.7 184.1 1170.2 174.4 1179.8 166.6C1189.3 158.8 1199.8 148.9 1203.8 145.3" stroke-width="1.1" stroke-dasharray="30 2 14 2"/>
<path d="M1079.9 237.2C1086.6 234.1 1107.0 224.9 1119.9 218.5C1132.8 212.1 1146.1 206.6 1157.2 198.6C1168.3 190.6 1177.4 179.3 1186.5 170.6C1195.6 161.9 1207.6 150.6 1211.8 146.6" stroke-width="1.1" stroke-dasharray="30 2 14 2"/>
<path d="M1103.9 238.5C1108.8 236.1 1123.4 229.5 1133.2 223.9C1143.0 218.3 1153.0 213.2 1162.5 205.2C1172.0 197.2 1181.6 185.6 1190.5 175.9C1199.4 166.2 1211.6 152.1 1215.8 147.3" stroke-width="1.1" stroke-dasharray="30 2 14 2"/>
<path d="M1109.2 251.8C1114.5 248.0 1131.0 237.0 1141.2 229.2C1151.4 221.4 1161.2 214.1 1170.5 205.2C1179.8 196.3 1188.9 185.5 1197.1 175.9C1205.3 166.3 1216.0 152.3 1219.8 147.6" stroke-width="1.1" stroke-dasharray="30 2 14 2"/>
<path d="M1117.2 254.5C1126.5 245.4 1155.2 217.7 1173.2 199.9C1191.2 182.1 1216.4 156.4 1225.1 147.7" stroke-width="1.1" stroke-dasharray="30 2 14 2"/>
<path d="M1126.6 258.5C1135.2 249.2 1161.4 221.0 1178.5 202.6C1195.6 184.2 1220.7 157.1 1229.1 148.0" stroke-width="1.1" stroke-dasharray="30 2 14 2"/>
<path d="M1135.9 262.5C1144.1 252.9 1168.9 224.2 1185.1 205.2C1201.3 186.1 1225.1 157.7 1233.1 148.2" stroke-width="1.1" stroke-dasharray="30 2 14 2"/>
<path d="M1146.5 266.5C1154.3 256.5 1178.0 226.3 1193.1 206.6C1208.2 186.9 1229.8 158.2 1237.1 148.5" stroke-width="1.1" stroke-dasharray="30 2 14 2"/>
<path d="M1157.2 273.1C1164.3 262.5 1186.0 229.9 1199.8 209.2C1213.5 188.4 1233.0 158.7 1239.7 148.6" stroke-width="1.1" stroke-dasharray="30 2 14 2"/>
<path d="M1109.2 167.3L1122.6 165.3" stroke-width="1.1" stroke-dasharray="30 2 14 2"/>
<path d="M1133.2 239.8C1137.6 236.2 1151.4 226.5 1159.8 218.5C1168.2 210.5 1179.8 196.3 1183.8 191.9" stroke-width="1.1" stroke-dasharray="30 2 14 2"/>
<path d="M1095.9 221.2C1100.8 219.2 1116.3 213.2 1125.2 209.2C1134.1 205.2 1145.2 199.2 1149.2 197.2" stroke-width="1.1" stroke-dasharray="30 2 14 2"/>
<path d="M1021.9 212C1018.6 215.2 1008.3 223.3 1001.9 231C995.5 238.7 988.6 250.1 983.7 258.3C978.9 266.5 975.2 275.2 972.8 280C970.4 284.8 971.8 280.0 969.1 287.3C966.4 294.6 961.0 311.6 956.4 323.7C951.8 335.8 945.8 349.4 941.8 360C937.8 370.6 934.5 378.2 932.7 387.3C930.9 396.4 930.3 405.5 930.9 414.6C931.5 423.7 933.1 433.4 936.4 441.9C939.7 450.4 945.1 458.6 950.9 465.6C956.6 472.6 963.9 478.7 970.9 483.8C977.9 488.9 986.3 492.1 992.8 496.5C999.3 500.9 1003.8 505.2 1010 510C1016.2 514.8 1024.2 521.8 1030 525C1035.8 528.2 1040.7 529.5 1045 529C1049.3 528.5 1054.2 523.2 1056 522" />
<path d="M1031 212C1029.5 215.2 1025.2 223.3 1021.9 231C1018.6 238.7 1014.3 250.1 1011 258.3C1007.7 266.5 1003.4 276.7 1001.9 280C1000.4 283.3 1002.8 273.9 1001.9 278.2C1001.0 282.4 997.6 294.9 996.4 305.5C995.2 316.1 994.9 329.8 994.6 341.9C994.3 354.0 994.6 366.1 994.6 378.2C994.6 390.3 994.0 404.0 994.6 414.6C995.2 425.2 996.1 434.3 998.2 441.9C1000.3 449.5 1003.3 454.0 1007.3 460.1C1011.2 466.2 1017.0 472.5 1021.9 478.3C1026.8 484.1 1031.6 490.5 1036.4 494.7C1041.2 498.9 1046.8 499.5 1051 503.7C1055.2 507.9 1058.5 514.2 1061.8 520C1065.1 525.8 1068.2 532.4 1070.9 538.2C1073.6 544.0 1076.5 551.0 1078.2 554.6C1079.9 558.2 1080.5 559.1 1081 560" />
<path d="M1030.2 314.4L1103.9 444.1" stroke-width="2.0" stroke="#161616" />
<path d="M1022.5 337.3L1102.6 450.4" stroke-width="2.0" stroke="#161616" />
<path d="M1020.0 362.7L1101.4 453.0" stroke-width="2.0" stroke="#161616" />
<path d="M1020.0 383.1L1100.9 454.3" stroke-width="2.0" stroke="#161616" />
<path d="M1020.0 403.4L1101.9 452.2" stroke-width="2.0" stroke="#161616" />
<path d="M1027.6 423.7L1103.9 455.0" stroke-width="2.0" stroke="#161616" />
<path d="M1035.3 444.1L1105.2 461.9" stroke-width="2.0" stroke="#161616" />
<path d="M1030.2 454.3L1107.7 468.2" stroke-width="2.0" stroke="#161616" />
<path d="M1035.3 465.7L1103.9 475.9" stroke-width="2.0" stroke="#161616" />
<path d="M1048.0 475.9L1121.7 486.0" stroke-width="2.0" stroke="#161616" />
<path d="M1045.4 319.5L1109.0 430.1" stroke-width="2.0" stroke="#161616" />
<path d="M1058.1 327.1L1126.8 454.3" stroke-width="2.0" stroke="#161616" />
<path d="M1065.8 322.0L1139.5 454.3" stroke-width="2.0" stroke="#161616" />
<path d="M1081.0 332.2L1147.1 445.4" stroke-width="2.0" stroke="#161616" />
<path d="M1096.3 352.6L1154.8 435.2" stroke-width="2.0" stroke="#161616" />
<path d="M1116.6 362.7L1162.4 425.0" stroke-width="2.0" stroke="#161616" />
<path d="M1121.7 342.4L1177.6 404.7" stroke-width="2.0" stroke="#161616" />
<path d="M1096.3 319.5L1172.6 395.8" stroke-width="2.0" stroke="#161616" />
<path d="M1075.9 311.9L1162.4 378.0" stroke-width="2.0" stroke="#161616" />
<path d="M1121.7 413.6L1142.0 454.3" stroke-width="2.0" stroke="#161616" />
<path d="M1131.9 408.5L1152.2 445.4" stroke-width="2.0" stroke="#161616" />
<path d="M1139.5 403.4L1158.6 435.2" stroke-width="2.0" stroke="#161616" />
<path d="M1111.5 423.7L1134.4 469.5" stroke-width="2.0" stroke="#161616" />
<path d="M1103.9 436.5L1129.3 479.7" stroke-width="2.0" stroke="#161616" />
<path d="M1046.7 316.7L1153.3 433.3" stroke-width="1.9" stroke="#161616" />
<path d="M1056.7 313.3L1166.7 420.0" stroke-width="1.9" stroke="#161616" />
<path d="M1073.3 330.0L1166.7 410.0" stroke-width="1.9" stroke="#161616" />
<path d="M1086.7 346.7L1156.7 400.0" stroke-width="1.9" stroke="#161616" />
<path d="M1113.3 420.0L1133.3 466.7" stroke-width="1.9" stroke="#161616" />
<path d="M1123.3 413.3L1143.3 460.0" stroke-width="1.9" stroke="#161616" />
<path d="M1133.3 410.0L1153.3 453.3" stroke-width="1.9" stroke="#161616" />
<path d="M1143.3 406.7L1160.0 443.3" stroke-width="1.9" stroke="#161616" />
<path d="M1026.7 446.7L1113.3 468.3" stroke-width="1.9" stroke="#161616" />
<path d="M1033.3 460.0L1116.7 478.3" stroke-width="1.9" stroke="#161616" />
<path d="M1050.0 473.3L1130.0 488.3" stroke-width="1.9" stroke="#161616" />
<path d="M1015.0 373.3L1100.0 446.7" stroke-width="1.9" stroke="#161616" />
<path d="M1016.7 410.0L1103.3 453.3" stroke-width="1.9" stroke="#161616" />
<path d="M1020.0 393.2L1096.3 450.4" stroke-width="0.8" stroke="#777" />
<path d="M1025.1 433.9L1101.4 458.1" stroke-width="0.8" stroke="#777" />
<path d="M1032.7 472.1L1111.5 479.7" stroke-width="0.8" stroke="#777" />
<path d="M1053.1 482.2L1126.8 491.1" stroke-width="0.8" stroke="#777" />
<path d="M1126.8 454.3L1134.4 484.8" stroke-width="0.8" stroke="#777" />
<path d="M1139.5 449.2L1142.0 479.7" stroke-width="0.8" stroke="#777" />
<path d="M1152.2 441.5L1147.1 474.6" stroke-width="0.8" stroke="#777" />
<path d="M1032.8 329.1C1035.2 331.5 1041.8 337.6 1047.3 343.7C1052.8 349.8 1059.4 358.8 1065.5 365.5C1071.6 372.2 1077.6 378.2 1083.7 383.7C1089.8 389.2 1094.3 393.8 1101.9 398.3C1109.5 402.9 1119.5 406.8 1129.2 411C1138.9 415.2 1154.9 421.6 1160.1 423.7" stroke-width="6.5" stroke="#3c3c3c" stroke-dasharray="3.2 2.6" stroke-linecap="butt"/>
<path d="M1032.8 329.1C1035.2 331.5 1041.8 337.6 1047.3 343.7C1052.8 349.8 1059.4 358.8 1065.5 365.5C1071.6 372.2 1077.6 378.2 1083.7 383.7C1089.8 389.2 1094.3 393.8 1101.9 398.3C1109.5 402.9 1119.5 406.8 1129.2 411C1138.9 415.2 1154.9 421.6 1160.1 423.7" stroke-width="2.2" stroke="#fff" stroke-dasharray="2 3.8" stroke-dashoffset="-0.6" stroke-linecap="butt"/>
<path d="M1220 391C1215.5 393.4 1200.5 400.1 1192.9 405.5C1185.4 410.9 1179.9 417.6 1174.7 423.7C1169.5 429.8 1166.0 435.8 1162 441.9C1158.0 448.0 1155.0 454.0 1151 460.1C1147.0 466.2 1141.9 472.5 1138.3 478.3C1134.7 484.1 1130.7 492.0 1129.2 494.7" stroke-width="1.4" />
<path d="M1220.0 420.1C1215.5 420.4 1200.5 420.4 1192.9 421.9C1185.4 423.4 1179.9 425.2 1174.7 429.2C1169.5 433.1 1165.3 439.9 1162.0 445.6C1158.7 451.4 1156.5 457.3 1154.7 463.7C1152.9 470.1 1151.3 477.8 1151.0 483.8C1150.7 489.8 1152.6 497.2 1152.9 499.9" />
<path d="M1154.6 275.5C1161.3 278.5 1181.9 287.6 1194.6 293.7C1207.3 299.8 1218.9 306.8 1231 311.9C1243.1 317.0 1255.3 321.6 1267.4 324.6C1279.5 327.6 1291.6 329.1 1303.7 330C1315.8 330.9 1328.0 330.3 1340.1 330C1352.2 329.7 1364.4 330.3 1376.5 328.2C1388.6 326.1 1404.7 319.4 1412.9 317.3C1421.1 315.2 1423.5 315.8 1425.6 315.5" stroke-width="1.4" />
<clipPath id="medclip"><path d="M1043.3 233.3L1100.0 257.3L1156.7 281.7L1233.3 313.3L1300.0 330.0L1366.7 330.0L1423.3 316.7L1380.0 356.7L1336.7 396.7L1253.3 368.3L1213.3 385.0L1166.7 370.0L1100.0 346.7L1028.3 313.3L1033.3 286.7L1040.0 260.0Z"/></clipPath>
<g clip-path="url(#medclip)">
<path d="M1042.3 238.7C1047.8 241.0 1064.4 248.0 1075.4 252.7C1086.4 257.4 1097.4 262.2 1108.4 266.9C1119.4 271.6 1130.3 276.4 1141.3 281.1C1152.3 285.8 1163.4 290.5 1174.4 295.1C1185.4 299.8 1196.2 304.7 1207.4 309.0C1218.6 313.3 1229.9 317.5 1241.3 321.0C1252.7 324.5 1264.2 327.9 1275.9 330.2C1287.6 332.5 1299.6 334.2 1311.5 335.0C1323.4 335.8 1335.4 335.8 1347.3 335.1C1359.2 334.4 1371.1 332.8 1382.8 330.6C1394.5 328.4 1411.8 323.4 1417.6 322.0" stroke="#161616" stroke-width="1.5" stroke-dasharray="45 2 18 2 70 2" stroke-dashoffset="115"/>
<path d="M1041.3 244.0C1046.7 246.3 1063.1 253.3 1073.9 258.0C1084.8 262.7 1095.6 267.3 1106.4 272.0C1117.2 276.7 1128.1 281.4 1139.0 286.0C1149.9 290.6 1160.7 295.2 1171.6 299.8C1182.5 304.4 1193.3 309.1 1204.3 313.3C1215.3 317.5 1226.4 321.5 1237.7 324.9C1249.0 328.3 1260.5 331.6 1272.0 333.9C1283.5 336.2 1295.3 337.8 1307.0 338.7C1318.7 339.6 1330.7 339.7 1342.4 339.1C1354.2 338.5 1365.9 337.1 1377.5 335.1C1389.1 333.1 1406.1 328.6 1411.8 327.3" stroke="#161616" stroke-width="1.5" stroke-dasharray="45 2 18 2 70 2" stroke-dashoffset="119"/>
<path d="M1040.3 249.3C1045.7 251.6 1061.7 258.6 1072.4 263.2C1083.1 267.8 1093.8 272.5 1104.5 277.1C1115.2 281.7 1125.9 286.3 1136.6 290.9C1147.3 295.4 1158.0 299.9 1168.8 304.4C1179.5 308.8 1190.2 313.5 1201.1 317.6C1212.0 321.7 1223.0 325.5 1234.2 328.8C1245.4 332.1 1256.6 335.2 1268.0 337.5C1279.4 339.8 1291.0 341.4 1302.6 342.3C1314.2 343.2 1325.9 343.4 1337.5 343.0C1349.1 342.6 1360.7 341.3 1372.1 339.6C1383.5 337.9 1400.3 333.9 1406.0 332.7" stroke="#161616" stroke-width="1.5" stroke-dasharray="45 2 18 2 70 2" stroke-dashoffset="115"/>
<path d="M1134.2 295.8C1139.5 298.0 1155.5 304.6 1166.1 309.0C1176.7 313.4 1187.2 317.9 1198.0 321.9C1208.8 325.9 1219.7 329.6 1230.7 332.8C1241.7 336.0 1252.8 338.9 1264.1 341.1C1275.3 343.3 1286.8 345.0 1298.2 346.0C1309.6 347.0 1321.2 347.2 1332.6 346.9C1344.0 346.6 1355.4 345.6 1366.7 344.1C1378.0 342.6 1394.6 339.0 1400.2 338.0" stroke="#161616" stroke-width="1.5" stroke-dasharray="45 2 18 2 70 2" stroke-dashoffset="130"/>
<path d="M1038.3 260.0C1043.5 262.3 1059.1 269.1 1069.5 273.7C1079.9 278.3 1090.2 282.9 1100.6 287.4C1111.0 291.9 1121.3 296.3 1131.8 300.7C1142.2 305.1 1152.8 309.4 1163.3 313.7C1173.8 317.9 1184.2 322.4 1194.9 326.2C1205.6 330.0 1216.3 333.6 1227.2 336.7C1238.1 339.8 1249.0 342.6 1260.1 344.8C1271.2 347.0 1282.5 348.6 1293.8 349.6C1305.1 350.6 1316.5 351.0 1327.7 350.8C1339.0 350.6 1350.2 349.9 1361.3 348.6C1372.4 347.4 1388.9 344.2 1394.4 343.3" stroke="#161616" stroke-width="1.5" stroke-dasharray="45 2 18 2 70 2" stroke-dashoffset="48"/>
<path d="M1129.5 305.6C1134.7 307.7 1150.1 314.2 1160.5 318.3C1170.9 322.4 1181.2 326.8 1191.7 330.5C1202.2 334.2 1212.8 337.6 1223.6 340.6C1234.3 343.6 1245.2 346.3 1256.2 348.4C1267.2 350.5 1278.2 352.2 1289.3 353.3C1300.4 354.4 1311.7 354.8 1322.8 354.8C1333.9 354.8 1344.9 354.1 1355.9 353.1C1366.9 352.1 1383.2 349.4 1388.7 348.7" stroke="#161616" stroke-width="1.5" stroke-dasharray="45 2 18 2 70 2" stroke-dashoffset="47"/>
<path d="M1036.3 270.7C1041.3 272.9 1056.4 279.6 1066.5 284.1C1076.6 288.6 1086.6 293.2 1096.7 297.6C1106.8 302.0 1116.9 306.3 1127.1 310.5C1137.3 314.7 1147.5 318.8 1157.7 322.9C1168.0 326.9 1178.2 331.2 1188.6 334.8C1199.0 338.4 1209.5 341.6 1220.1 344.5C1230.7 347.4 1241.4 350.0 1252.2 352.1C1263.0 354.2 1274.0 355.8 1284.9 356.9C1295.8 358.0 1306.8 358.6 1317.8 358.7C1328.8 358.8 1339.8 358.3 1350.6 357.5C1361.4 356.7 1377.5 354.6 1382.9 354.0" stroke="#161616" stroke-width="1.5" stroke-dasharray="45 2 18 2 70 2" stroke-dashoffset="121"/>
<path d="M1124.7 315.4C1129.8 317.4 1144.9 323.7 1155.0 327.6C1165.1 331.6 1175.1 335.6 1185.4 339.1C1195.7 342.6 1206.1 345.6 1216.6 348.4C1227.1 351.2 1237.6 353.7 1248.3 355.7C1259.0 357.7 1269.7 359.4 1280.5 360.5C1291.3 361.6 1302.1 362.4 1312.9 362.6C1323.7 362.9 1334.5 362.6 1345.2 362.0C1355.9 361.4 1371.8 359.8 1377.1 359.3" stroke="#161616" stroke-width="1.5" stroke-dasharray="45 2 18 2 70 2" stroke-dashoffset="47"/>
<path d="M1034.3 281.3C1039.2 283.5 1053.8 290.2 1063.6 294.6C1073.3 299.0 1083.0 303.6 1092.8 307.9C1102.6 312.2 1112.5 316.2 1122.4 320.3C1132.3 324.4 1142.2 328.4 1152.2 332.2C1162.2 336.0 1172.2 339.9 1182.3 343.3C1192.4 346.7 1202.7 349.7 1213.0 352.4C1223.3 355.1 1233.9 357.3 1244.4 359.3C1254.9 361.3 1265.5 363.0 1276.1 364.2C1286.7 365.4 1297.4 366.1 1308.0 366.5C1318.6 366.9 1329.2 366.8 1339.8 366.5C1350.3 366.2 1366.0 365.0 1371.3 364.7" stroke="#161616" stroke-width="1.5" stroke-dasharray="45 2 18 2 70 2" stroke-dashoffset="24"/>
<path d="M1120.0 325.3C1124.9 327.2 1139.6 333.1 1149.4 336.8C1159.2 340.5 1169.1 344.4 1179.1 347.6C1189.1 350.9 1199.3 353.7 1209.5 356.3C1219.7 358.9 1230.1 361.1 1240.4 363.0C1250.8 364.9 1261.1 366.6 1271.6 367.8C1282.0 369.0 1292.6 369.9 1303.1 370.4C1313.6 370.9 1324.0 371.1 1334.4 371.0C1344.8 370.9 1360.4 370.2 1365.6 370.0" stroke="#161616" stroke-width="1.5" stroke-dasharray="45 2 18 2 70 2" stroke-dashoffset="114"/>
<path d="M1032.3 292.0C1037.0 294.2 1051.2 300.8 1060.6 305.1C1070.0 309.5 1079.4 313.9 1088.9 318.1C1098.4 322.3 1108.0 326.3 1117.6 330.2C1127.2 334.1 1137.0 337.9 1146.7 341.5C1156.4 345.1 1166.1 348.8 1176.0 351.9C1185.9 355.0 1195.9 357.8 1206.0 360.2C1216.1 362.6 1226.3 364.7 1236.5 366.6C1246.7 368.5 1256.9 370.2 1267.2 371.5C1277.5 372.8 1287.9 373.7 1298.2 374.4C1308.5 375.1 1318.8 375.4 1329.1 375.5C1339.4 375.6 1354.7 375.3 1359.8 375.3" stroke="#161616" stroke-width="1.5" stroke-dasharray="45 2 18 2 70 2" stroke-dashoffset="77"/>
<path d="M1115.3 335.1C1120.1 336.9 1134.3 342.6 1143.9 346.1C1153.5 349.6 1163.1 353.2 1172.9 356.2C1182.7 359.2 1192.6 361.8 1202.5 364.1C1212.4 366.4 1222.5 368.4 1232.5 370.2C1242.5 372.0 1252.7 373.8 1262.8 375.1C1272.9 376.5 1283.1 377.5 1293.3 378.3C1303.5 379.1 1313.6 379.6 1323.7 380.0C1333.8 380.4 1349.0 380.6 1354.0 380.7" stroke="#161616" stroke-width="1.5" stroke-dasharray="45 2 18 2 70 2" stroke-dashoffset="36"/>
<path d="M1030.3 302.7C1034.9 304.8 1048.6 311.2 1057.7 315.5C1066.8 319.8 1075.8 324.3 1085.0 328.4C1094.2 332.5 1103.6 336.3 1112.9 340.0C1122.2 343.7 1131.6 347.3 1141.1 350.7C1150.6 354.1 1160.1 357.6 1169.7 360.5C1179.3 363.4 1189.1 365.8 1198.9 368.0C1208.7 370.2 1218.7 372.1 1228.6 373.9C1238.5 375.7 1248.5 377.3 1258.4 378.7C1268.4 380.1 1278.3 381.2 1288.3 382.2C1298.3 383.2 1308.3 383.9 1318.3 384.5C1328.3 385.1 1343.2 385.8 1348.2 386.0" stroke="#161616" stroke-width="1.5" stroke-dasharray="45 2 18 2 70 2" stroke-dashoffset="23"/>
<path d="M1029.3 308.0C1033.8 310.1 1047.2 316.6 1056.2 320.8C1065.2 325.1 1074.0 329.5 1083.1 333.5C1092.1 337.5 1101.3 341.2 1110.5 344.9C1119.7 348.5 1129.1 352.1 1138.4 355.4C1147.8 358.7 1157.1 362.0 1166.6 364.8C1176.1 367.6 1185.7 369.9 1195.4 372.0C1205.1 374.1 1214.8 375.8 1224.6 377.5C1234.3 379.2 1244.1 381.0 1253.9 382.4C1263.7 383.8 1273.6 385.0 1283.4 386.1C1293.2 387.2 1303.1 388.1 1312.9 389.0C1322.7 389.9 1337.5 390.9 1342.4 391.3" stroke="#161616" stroke-width="1.5" stroke-dasharray="45 2 18 2 70 2" stroke-dashoffset="10"/>
<path d="M1028.3 313.3C1032.7 315.4 1045.9 321.8 1054.7 326.0C1063.5 330.2 1072.2 334.6 1081.1 338.6C1090.0 342.6 1099.1 346.2 1108.2 349.8C1117.3 353.4 1126.4 356.8 1135.6 360.0C1144.8 363.2 1154.0 366.5 1163.4 369.1C1172.8 371.8 1182.4 373.9 1191.9 375.9C1201.5 377.9 1211.1 379.4 1220.7 381.1C1230.3 382.8 1239.9 384.5 1249.5 386.0C1259.1 387.5 1268.8 388.8 1278.5 390.0C1288.2 391.2 1297.9 392.4 1307.6 393.5C1317.3 394.6 1331.8 396.2 1336.7 396.7" stroke="#161616" stroke-width="1.5" stroke-dasharray="45 2 18 2 70 2" stroke-dashoffset="101"/>
<path d="M1253.3 368.3L1336.7 396.7" stroke="#161616" stroke-width="0.8"/>
<path d="M1263.3 364.1L1343.0 390.4" stroke="#161616" stroke-width="0.8"/>
<path d="M1273.3 359.8L1349.3 384.1" stroke="#161616" stroke-width="0.8"/>
<path d="M1283.3 355.6L1355.6 377.8" stroke="#161616" stroke-width="0.8"/>
<path d="M1293.3 351.3L1361.9 371.5" stroke="#161616" stroke-width="0.8"/>
<path d="M1303.3 347.0L1368.1 365.2" stroke="#161616" stroke-width="0.8"/>
<path d="M1313.3 342.8L1374.4 358.9" stroke="#161616" stroke-width="0.8"/>
<path d="M1323.3 338.5L1380.7 352.6" stroke="#161616" stroke-width="0.8"/>
<path d="M1333.3 334.3L1387.0 346.3" stroke="#161616" stroke-width="0.8"/>
<path d="M1343.3 330.0L1393.3 340.0" stroke="#161616" stroke-width="0.8"/>
</g>
<path d="M1425.6 315.5L1376.5 331.9L1321.9 353.7L1267.4 375.5L1221.9 393.7L1228 398L1267.4 381L1312.8 362.8L1367.4 342.8L1423.8 326.4Z" fill="#fff" stroke="none"/>
<path d="M1425.6 315.5C1417.4 318.2 1393.8 325.5 1376.5 331.9C1359.2 338.3 1340.1 346.4 1321.9 353.7C1303.7 361.0 1284.1 368.8 1267.4 375.5C1250.7 382.2 1234.3 388.1 1221.9 393.7C1209.5 399.3 1200.7 403.4 1192.8 409.2C1184.9 415.0 1177.6 425.1 1174.6 428.3" stroke-width="1.4" />
<path d="M1423.8 326.4C1414.4 329.1 1385.9 336.7 1367.4 342.8C1348.9 348.9 1329.5 356.4 1312.8 362.8C1296.1 369.2 1281.5 375.1 1267.4 381C1253.3 386.9 1234.6 395.2 1228 398" stroke-width="1.4" />
<path d="M1398.3 333.7C1394.7 337.6 1383.8 349.7 1376.5 357.3C1369.2 364.9 1362.0 372.7 1354.7 379.2C1347.4 385.7 1336.5 393.6 1332.8 396.5" stroke-width="1.2" />
<path d="M1440 281C1437.3 284.6 1429.8 294.3 1423.8 302.8C1417.8 311.3 1410.2 322.8 1403.8 331.9C1397.4 341.0 1393.2 347.6 1385.6 357.3C1378.0 367.0 1368.9 379.7 1358.3 390C1347.7 400.3 1334.0 410.7 1321.9 419.2C1309.8 427.7 1297.6 434.3 1285.5 441C1273.4 447.7 1259.8 454.4 1249.2 459.2C1238.6 464.0 1232.5 466.2 1221.9 470C1211.3 473.8 1197.6 478.3 1185.5 482C1173.4 485.7 1161.3 488.8 1149.2 492C1137.1 495.2 1123.4 498.4 1112.8 501C1102.2 503.6 1090.0 506.4 1085.5 507.5" />
<path d="M1085.5 507.5C1085.2 508.4 1083.4 509.5 1083.7 512.8C1084.0 516.1 1085.5 522.8 1087.3 527.3C1089.1 531.8 1092.2 536.7 1094.6 540C1097.0 543.3 1098.9 545.3 1101.9 547.3C1104.9 549.3 1108.0 550.8 1112.8 551.9C1117.6 553.0 1124.9 553.9 1131 553.7C1137.1 553.6 1140.1 553.6 1149.2 551C1158.3 548.4 1173.4 543.4 1185.5 538.2C1197.6 533.0 1209.8 526.7 1221.9 520C1234.0 513.3 1246.2 505.8 1258.3 498.2C1270.4 490.6 1281.2 482.6 1294.7 474.6C1308.2 466.6 1325.4 460.4 1339 450C1352.6 439.6 1364.0 425.4 1376.5 412.5C1389.0 399.6 1403.6 383.8 1414 372.5C1424.4 361.2 1431.9 352.1 1439 345C1446.1 337.9 1449.8 336.6 1456.5 330C1463.2 323.4 1469.4 315.0 1479.3 305.5C1489.2 296.0 1505.4 281.8 1515.7 272.8C1526.0 263.9 1537.0 255.3 1541.2 251.8" />
<path d="M1508.4 216.4C1509.9 215.6 1514.8 212.3 1517.5 211.8C1520.2 211.3 1519.6 208.9 1524.8 213.6C1530.0 218.3 1544.7 234.5 1548.5 240C1552.3 245.5 1548.8 244.4 1547.6 246.4C1546.4 248.4 1542.3 250.9 1541.2 251.8" />
<path d="M1508.4 216.4C1505.7 219.1 1495.6 227.5 1492 232.7C1488.4 237.8 1488.7 241.2 1486.6 247.3C1484.5 253.4 1483.5 260.6 1479.3 269.1C1475.0 277.6 1467.1 289.1 1461.1 298.2C1455.0 307.3 1448.5 315.8 1443 323.7C1437.5 331.6 1433.0 338.8 1428.4 345.5C1423.9 352.2 1419.9 357.6 1415.7 363.7C1411.5 369.8 1405.1 378.9 1403 381.9" />
<path d="M1492 232.7C1488.4 234.8 1476.5 240.7 1470.2 245.5C1463.9 250.3 1459.1 256.1 1453.9 261.8C1448.8 267.6 1444.2 273.3 1439.3 280C1434.4 286.7 1429.0 295.5 1424.8 301.9C1420.6 308.3 1415.7 315.5 1413.9 318.2" />
<path d="M1172.7 428.3C1176.3 427.4 1184.9 424.0 1194.6 422.8C1204.3 421.6 1215.8 421.0 1231 421C1246.2 421.0 1276.4 422.5 1285.5 422.8" />
<path d="M1149.2 485.5C1149.8 482.8 1151.0 474.9 1152.8 469.1C1154.6 463.4 1157.1 457.4 1160.1 451C1163.1 444.6 1169.2 434.3 1171 431" />
<path d="M1134.6 491.0C1135.8 488.0 1138.9 480.4 1141.9 472.8C1144.9 465.2 1148.6 453.1 1152.8 445.5C1157.0 437.9 1161.8 433.1 1167.3 427.3C1172.8 421.5 1179.4 415.4 1185.5 410.9C1191.6 406.3 1200.7 401.8 1203.7 400.0" />
<path d="M1330 426C1334.8 425.4 1345.0 424.1 1359 422.5C1373.0 420.9 1396.5 418.2 1414 416.3C1431.5 414.4 1447.3 413.2 1464 411.3C1480.7 409.4 1499.4 407.7 1514 405C1528.6 402.3 1541.1 398.5 1551.5 395C1561.9 391.5 1569.8 387.1 1576.5 383.8C1583.2 380.5 1587.8 376.5 1591.5 375C1595.2 373.5 1597.3 372.9 1599 375C1600.7 377.1 1600.7 382.5 1601.5 387.5C1602.3 392.5 1603.4 398.1 1604 405C1604.6 411.9 1606.5 424.6 1605.3 428.8C1604.0 433.0 1602.1 427.3 1596.5 430C1590.9 432.7 1579.0 440.0 1571.5 445C1564.0 450.0 1559.0 453.3 1551.5 460C1544.0 466.7 1536.9 477.5 1526.5 485C1516.1 492.5 1503.6 498.3 1489 505C1474.4 511.7 1455.7 518.8 1439 525C1422.3 531.2 1405.7 537.3 1389 542.5C1372.3 547.7 1354.7 552.5 1339 556.3C1323.3 560.1 1308.2 562.8 1294.7 565.5C1281.2 568.2 1270.4 570.7 1258.3 572.8C1246.2 574.9 1234.0 577.1 1221.9 578.3C1209.8 579.5 1197.6 579.4 1185.5 580C1173.4 580.6 1161.3 581.1 1149.2 581.9C1137.1 582.7 1124.0 584.3 1112.8 584.6C1101.6 584.9 1087.3 586.9 1081.8 583.7C1076.3 580.5 1080.3 568.5 1080 565.5" stroke-dasharray="70 3 30 2"/>
<path d="M1576.5 423.8C1570.2 425.7 1553.6 429.8 1539 435C1524.4 440.2 1505.7 447.9 1489 455C1472.3 462.1 1455.7 470.0 1439 477.5C1422.3 485.0 1405.7 492.9 1389 500C1372.3 507.1 1351.7 516.0 1339 520C1326.3 524.0 1323.3 521.0 1312.9 523.7C1302.5 526.4 1288.6 532.1 1276.5 536.4C1264.4 540.6 1252.2 545.3 1240.1 549.2C1228.0 553.1 1215.8 556.7 1203.7 560C1191.6 563.3 1178.8 566.5 1167.3 569.2C1155.8 572.0 1140.0 575.3 1134.6 576.5" stroke-dasharray="50 3 20 2"/>
<path d="M1080 560C1079.8 560.9 1078.5 563.7 1079.1 565.5C1079.7 567.3 1081.4 569.8 1083.7 571C1086.0 572.2 1090.1 573.1 1092.8 572.8C1095.5 572.5 1098.3 571.3 1100 569.2C1101.7 567.1 1102.2 563.0 1102.8 560C1103.4 557.0 1103.8 553.1 1103.7 551C1103.6 548.9 1102.2 547.9 1101.9 547.3" />
<clipPath id="greenB"><path d="M1046 229.4C1049.3 228.9 1057.0 233.3 1063.6 236C1070.2 238.7 1078.1 242.5 1085.4 245.8C1092.7 249.1 1099.9 252.7 1107.2 255.6C1114.5 258.5 1121.0 260.5 1129 263.2C1137.0 265.9 1150.5 269.5 1155 272C1159.5 274.5 1157.3 276.2 1156.2 278.4C1155.1 280.6 1151.3 283.5 1148.6 285C1145.9 286.5 1144.1 287.0 1139.9 287.2C1135.7 287.4 1128.0 285.5 1123.5 286C1119.0 286.5 1117.1 290.2 1112.6 290.4C1108.1 290.6 1101.6 288.8 1096.3 287.2C1091.0 285.6 1086.5 283.1 1081 280.6C1075.5 278.1 1069.0 274.5 1063.6 272C1058.1 269.5 1051.8 268.7 1048.3 265.4C1044.8 262.1 1043.6 256.7 1042.9 252.3C1042.2 247.9 1043.5 243.0 1044 239.2C1044.5 235.4 1042.7 229.9 1046 229.4Z"/></clipPath>
<path d="M1046 229.4C1049.3 228.9 1057.0 233.3 1063.6 236C1070.2 238.7 1078.1 242.5 1085.4 245.8C1092.7 249.1 1099.9 252.7 1107.2 255.6C1114.5 258.5 1121.0 260.5 1129 263.2C1137.0 265.9 1150.5 269.5 1155 272C1159.5 274.5 1157.3 276.2 1156.2 278.4C1155.1 280.6 1151.3 283.5 1148.6 285C1145.9 286.5 1144.1 287.0 1139.9 287.2C1135.7 287.4 1128.0 285.5 1123.5 286C1119.0 286.5 1117.1 290.2 1112.6 290.4C1108.1 290.6 1101.6 288.8 1096.3 287.2C1091.0 285.6 1086.5 283.1 1081 280.6C1075.5 278.1 1069.0 274.5 1063.6 272C1058.1 269.5 1051.8 268.7 1048.3 265.4C1044.8 262.1 1043.6 256.7 1042.9 252.3C1042.2 247.9 1043.5 243.0 1044 239.2C1044.5 235.4 1042.7 229.9 1046 229.4Z" fill="#1aa650" stroke="none"/>
<g clip-path="url(#greenB)" fill="#f2faf4" stroke="none">
<rect x="1050.0" y="242.1" width="8" height="4.8" transform="rotate(22.8 1054.0 244.5)"/>
<rect x="1060.3" y="246.4" width="8" height="4.8" transform="rotate(22.8 1064.3 248.8)"/>
<rect x="1070.7" y="250.8" width="8" height="4.8" transform="rotate(22.8 1074.7 253.2)"/>
<rect x="1081.0" y="255.1" width="8" height="4.8" transform="rotate(22.8 1085.0 257.5)"/>
<rect x="1091.3" y="259.4" width="8" height="4.8" transform="rotate(22.8 1095.3 261.8)"/>
<rect x="1101.6" y="263.8" width="8" height="4.8" transform="rotate(22.8 1105.6 266.2)"/>
<rect x="1112.0" y="268.1" width="8" height="4.8" transform="rotate(22.8 1116.0 270.5)"/>
<rect x="1122.3" y="272.4" width="8" height="4.8" transform="rotate(22.8 1126.3 274.8)"/>
<rect x="1132.6" y="276.8" width="8" height="4.8" transform="rotate(22.8 1136.6 279.2)"/>
<rect x="1051.0" y="252.5" width="8" height="4.8" transform="rotate(22.8 1055.0 254.9)"/>
<rect x="1061.4" y="256.9" width="8" height="4.8" transform="rotate(22.8 1065.4 259.3)"/>
<rect x="1071.7" y="261.2" width="8" height="4.8" transform="rotate(22.8 1075.7 263.6)"/>
<rect x="1082.0" y="265.5" width="8" height="4.8" transform="rotate(22.8 1086.0 267.9)"/>
<rect x="1092.4" y="269.9" width="8" height="4.8" transform="rotate(22.8 1096.4 272.3)"/>
<rect x="1102.7" y="274.2" width="8" height="4.8" transform="rotate(22.8 1106.7 276.6)"/>
<rect x="1113.0" y="278.5" width="8" height="4.8" transform="rotate(22.8 1117.0 280.9)"/>
<rect x="1123.3" y="282.9" width="8" height="4.8" transform="rotate(22.8 1127.3 285.3)"/>
<rect x="1133.7" y="287.2" width="8" height="4.8" transform="rotate(22.8 1137.7 289.6)"/>
<rect x="1052.1" y="262.9" width="8" height="4.8" transform="rotate(22.8 1056.1 265.3)"/>
<rect x="1062.4" y="267.3" width="8" height="4.8" transform="rotate(22.8 1066.4 269.7)"/>
<rect x="1072.8" y="271.6" width="8" height="4.8" transform="rotate(22.8 1076.8 274.0)"/>
<rect x="1083.1" y="275.9" width="8" height="4.8" transform="rotate(22.8 1087.1 278.3)"/>
<rect x="1093.4" y="280.3" width="8" height="4.8" transform="rotate(22.8 1097.4 282.7)"/>
<rect x="1103.7" y="284.6" width="8" height="4.8" transform="rotate(22.8 1107.7 287.0)"/>
<rect x="1114.1" y="288.9" width="8" height="4.8" transform="rotate(22.8 1118.1 291.3)"/>
<rect x="1124.4" y="293.3" width="8" height="4.8" transform="rotate(22.8 1128.4 295.7)"/>
<rect x="1134.7" y="297.6" width="8" height="4.8" transform="rotate(22.8 1138.7 300.0)"/>
</g>
<path d="M1046 229.4C1049.3 228.9 1057.0 233.3 1063.6 236C1070.2 238.7 1078.1 242.5 1085.4 245.8C1092.7 249.1 1099.9 252.7 1107.2 255.6C1114.5 258.5 1121.0 260.5 1129 263.2C1137.0 265.9 1150.5 269.5 1155 272C1159.5 274.5 1157.3 276.2 1156.2 278.4C1155.1 280.6 1151.3 283.5 1148.6 285C1145.9 286.5 1144.1 287.0 1139.9 287.2C1135.7 287.4 1128.0 285.5 1123.5 286C1119.0 286.5 1117.1 290.2 1112.6 290.4C1108.1 290.6 1101.6 288.8 1096.3 287.2C1091.0 285.6 1086.5 283.1 1081 280.6C1075.5 278.1 1069.0 274.5 1063.6 272C1058.1 269.5 1051.8 268.7 1048.3 265.4C1044.8 262.1 1043.6 256.7 1042.9 252.3C1042.2 247.9 1043.5 243.0 1044 239.2C1044.5 235.4 1042.7 229.9 1046 229.4Z" fill="none" stroke="#1aa650" stroke-width="2.5"/>
</g>
<g id="panelC" stroke-linecap="round" stroke-linejoin="round">
<path d="M591.9 803.6L604.6 809.1L621 816.4L639.2 821.8L657.4 824.6L684.7 827.3L712 830.9L730 833.7L741.8 834.6L774.6 840.9L811 843.7L847.3 843.7L883.7 841.9L929.2 839.1L920.1 852.8L911 865.5L905.6 870L883.7 871L847.3 870L845.5 881.9L841.9 898.2L838.2 907.3L829.2 911L821.9 918.3L801.9 923.7L774.6 925.5L761.8 931L758.2 943.7L754.6 961.9L749.1 975.6L738.2 965.6L725.5 954.6L720 947.4L719 936L713.8 923.7L693.8 918.3L675.6 914.6L657.4 909.2L639.2 911L621 905.5L602.8 901.9L584.6 907.3L566.4 910L568.3 925.5L573.7 943.7L575.5 961.9L581 976.5L590.1 989.2L597.4 1003.8L604.6 1020.9L581 1042.8L575.5 1042.8L568.3 1026.4L557.3 1008.2L546.4 990L544.6 971L546.4 952.8L550 934.6L553.7 918.3L550 912.8L546.4 898.2L543.7 885.5L544.6 871L548.2 856.4L555.5 847.3L568.3 840L579.2 832.8L581 823.7L575.5 816.4L577.4 810.9Z" fill="#cabd76" stroke="#8a8150" stroke-width="1.2" />
<path d="M1027.3 833.7L1045.5 836.4L1072.8 843.7L1091 849.1L1118.2 858.2L1141.9 861L1163.7 871L1181.9 887.3L1200.1 909.2L1227.4 931L1254.7 954.6L1272.8 967.3L1289.2 973.7L1298.3 974.6L1301.9 981.8L1304.7 994.6L1307.4 1007.3L1317.4 1020L1312.8 1025.5L1300.1 1029.1L1281.9 1031L1263.7 1030L1245.5 1032.8L1227.3 1036.4L1209.2 1036.4L1191 1027.3L1176.4 1018.2L1163.7 1012.8L1151 1011L1147.3 1001.9L1136.4 1001.9L1118.2 1007.3L1100 1010.5L1063.7 1016.5L1027.3 1025.6L1000 1036.5L975 1045L952 1050L991.5 1021L1019 986.8L1040 945.4L1045.4 897L1033 862.5Z" fill="#cabd76" stroke="#8a8150" stroke-width="1.2" />
<path d="M1051 994.6L1054.6 963.7L1058.2 945.5L1072.8 938.3L1087.3 932.8L1098.2 930L1105.5 938.3L1116.4 949.2L1123.7 960.1L1127.3 972.8L1125.5 985.6L1121.9 995.6L1100 997.4L1072.8 996.5Z" fill="#fff" stroke="#8a8150" stroke-width="1.2" />
<path d="M620 1042.8L616.4 1057.3L620 1075.5L627.3 1093.7L638.2 1108.3L645.5 1119.2L634.6 1132L651 1133.7L656.4 1141L669.2 1144.7L700 1149.2L727.3 1147.4L754.6 1141L791 1133.7L818.2 1127.3L831 1121.9L841.9 1109.2L845.5 1094.6L849.2 1078.2L858.3 1072.8L867.4 1076.4L874.6 1081.9L881.9 1094.6L891 1109.2L903.7 1121.9L918.3 1132.8L931 1136.4L954.7 1135.5L1000 1133.7L1050 1127.5L1100 1120L1136.4 1114.6L1172.8 1110L1209.2 1103.7L1245.5 1097.4L1281.9 1091L1309.2 1085.5L1336.5 1079.2L1345.6 1076.4L1351 1083.7L1352 1094.6L1347.4 1103.7L1336.5 1112.8L1318.3 1121.9L1291 1131L1263.7 1140.1L1236.4 1151L1209.2 1161.9L1181.9 1171L1161 1177L1123.5 1184L1086 1191.5L1040 1194L1000 1196.5L963.8 1202L927.4 1206.5L881.9 1211L827.3 1212L772.8 1211L736.4 1212.8L700 1215.6L684.7 1219.2L666.5 1215.6L639.2 1210.1L611.9 1208.3L593.7 1212L584.6 1201L579.2 1188.3L586.4 1182.8L584.6 1171.9L575.5 1162.8L566 1158L554 1153L550.5 1140L549.5 1120L548.5 1100L546.4 1091.9L553.7 1084.6L577.4 1070L615.6 1051.9Z" fill="#cabd76" stroke="#8a8150" stroke-width="1.2" />
<path d="M546.4 1091.9L546.4 1117.3L544.6 1135.5L539.2 1162.8L535.5 1179.2L533.7 1190L541 1192L546.4 1172L548.2 1153.7L550 1135.5L549 1117Z" fill="#cabd76" stroke="#8a8150" stroke-width="1.2" />
<path d="M550 1172C550.9 1168.7 553.6 1165.5 557.3 1164.6C560.9 1163.7 568.9 1164.7 571.9 1166.5C574.9 1168.3 575.5 1172.0 575.5 1175.6C575.5 1179.2 574.9 1185.6 571.9 1188.3C568.9 1191.0 560.6 1192.6 557.3 1192C554.0 1191.4 553.1 1187.9 551.9 1184.6C550.7 1181.3 549.1 1175.3 550 1172Z" fill="#cabd76" stroke="#8a8150" stroke-width="1.2" />
<ellipse cx="563" cy="1161" rx="6" ry="3.2" fill="#4a3c1a"/>
<ellipse cx="566" cy="1114" rx="6" ry="3.5" fill="#4a3c1a"/>
<path d="M590 1196l10 16" stroke="#3a3216" stroke-width="4" fill="none"/>
<path d="M464.6 1060L461.9 1066L449 1091.4L443.8 1117L446 1142.4L453.4 1163.6L466 1178.5L483 1187L504.3 1184.8L523.4 1188L525.6 1180.6L534 1178.5L523.4 1180.6L500 1178.5L478.8 1167.8L468.2 1153L464 1121L463 1078.7Z" fill="#cabd76" stroke="#8a8150" stroke-width="1.2" />
<path d="M676.4 1102.8C675.8 1101.1 678.3 1097.3 680.1 1095.5C681.9 1093.7 685.2 1092.2 687.3 1091.9C689.4 1091.6 692.2 1092.2 692.8 1093.7C693.4 1095.2 692.5 1099.0 691.0 1101.0C689.5 1103.0 686.1 1105.3 683.7 1105.6C681.3 1105.9 677.0 1104.5 676.4 1102.8Z" fill="#cabd76" stroke="#8a8150" stroke-width="1.2" />
<path d="M529.8 953.4C523.8 958.0 518.5 971.0 510.7 983C502.9 995.0 490.4 1013.9 483 1025.6C475.6 1037.3 469.3 1044.2 466 1053C462.7 1061.8 463.3 1067.4 463 1078.7C462.7 1090.0 463.1 1108.6 464 1121C464.9 1133.4 465.7 1145.2 468.2 1153C470.7 1160.8 473.5 1163.5 478.8 1167.8C484.1 1172.0 492.6 1176.4 500 1178.5C507.4 1180.6 517.7 1180.6 523.4 1180.6C529.1 1180.6 531.2 1184.9 534 1178.5C536.8 1172.1 538.4 1159.0 540.4 1142.4C542.4 1125.8 544.6 1099.9 545.7 1078.7C546.8 1057.5 546.6 1035.5 546.8 1015C547.0 994.5 549.6 965.8 546.8 955.5C544.0 945.2 535.8 948.8 529.8 953.4Z" fill="#fff" stroke="#5a5a5a" stroke-width="1.0" />
<clipPath id="loclip"><path d="M529.8 953.4C523.8 958.0 518.5 971.0 510.7 983C502.9 995.0 490.4 1013.9 483 1025.6C475.6 1037.3 469.3 1044.2 466 1053C462.7 1061.8 463.3 1067.4 463 1078.7C462.7 1090.0 463.1 1108.6 464 1121C464.9 1133.4 465.7 1145.2 468.2 1153C470.7 1160.8 473.5 1163.5 478.8 1167.8C484.1 1172.0 492.6 1176.4 500 1178.5C507.4 1180.6 517.7 1180.6 523.4 1180.6C529.1 1180.6 531.2 1184.9 534 1178.5C536.8 1172.1 538.4 1159.0 540.4 1142.4C542.4 1125.8 544.6 1099.9 545.7 1078.7C546.8 1057.5 546.6 1035.5 546.8 1015C547.0 994.5 549.6 965.8 546.8 955.5C544.0 945.2 535.8 948.8 529.8 953.4Z"/></clipPath>
<g clip-path="url(#loclip)" stroke="#5a5a5a" stroke-width="1" fill="none">
<path d="M533.4 954.0Q454.6 1084.2 466.4 1141.7"/>
<path d="M534.8 954.0Q470.9 1078.3 468.4 1153.3"/>
<path d="M536.2 954.0Q483.4 1073.5 475.3 1163.0"/>
<path d="M537.6 954.0Q494.1 1069.8 484.1 1170.5"/>
<path d="M539.0 954.0Q503.4 1067.1 494.6 1175.8"/>
<path d="M540.4 954.0Q511.9 1065.5 505.8 1179.0"/>
<path d="M541.8 954.0Q519.7 1065.0 517.6 1180.1"/>
<path d="M543.2 954.0Q527.3 1065.3 529.3 1179.4"/>
<path d="M544.6 954.0Q537.3 1069.2 535.5 1171.6"/>
</g>
<path d="M533 932L548 930L547 955L531 954Z" fill="#fff" stroke="#aaa" stroke-width="0.8"/>
<circle cx="541.9" cy="947.4" r="0.6" fill="#888"/>
<circle cx="543.7" cy="951.0" r="0.6" fill="#888"/>
<circle cx="543.1" cy="950.6" r="0.6" fill="#888"/>
<circle cx="535.3" cy="942.4" r="0.6" fill="#888"/>
<circle cx="545.4" cy="945.7" r="0.6" fill="#888"/>
<circle cx="544.9" cy="936.0" r="0.6" fill="#888"/>
<circle cx="540.2" cy="938.4" r="0.6" fill="#888"/>
<circle cx="541.0" cy="944.3" r="0.6" fill="#888"/>
<path d="M576.5 1040.4L549 1055.3L545.7 1068L568 1055.3L578.7 1042.5Z" fill="#cabd76" stroke="#8a8150" stroke-width="1.2" />
<clipPath id="mclip"><path d="M929.2 839.1L965.6 836.4L1007.4 832.8L1027 834L1033 862.5L1045.4 897L1040 945.4L1019 986.8L991.5 1021L950 1049L895 1080L870 1092L849 1078L845.5 1094.6L841.9 1109.2L831 1121.9L818.2 1127.3L791 1133.7L754.6 1141L727.3 1147.4L700 1149.2L669 1144.6L656.4 1141L651 1133.7L634.6 1132L645.5 1119.2L638.2 1108.3L627.3 1093.7L620 1075.5L616.4 1057.3L620 1042.8L640 1030L680 1008L720 990L727 985L727 965L716 950L719 936L720 947.4L725.5 954.6L738.2 965.6L749.1 975.6L754.6 961.9L758.2 943.7L761.8 931L774.6 925.5L801.9 923.7L821.9 918.3L829.2 911L838.2 907.3L841.9 898.2L845.5 881.9L847.3 870L883.7 871L905.6 870L911 865.5L920.1 852.8Z"/></clipPath>
<path d="M929.2 839.1L965.6 836.4L1007.4 832.8L1027 834" stroke="#6b6440" stroke-width="1.4" fill="none"/>
<g clip-path="url(#mclip)" stroke="#5a5a5a" stroke-width="1" fill="none">
<path d="M855.125 1096.8000000000002C858.4 1093.8 858.4 1093.8 874.8 1078.7C891.2 1063.6 930.4 1030.4 953.5 1006.3C976.6 982.2 998.6 953.8 1013.3 933.9C1028.0 914.0 1034.8 899.8 1041.6 886.7C1048.4 873.6 1052.1 860.5 1054.2 855.2"/>
<path d="M843.325 1103.8249999999998C846.5 1100.2 846.5 1100.2 862.2 1081.8C877.9 1063.4 914.6 1022.6 937.7 993.7C960.8 964.9 985.5 932.8 1000.7 908.7C1015.9 884.6 1023.2 862.0 1029.0 848.9C1034.8 835.8 1034.2 833.1 1035.3 830.0"/>
<path d="M831.5 1125.025C834.5 1120.4 834.5 1120.4 849.6 1097.5C864.7 1074.6 900.5 1021.5 922.0 987.4C943.5 953.3 964.4 918.2 978.6 893.0C992.8 867.8 1001.8 847.3 1007.0 836.3C1012.2 825.3 1009.6 828.5 1010.1 826.9"/>
<path d="M819.7 1138.475C822.6 1133.2 822.6 1133.2 837.0 1107.0C851.4 1080.8 886.3 1019.4 906.2 981.1C926.1 942.8 945.1 901.3 956.6 877.2C968.1 853.1 971.8 844.7 975.5 836.3C979.2 827.9 978.1 828.5 978.6 826.9"/>
<path d="M807.925 1140.05C810.2 1135.6 810.2 1135.6 821.3 1113.3C832.4 1091.0 858.0 1040.4 874.8 1006.3C891.6 972.2 908.9 936.5 922.0 908.7C935.1 880.9 947.7 852.5 953.5 839.4C959.3 826.3 956.1 831.6 956.6 830.0"/>
<path d="M788.25 1152.6499999999999C790.6 1147.1 790.6 1147.1 802.4 1119.6C814.2 1092.1 842.8 1025.2 859.0 987.4C875.2 949.6 888.9 916.6 899.9 893.0C910.9 869.4 920.4 855.2 925.1 845.7C929.8 836.2 927.8 837.9 928.3 836.3"/>
<path d="M766.125 1160.525C768.5 1154.8 768.5 1154.8 780.3 1125.9C792.1 1097.0 821.2 1025.2 837.0 987.4C852.8 949.6 864.3 922.3 874.8 899.2C885.3 876.1 895.2 858.9 899.9 848.9C904.6 838.9 902.6 841.0 903.1 839.4"/>
<path d="M748.8 1163.6750000000002C750.9 1158.4 750.9 1158.4 761.4 1132.2C771.9 1106.0 797.1 1043.5 811.8 1006.3C826.5 969.0 840.1 931.8 849.6 908.7C859.1 885.6 864.8 876.2 868.5 867.8C872.2 859.4 871.1 859.9 871.6 858.3"/>
<path d="M733.9000000000001 1167.55C735.9 1162.2 735.9 1162.2 745.7 1135.3C755.5 1108.4 779.3 1044.1 792.9 1006.3C806.5 968.5 819.1 930.7 827.5 908.7C835.9 886.7 840.1 881.5 843.3 874.1C846.4 866.8 845.9 866.2 846.4 864.6"/>
<path d="M719.0 1171.55C720.8 1166.0 720.8 1166.0 730.0 1138.5C739.2 1111.0 761.4 1042.0 774.0 1006.3C786.6 970.6 798.7 943.3 805.5 924.4C812.3 905.5 812.4 900.9 815.0 893.0C817.6 885.1 820.2 879.8 821.3 877.2"/>
<path d="M703.95 1172.2749999999999C705.7 1167.2 705.7 1167.2 714.2 1141.6C722.7 1116.0 743.1 1053.5 755.2 1018.9C767.3 984.3 780.3 950.7 786.6 933.9C792.9 917.1 790.8 923.9 792.9 918.1C795.0 912.3 798.2 902.4 799.2 899.2"/>
<path d="M689.05 1173.1499999999999C690.6 1168.4 690.6 1168.4 698.5 1144.8C706.4 1121.2 725.3 1062.9 736.3 1031.4C747.3 999.9 758.3 973.2 764.6 955.9C770.9 938.6 771.4 935.5 774.0 927.6C776.6 919.7 779.2 911.9 780.3 908.7"/>
<path d="M678.025 1168.425C679.3 1164.5 679.3 1164.5 685.9 1144.8C692.5 1125.1 706.9 1079.2 717.4 1050.3C727.9 1021.4 741.6 991.0 748.9 971.6C756.2 952.2 758.3 942.8 761.4 933.9C764.5 925.0 766.7 920.7 767.7 918.1"/>
<path d="M663.125 1162.85C664.3 1159.3 664.3 1159.3 670.2 1141.6C676.1 1123.9 687.5 1084.9 698.5 1056.6C709.5 1028.3 727.9 989.4 736.3 971.6C744.7 953.8 746.8 953.3 748.9 949.6"/>
<path d="M646.525 1148.675C647.8 1145.4 647.8 1145.4 654.4 1129.0C661.0 1112.6 674.3 1077.0 685.9 1050.3C697.5 1023.5 715.3 985.8 723.7 968.5C732.1 951.2 734.2 950.2 736.3 946.5"/>
<path d="M634.6999999999999 1129.05C635.9 1126.4 635.9 1126.4 641.8 1113.3C647.7 1100.2 659.2 1074.4 670.2 1050.3C681.2 1026.2 700.0 985.3 707.9 968.5C715.8 951.7 715.8 952.8 717.4 949.6"/>
<path d="M626.9 1105.4250000000002C627.8 1103.6 627.8 1103.6 632.4 1094.4C637.0 1085.2 644.4 1070.8 654.4 1050.3C664.4 1029.8 684.3 987.3 692.2 971.6C700.1 955.9 700.0 958.5 701.6 955.9"/>
<path d="M866.9499999999999 1090.45C870.4 1088.0 870.4 1088.0 887.4 1075.5C904.4 1063.0 946.1 1035.6 969.2 1015.7C992.3 995.8 1012.2 972.2 1025.8 955.9C1039.4 939.6 1044.7 928.6 1051.0 918.1C1057.3 907.6 1061.5 897.2 1063.6 893.0"/>
<path d="M752.0 971.6C750.7 977.4 748.8 993.2 744.1 1006.3C739.4 1019.4 731.8 1036.1 723.7 1050.3C715.6 1064.5 702.6 1080.8 695.3 1091.3C687.9 1101.8 682.2 1109.6 679.6 1113.3" stroke="#888" stroke-width="0.9"/>
<path d="M761.4 987.4C759.3 992.6 754.1 1007.4 748.9 1018.9C743.7 1030.4 737.9 1043.5 730.0 1056.6C722.1 1069.7 706.3 1090.7 701.6 1097.5" stroke="#999" stroke-width="0.8" stroke-dasharray="8 4"/>
</g>
<clipPath id="subclip"><path d="M566.4 915L568.3 925.5L573.7 943.7L575.5 961.9L581 976.5L590.1 989.2L597.4 1003.8L603.7 1019L640 1000L700 975L727 960L716 950L719.2 934.6Z"/></clipPath>
<g clip-path="url(#subclip)" stroke="#5a5a5a" stroke-width="0.9" fill="none">
<path d="M580 940L574.0 1030"/>
<path d="M597 940L589.5 1030"/>
<path d="M614 940L605.0 1030"/>
<path d="M631 940L620.5 1030"/>
<path d="M648 940L636.0 1030"/>
<path d="M665 940L651.5 1030"/>
<path d="M682 940L667.0 1030"/>
<path d="M699 940L682.5 1030"/>
<path d="M716 940L698.0 1030"/>
</g>
<path d="M548 1071L560.0 1057.3L578.2 1039.2L603.7 1019.1L632.8 1002.8L669.2 982.8L705.5 966.4L723.7 957.3L727.4 966.4L727.4 993.7L716.4 999.1L687.3 1010.0L651.0 1028.2L620.0 1042.8L578.2 1061.0L560.0 1075.5L553.7 1084.6Z" fill="#fff" stroke="none" stroke-width="0" />
<clipPath id="doclip"><path d="M548 1071L560.0 1057.3L578.2 1039.2L603.7 1019.1L632.8 1002.8L669.2 982.8L705.5 966.4L723.7 957.3L727.4 966.4L727.4 993.7L716.4 999.1L687.3 1010.0L651.0 1028.2L620.0 1042.8L578.2 1061.0L560.0 1075.5L553.7 1084.6Z"/></clipPath>
<g clip-path="url(#doclip)" stroke="#5a5a5a" stroke-width="0.8" fill="none">
<path d="M548.0 1066.3L560.0 1059.3Q605.5 1021.7 724.1 961.3"/>
<path d="M548.0 1068.3L560.0 1061.3Q607.3 1024.4 724.5 965.4"/>
<path d="M548.0 1070.4L560.0 1063.4Q609.1 1027.0 724.9 969.4"/>
<path d="M548.0 1072.4L560.0 1065.4Q610.9 1029.6 725.3 973.5"/>
<path d="M548.0 1074.4L560.0 1067.4Q612.8 1032.3 725.8 977.5"/>
<path d="M548.0 1076.4L560.0 1069.4Q614.6 1034.9 726.2 981.6"/>
<path d="M548.0 1078.5L560.0 1071.5Q616.4 1037.5 726.6 985.6"/>
<path d="M548.0 1080.5L560.0 1073.5Q618.2 1040.2 727.0 989.7"/>
</g>
<path d="M574 1061L579 1073" stroke="#5a5a5a" stroke-width="1" fill="none"/>
<circle cx="552.3" cy="1076.2" r="0.7" fill="#777"/>
<circle cx="557.6" cy="1078.1" r="0.7" fill="#777"/>
<circle cx="567.3" cy="1067.5" r="0.7" fill="#777"/>
<circle cx="567.9" cy="1067.0" r="0.7" fill="#777"/>
<circle cx="564.3" cy="1068.9" r="0.7" fill="#777"/>
<circle cx="552.0" cy="1080.9" r="0.7" fill="#777"/>
<circle cx="556.2" cy="1074.0" r="0.7" fill="#777"/>
<circle cx="571.6" cy="1070.1" r="0.7" fill="#777"/>
<circle cx="557.8" cy="1078.3" r="0.7" fill="#777"/>
<circle cx="562.8" cy="1073.6" r="0.7" fill="#777"/>
<path d="M566.4 910C569.1 907.0 578.5 908.6 584.6 907.3C590.7 905.9 596.7 902.2 602.8 901.9C608.9 901.6 614.9 904.0 621 905.5C627.1 907.0 633.1 910.4 639.2 911C645.3 911.6 651.3 908.6 657.4 909.2C663.5 909.8 669.5 913.1 675.6 914.6C681.7 916.1 687.4 916.8 693.8 918.3C700.2 919.8 709.6 921.0 713.8 923.7C718.0 926.4 718.9 930.7 719.2 934.6C719.5 938.5 718.3 944.1 715.6 947.4C712.9 950.7 708.0 952.5 702.9 954.6C697.8 956.7 690.8 958.9 684.7 960.1C678.6 961.3 672.6 961.0 666.5 961.9C660.4 962.8 654.4 964.4 648.3 965.6C642.2 966.8 636.2 968.6 630.1 969.2C624.0 969.8 618.0 970.4 611.9 969.2C605.8 968.0 599.2 964.6 593.7 961.9C588.2 959.2 582.8 956.4 579.2 952.8C575.6 949.2 573.7 944.6 571.9 940.1C570.1 935.6 569.2 930.5 568.3 925.5C567.4 920.5 563.7 913.0 566.4 910Z" fill="#fff" stroke="none"/>
<clipPath id="gclip"><path d="M566.4 910C569.1 907.0 578.5 908.6 584.6 907.3C590.7 905.9 596.7 902.2 602.8 901.9C608.9 901.6 614.9 904.0 621 905.5C627.1 907.0 633.1 910.4 639.2 911C645.3 911.6 651.3 908.6 657.4 909.2C663.5 909.8 669.5 913.1 675.6 914.6C681.7 916.1 687.4 916.8 693.8 918.3C700.2 919.8 709.6 921.0 713.8 923.7C718.0 926.4 718.9 930.7 719.2 934.6C719.5 938.5 718.3 944.1 715.6 947.4C712.9 950.7 708.0 952.5 702.9 954.6C697.8 956.7 690.8 958.9 684.7 960.1C678.6 961.3 672.6 961.0 666.5 961.9C660.4 962.8 654.4 964.4 648.3 965.6C642.2 966.8 636.2 968.6 630.1 969.2C624.0 969.8 618.0 970.4 611.9 969.2C605.8 968.0 599.2 964.6 593.7 961.9C588.2 959.2 582.8 956.4 579.2 952.8C575.6 949.2 573.7 944.6 571.9 940.1C570.1 935.6 569.2 930.5 568.3 925.5C567.4 920.5 563.7 913.0 566.4 910Z"/></clipPath>
<g clip-path="url(#gclip)" stroke="#1aa650" stroke-width="5.2" fill="none" stroke-linecap="round">
<path d="M536 985Q576 962 632 900"/>
<path d="M555 985Q595 962 651 900"/>
<path d="M574 985Q614 962 670 900"/>
<path d="M593 985Q633 962 689 900"/>
<path d="M612 985Q652 962 708 900"/>
<path d="M631 985Q671 962 727 900"/>
<path d="M650 985Q690 962 746 900"/>
<path d="M669 985Q709 962 765 900"/>
<path d="M688 985Q728 962 784 900"/>
<path d="M707 985Q747 962 803 900"/>
<path d="M726 985Q766 962 822 900"/>
</g>
<path d="M566.4 910C569.1 907.0 578.5 908.6 584.6 907.3C590.7 905.9 596.7 902.2 602.8 901.9C608.9 901.6 614.9 904.0 621 905.5C627.1 907.0 633.1 910.4 639.2 911C645.3 911.6 651.3 908.6 657.4 909.2C663.5 909.8 669.5 913.1 675.6 914.6C681.7 916.1 687.4 916.8 693.8 918.3C700.2 919.8 709.6 921.0 713.8 923.7C718.0 926.4 718.9 930.7 719.2 934.6C719.5 938.5 718.3 944.1 715.6 947.4C712.9 950.7 708.0 952.5 702.9 954.6C697.8 956.7 690.8 958.9 684.7 960.1C678.6 961.3 672.6 961.0 666.5 961.9C660.4 962.8 654.4 964.4 648.3 965.6C642.2 966.8 636.2 968.6 630.1 969.2C624.0 969.8 618.0 970.4 611.9 969.2C605.8 968.0 599.2 964.6 593.7 961.9C588.2 959.2 582.8 956.4 579.2 952.8C575.6 949.2 573.7 944.6 571.9 940.1C570.1 935.6 569.2 930.5 568.3 925.5C567.4 920.5 563.7 913.0 566.4 910Z" fill="none" stroke="#1aa650" stroke-width="6"/>
<path d="M669 1139L700 1142L727.3 1140L754.6 1134L791 1126.5L818.2 1119.5L836 1110L831 1121.9L818.2 1127.3L791 1133.7L754.6 1141L727.3 1147.4L700 1149.2L669.2 1144.7Z" fill="#fff" stroke="none"/>
<path d="M669.1 1141.85C674.2 1142.5 690.3 1145.3 700.0 1145.6C709.7 1145.9 718.2 1145.0 727.3 1143.7C736.4 1142.4 744.0 1139.8 754.6 1137.5C765.2 1135.2 780.4 1132.4 791.0 1130.1C801.6 1127.8 811.1 1125.8 818.2 1123.4C825.3 1121.0 831.0 1117.2 833.5 1115.95" stroke="#666" stroke-width="5" stroke-dasharray="1 3.4" fill="none" stroke-linecap="butt"/>
<path d="M611.9 818.2C608.9 820.6 597.0 827.0 593.7 832.8C590.4 838.6 594.9 846.4 591.9 852.8C588.9 859.2 580.6 866.1 575.5 871.0C570.4 875.9 563.4 880.1 561.0 881.9" fill="none" stroke="#7a6f3c" stroke-width="1.4"/>
<path d="M561.0 881.9C561.6 883.4 563.4 888.0 564.6 891.0C565.8 894.0 567.7 898.6 568.3 900.1" fill="none" stroke="#3b3014" stroke-width="3.2"/>
<path d="M593.7 834.6C596.7 833.4 605.8 828.8 611.9 827.3C618.0 825.8 627.1 825.8 630.1 825.5" fill="none" stroke="#7a6f3c" stroke-width="1.1"/>
<path d="M591.9 856.4C595.2 857.6 604.0 862.8 611.9 863.7C619.8 864.6 630.1 861.0 639.2 861.9C648.3 862.8 655.9 867.0 666.5 869.1C677.1 871.2 692.3 874.0 702.9 874.6C713.5 875.2 725.5 873.1 730.0 872.8" fill="none" stroke="#7a6f3c" stroke-width="1.1"/>
<path d="M639.2 821.8C639.5 824.8 639.5 834.2 641.0 840.0C642.5 845.8 646.2 852.1 648.3 856.4C650.4 860.6 652.9 864.0 653.8 865.5" fill="none" stroke="#7a6f3c" stroke-width="1.1"/>
<path d="M566.4 883.7C574.0 883.8 592.2 884.0 611.9 884.1C631.6 884.2 665.0 881.9 684.7 884.6C704.4 887.3 722.5 897.5 730.0 900.1" fill="none" stroke="#7a6f3c" stroke-width="1.1" stroke-dasharray="6 4"/>
<path d="M546.4 898.2C547.6 900.9 550.1 913.1 553.7 914.6C557.4 916.1 565.9 908.5 568.3 907.3" fill="none" stroke="#7a6f3c" stroke-width="1.0"/>
<path d="M741.8 834.6C742.4 837.0 746.1 844.0 745.5 849.1C744.9 854.2 739.1 860.6 738.2 865.5C737.3 870.4 737.0 873.7 740.0 878.2C743.0 882.8 749.4 888.8 756.4 892.8C763.4 896.8 773.4 900.1 781.9 901.9C790.4 903.7 797.9 903.1 807.3 903.7C816.7 904.3 833.1 905.2 838.2 905.5" fill="none" stroke="#7a6f3c" stroke-width="1.1"/>
<path d="M781.9 901.9C783.1 904.0 787.3 911.3 789.1 914.6C790.9 917.9 792.2 920.7 792.8 921.9" fill="none" stroke="#7a6f3c" stroke-width="1.1"/>
<path d="M720.0 874.6L738.2 876.4" fill="none" stroke="#7a6f3c" stroke-width="1.1"/>
<path d="M720.0 900.1C724.5 901.3 738.2 906.4 747.3 907.3C756.4 908.2 764.6 906.1 774.6 905.5C784.6 904.9 801.8 904.0 807.3 903.7" fill="none" stroke="#7a6f3c" stroke-width="1.0" stroke-dasharray="6 4"/>
<path d="M720.0 918.3C724.5 918.9 738.2 921.0 747.3 921.9C756.4 922.8 770.0 923.4 774.6 923.7" fill="none" stroke="#7a6f3c" stroke-width="1.0" stroke-dasharray="6 4"/>
<path d="M723.6 943.7C724.8 941.9 727.2 935.5 730.9 932.8C734.5 930.1 740.4 927.7 745.5 927.4C750.6 927.1 759.1 930.4 761.8 931.0" fill="none" stroke="#7a6f3c" stroke-width="1.1"/>
<path d="M1029.1 841.8C1030.9 843.3 1034.8 848.5 1040.0 850.9C1045.2 853.3 1055.8 855.2 1060.0 856.4C1064.2 857.6 1064.6 857.9 1065.5 858.2" fill="none" stroke="#4a4020" stroke-width="2.6"/>
<path d="M1041.8 865.5C1043.3 864.9 1047.2 861.3 1050.9 861.9C1054.6 862.5 1061.6 867.9 1063.7 869.1" fill="none" stroke="#4a4020" stroke-width="2.2"/>
<path d="M1061.9 840.0C1062.5 843.0 1065.2 852.1 1065.5 858.2C1065.8 864.3 1064.3 870.3 1063.7 876.4C1063.1 882.5 1059.8 889.8 1061.9 894.6C1064.0 899.5 1071.0 901.9 1076.4 905.5C1081.9 909.1 1090.0 912.1 1094.6 916.4C1099.1 920.6 1101.6 926.8 1103.7 931.0C1105.8 935.2 1106.7 940.1 1107.3 941.9" fill="none" stroke="#7a6f3c" stroke-width="1.1"/>
<path d="M1078.2 845.5C1079.1 850.0 1082.8 864.6 1083.7 872.8C1084.6 881.0 1080.7 887.9 1083.7 894.6C1086.7 901.3 1096.5 906.7 1101.9 912.8C1107.4 918.9 1112.2 925.5 1116.4 931.0C1120.6 936.5 1125.5 943.1 1127.3 945.5" fill="none" stroke="#7a6f3c" stroke-width="1.1"/>
<path d="M1149.2 870.9C1146.2 872.4 1135.5 876.6 1131.0 880.0C1126.5 883.4 1123.1 886.1 1121.9 891.0C1120.7 895.9 1121.6 902.5 1123.7 909.2C1125.8 915.9 1130.0 924.0 1134.6 931.0C1139.1 938.0 1145.2 944.3 1151.0 951.0C1156.8 957.7 1166.2 967.7 1169.2 971.0" fill="none" stroke="#7a6f3c" stroke-width="1.1"/>
<path d="M1156.4 949.2C1160.7 951.6 1173.1 958.2 1181.9 963.7C1190.7 969.2 1200.7 976.4 1209.2 981.9C1217.7 987.4 1226.5 993.2 1232.9 996.5C1239.3 999.8 1245.0 1001.0 1247.4 1001.9" fill="none" stroke="#7a6f3c" stroke-width="1.1"/>
<path d="M1141.9 983.7C1142.5 982.5 1143.1 978.0 1145.5 976.5C1147.9 975.0 1151.6 974.3 1156.4 974.6C1161.2 974.9 1167.3 975.6 1174.6 978.3C1181.9 981.0 1195.8 988.9 1200.1 991.0" fill="none" stroke="#7a6f3c" stroke-width="1.1"/>
<path d="M1145.5 996.5C1147.3 995.9 1151.9 992.5 1156.4 992.8C1161.0 993.1 1170.1 997.4 1172.8 998.3" fill="none" stroke="#7a6f3c" stroke-width="1.1"/>
<path d="M1134.6 869.1C1136.4 870.3 1141.2 873.4 1145.5 876.4C1149.8 879.4 1157.7 885.5 1160.1 887.3" fill="none" stroke="#7a6f3c" stroke-width="0.9"/>
<path d="M1198.3 925.5C1199.8 926.4 1204.7 928.6 1207.4 931.0C1210.1 933.4 1213.5 938.6 1214.7 940.1" fill="none" stroke="#7a6f3c" stroke-width="0.9"/>
<path d="M1050.9 938.3C1052.1 939.5 1058.2 938.2 1058.2 945.5C1058.2 952.8 1051.8 974.3 1050.9 981.9C1050.0 989.5 1053.1 988.7 1052.8 991.0C1052.5 993.3 1049.7 994.8 1049.1 995.6" fill="none" stroke="#7a6f3c" stroke-width="1.1"/>
<path d="M1000.0 1023.8C1006.1 1021.7 1024.9 1013.7 1036.4 1011.0C1047.9 1008.3 1061.5 1009.2 1069.1 1007.4C1076.7 1005.6 1079.8 1001.3 1081.9 1000.1" fill="none" stroke="#7a6f3c" stroke-width="1.1"/>
<path d="M1067.3 1009.2L1070.9 1018.3" fill="none" stroke="#7a6f3c" stroke-width="1.1"/>
<path d="M1287.4 976.4C1285.9 978.2 1280.4 983.7 1278.3 987.3C1276.2 990.9 1274.0 995.8 1274.6 998.2C1275.2 1000.6 1278.2 1000.7 1281.9 1001.9C1285.6 1003.1 1294.1 1004.9 1296.5 1005.5" fill="none" stroke="#6b5f30" stroke-width="1.6"/>
<path d="M1284 985C1283.2 986.8 1278.7 994.0 1279 996C1279.3 998.0 1284.8 996.8 1286 997" fill="none" stroke="#6b5f30" stroke-width="1.0"/>
<ellipse cx="839.5" cy="1197.3" rx="12.5" ry="4.8" transform="rotate(-8 839.5 1197.3)" fill="#b3a55e" stroke="#4e431c" stroke-width="2.6"/>
<path d="M834.5 1198.3l4 -2M840.5 1197.3l4 -2" stroke="#4e431c" stroke-width="1.6" transform="rotate(-8 839.5 1197.3)"/>
<ellipse cx="1029.5" cy="1173" rx="11" ry="4.8" transform="rotate(-16 1029.5 1173)" fill="#b3a55e" stroke="#4e431c" stroke-width="2.6"/>
<path d="M1024.5 1174l4 -2M1030.5 1173l4 -2" stroke="#4e431c" stroke-width="1.6" transform="rotate(-16 1029.5 1173)"/>
<ellipse cx="1183" cy="1148" rx="12" ry="4.8" transform="rotate(-22 1183 1148)" fill="#b3a55e" stroke="#4e431c" stroke-width="2.6"/>
<path d="M1178 1149l4 -2M1184 1148l4 -2" stroke="#4e431c" stroke-width="1.6" transform="rotate(-22 1183 1148)"/>
<ellipse cx="1284.5" cy="1126" rx="12" ry="4.8" transform="rotate(-18 1284.5 1126)" fill="#b3a55e" stroke="#4e431c" stroke-width="2.6"/>
<path d="M1279.5 1127l4 -2M1285.5 1126l4 -2" stroke="#4e431c" stroke-width="1.6" transform="rotate(-18 1284.5 1126)"/>
<ellipse cx="1347.5" cy="1091" rx="4" ry="7" fill="#4a3a18"/>
<path d="M922.0 1133.8Q924.7 1122.1 928.1 1118.8Q934.2 1127.8 935.5 1136.2M935.5 1136.2Q938.3 1122.3 941.6 1116.1Q947.7 1125.8 949.1 1135.7M949.1 1135.7Q951.8 1122.4 955.2 1116.5Q961.3 1125.7 962.6 1135.2M962.6 1135.2Q965.4 1121.0 968.7 1114.7Q974.8 1124.5 976.2 1134.6M976.2 1134.6Q978.9 1120.6 982.3 1114.3Q988.4 1124.1 989.7 1134.1M989.7 1134.1Q992.5 1121.6 995.8 1116.0Q1001.9 1124.4 1003.3 1133.3M1003.3 1133.3Q1006.0 1120.5 1009.4 1114.3Q1015.5 1122.5 1016.8 1131.6M1016.8 1131.6Q1019.5 1119.3 1022.9 1113.3Q1029.0 1121.1 1030.4 1129.9M1030.4 1129.9Q1033.1 1117.6 1036.5 1111.6Q1042.6 1119.4 1043.9 1128.3M1043.9 1128.3Q1046.6 1116.1 1050.0 1110.1Q1056.1 1117.7 1057.5 1126.4M1057.5 1126.4Q1060.2 1113.4 1063.6 1107.0Q1069.7 1115.1 1071.0 1124.3M1071.0 1124.3Q1073.7 1110.5 1077.1 1103.6Q1083.2 1112.4 1084.6 1122.3M1084.6 1122.3Q1087.3 1110.0 1090.7 1103.8Q1096.8 1111.5 1098.1 1120.3M1098.1 1120.3Q1100.8 1106.0 1104.2 1099.0Q1110.3 1108.1 1111.7 1118.3M1111.7 1118.3Q1114.4 1104.9 1117.8 1098.2Q1123.9 1106.7 1125.2 1116.3M1125.2 1116.3Q1127.9 1102.8 1131.3 1096.2Q1137.4 1104.7 1138.8 1114.3M1138.8 1114.3Q1141.5 1099.4 1144.9 1092.2Q1151.0 1101.9 1152.3 1112.6M1152.3 1112.6Q1155.0 1098.5 1158.4 1091.7Q1164.5 1100.8 1165.9 1110.9M1165.9 1110.9Q1168.6 1097.2 1172.0 1090.5Q1178.1 1099.1 1179.4 1108.9M1179.4 1108.9Q1182.1 1094.6 1185.5 1087.4Q1191.6 1096.3 1193.0 1106.5M1193.0 1106.5Q1195.7 1091.5 1199.1 1084.1Q1205.2 1093.5 1206.5 1104.2M1206.5 1104.2Q1209.2 1090.9 1212.6 1084.2Q1218.7 1092.3 1220.1 1101.8M1220.1 1101.8Q1222.8 1085.9 1226.2 1078.0Q1232.3 1088.1 1233.6 1099.5M1233.6 1099.5Q1236.3 1086.1 1239.7 1079.3Q1245.8 1087.6 1247.2 1097.1M1247.2 1097.1Q1249.9 1081.6 1253.3 1073.9Q1259.4 1083.7 1260.7 1094.7M1260.7 1094.7Q1263.4 1078.9 1266.8 1071.0Q1272.9 1081.0 1274.3 1092.3M1274.3 1092.3Q1277.0 1078.7 1280.4 1071.8Q1286.5 1080.1 1287.8 1089.8M1287.8 1089.8Q1290.5 1074.0 1293.9 1065.9Q1300.0 1075.8 1301.4 1087.1M1301.4 1087.1Q1304.1 1072.3 1307.5 1064.8Q1313.5 1073.6 1314.9 1084.2M1314.9 1084.2Q1317.6 1068.7 1321.0 1060.7Q1327.1 1070.0 1328.5 1081.1M1328.5 1081.1Q1331.2 1067.1 1334.5 1059.7Q1340.6 1067.6 1342.0 1077.5" fill="#fff" stroke="#6d6d6d" stroke-width="1"/>
<path d="M1062 1016.7Q1063 1025.1 1065.0 1028.2Q1071 1019.8 1072 1015.0M1072 1015.0Q1073 1026.2 1075.5 1030.5Q1082 1019.7 1083 1013.3M1083 1013.3Q1084 1027.3 1086.5 1032.7Q1093 1019.5 1094 1011.5M1094 1011.5Q1095 1028.3 1098.0 1034.8Q1105 1019.0 1106 1009.4M1106 1009.4Q1107 1033.2 1109.5 1042.8Q1116 1021.1 1117 1007.5M1117 1007.5Q1118 1038.3 1120.5 1050.6Q1127 1022.0 1128 1004.4M1128 1004.4Q1129 1031.0 1131.5 1041.4Q1138 1017.2 1139 1002.0M1139 1002.0Q1140 1023.0 1143.5 1032.0Q1151 1023.1 1152 1011.1M1152 1011.1Q1153 1047.5 1156.5 1063.8Q1164 1034.2 1165 1013.4M1165 1013.4Q1166 1047.0 1169.5 1063.3Q1177 1038.4 1178 1019.2M1178 1019.2Q1179 1050.0 1182.0 1065.7Q1189 1044.3 1190 1026.7M1190 1026.7Q1191 1054.7 1193.5 1068.5Q1200 1048.3 1201 1032.3M1201 1032.3Q1202 1057.5 1204.5 1070.0Q1211 1050.8 1212 1036.4M1212 1036.4Q1213 1060.2 1215.5 1070.4Q1222 1050.0 1223 1036.4M1223 1036.4Q1224 1057.4 1226.5 1066.4Q1233 1047.1 1234 1035.1M1234 1035.1Q1235 1057.5 1237.5 1066.4Q1244 1045.7 1245 1032.9M1245 1032.9Q1246 1058.1 1248.5 1068.3Q1255 1045.6 1256 1031.2M1256 1031.2Q1257 1052.2 1259.5 1060.6Q1266 1042.2 1267 1030.2M1267 1030.2Q1268 1048.4 1270.5 1056.4Q1277 1041.2 1278 1030.8M1278 1030.8Q1279 1046.2 1281.5 1053.0Q1288 1039.0 1289 1030.2M1289 1030.2Q1290 1042.8 1292.0 1047.9Q1298 1036.3 1299 1029.1" fill="none" stroke="#6d6d6d" stroke-width="1"/>
<path d="M833 1111C827.2 1112.7 813.0 1117.0 798 1121C783.0 1125.0 761.3 1130.9 743 1135C724.7 1139.1 702.7 1143.1 688 1145.5C673.3 1147.9 666.2 1149.0 655 1149.5C643.8 1150.0 630.2 1150.2 621 1148.7C611.8 1147.2 608.5 1144.5 600 1140.2C591.5 1136.0 578.7 1128.5 570.2 1123.2C561.7 1117.9 555.4 1114.1 549 1108.4C542.6 1102.8 537.7 1097.1 532 1089.3C526.3 1081.5 520.0 1072.7 515 1061.7C510.0 1050.7 505.4 1036.5 502.2 1023.4C499.0 1010.3 497.6 996.8 495.8 983C494.0 969.2 493.7 953.6 491.6 940.6C489.5 927.6 488.3 923.8 483 905C477.7 886.2 465.5 848.8 460 828C454.5 807.2 451.0 791.0 450 780C449.0 769.0 450.0 766.7 454 762C458.0 757.3 470.7 753.7 474 752" fill="none" stroke="#c51f68" stroke-width="5" stroke-dasharray="34 13" stroke-linecap="butt"/>
<path d="M474 752C484.3 751.5 508.4 748.9 536 748.7C563.6 748.5 605.1 749.6 639.6 750.7C674.1 751.9 714.3 753.6 743 755.6C771.7 757.6 789.0 759.6 812 762.5C835.0 765.4 858.0 768.2 881 772.8C904.0 777.4 932.7 784.3 950 790C967.3 795.7 974.3 799.5 984.6 807C994.9 814.5 1007.4 830.3 1012 835" fill="none" stroke="#c51f68" stroke-width="4" stroke-dasharray="34 14" stroke-dashoffset="8" stroke-linecap="butt"/>
<path d="M1012 835C1015.5 839.6 1027.4 852.2 1033 862.5C1038.6 872.8 1044.2 883.2 1045.4 897C1046.6 910.8 1044.4 930.4 1040 945.4C1035.6 960.4 1027.1 974.2 1019 986.8C1010.9 999.4 1003.0 1010.6 991.5 1021C980.0 1031.4 965.2 1039.5 950 1049C934.8 1058.5 908.3 1073.2 900 1078" fill="none" stroke="#c51f68" stroke-width="4" stroke-linecap="butt"/>
<path d="M884 1085L868 1094" stroke="#c51f68" stroke-width="4" fill="none"/>
</g>
<g id="labels" fill="#1a1a1a">
<text id="t0" x="13.5" y="37" font-size="40" textLength="48.0" lengthAdjust="spacingAndGlyphs">(a)</text>
<text id="t1" x="489.5" y="87" font-size="32" textLength="34.0" lengthAdjust="spacingAndGlyphs">do</text>
<text id="t2" x="583.0" y="87" font-size="32" textLength="41.5" lengthAdjust="spacingAndGlyphs">lap</text>
<text id="t3" x="603.0" y="152" font-size="32">o</text>
<text id="t4" x="657.5" y="207.5" font-size="32" textLength="55.5" lengthAdjust="spacingAndGlyphs">msu</text>
<text id="t5" x="94.0" y="199" font-size="32" textLength="41.5" lengthAdjust="spacingAndGlyphs">ten</text>
<text id="t6" x="-0.5" y="222" font-size="32" textLength="73.5" lengthAdjust="spacingAndGlyphs">prmx</text>
<text id="t7" x="94.0" y="482" font-size="32" textLength="41.5" lengthAdjust="spacingAndGlyphs">mx</text>
<text id="t8" x="144.5" y="552" font-size="32" textLength="28.5" lengthAdjust="spacingAndGlyphs">ar</text>
<text id="t9" x="198.5" y="547" font-size="32">A</text>
<text id="t10" x="222.5" y="552" font-size="18">1</text>
<text id="t11" x="60.5" y="607" font-size="38" textLength="84.0" lengthAdjust="spacingAndGlyphs">5 мм</text>
<text id="t12" x="354.5" y="604" font-size="32" textLength="41.0" lengthAdjust="spacingAndGlyphs">ten</text>
<text id="t13" x="429.5" y="608" font-size="32">A</text>
<text id="t14" x="451.5" y="613" font-size="20" textLength="30.0" lengthAdjust="spacingAndGlyphs">2-1</text>
<text id="t15" x="498.5" y="601" font-size="32" textLength="64.0" lengthAdjust="spacingAndGlyphs">prop</text>
<text id="t16" x="865.5" y="37" font-size="40" textLength="50.0" lengthAdjust="spacingAndGlyphs">(б)</text>
<text id="t17" x="993.5" y="27.5" font-size="32" textLength="55.5" lengthAdjust="spacingAndGlyphs">msu</text>
<text id="t18" x="1252.5" y="27" font-size="32" textLength="41.0" lengthAdjust="spacingAndGlyphs">lap</text>
<text id="t19" x="1351.5" y="114.5" font-size="32" textLength="107.0" lengthAdjust="spacingAndGlyphs">A2 med</text>
<text id="t20" x="1579.5" y="211" font-size="32" textLength="74.0" lengthAdjust="spacingAndGlyphs">prmx</text>
<text id="t21" x="905.0" y="524" font-size="32" textLength="63.5" lengthAdjust="spacingAndGlyphs">prop</text>
<text id="t22" x="1128.0" y="657" font-size="32" textLength="79.5" lengthAdjust="spacingAndGlyphs">A2 lat</text>
<text id="t23" x="1314.5" y="607" font-size="32" textLength="42.0" lengthAdjust="spacingAndGlyphs">mx</text>
<text id="t24" x="1437.5" y="572" font-size="32" textLength="32.0" lengthAdjust="spacingAndGlyphs">lig</text>
<text id="t25" x="1559.5" y="517" font-size="32">d</text>
<text id="t26" x="279.5" y="770" font-size="40" textLength="48.0" lengthAdjust="spacingAndGlyphs">(в)</text>
<text id="t27" x="484.5" y="803" font-size="41" style="fill:#e3202a" textLength="47.0" lengthAdjust="spacingAndGlyphs">A2</text>
<text id="t28" x="604.0" y="732" font-size="32" textLength="56.0" lengthAdjust="spacingAndGlyphs">msu</text>
<text id="t29" x="387.0" y="871" font-size="32" textLength="26.0" lengthAdjust="spacingAndGlyphs">lo</text>
<text id="t30" x="769.5" y="747" font-size="32">f</text>
<text id="t31" x="953.0" y="752.5" font-size="32" textLength="38.5" lengthAdjust="spacingAndGlyphs">A3</text>
<text id="t32" x="1219.5" y="854" font-size="32" textLength="47.0" lengthAdjust="spacingAndGlyphs">pev</text>
<text id="t33" x="387.0" y="1147" font-size="32">o</text>
<text id="t34" x="383.5" y="1297" font-size="38" textLength="81.5" lengthAdjust="spacingAndGlyphs">1 мм</text>
<text id="t35" x="603.5" y="1288" font-size="32" textLength="34.0" lengthAdjust="spacingAndGlyphs">do</text>
<text id="t36" x="728.0" y="1284" font-size="32" textLength="87.5" lengthAdjust="spacingAndGlyphs">ten A3</text>
<text id="t37" x="975.5" y="1272" font-size="32" textLength="40.0" lengthAdjust="spacingAndGlyphs">lap</text>
<text id="t38" x="1139.5" y="1271.5" font-size="32">d</text>
</g>
<g id="leaders" fill="none" stroke-linecap="butt">
<line x1="484" y1="82" x2="405" y2="150" stroke="#4a4b30" stroke-width="2.6"/>
<line x1="580" y1="85" x2="407.5" y2="219" stroke="#111" stroke-width="3"/>
<line x1="600" y1="148" x2="531" y2="189" stroke="#4a4b30" stroke-width="2.6"/>
<line x1="654" y1="215" x2="440" y2="285" stroke="#111" stroke-width="3"/>
<line x1="122.5" y1="206" x2="150" y2="345" stroke="#3c3d26" stroke-width="2.6"/>
<line x1="37.5" y1="234" x2="59" y2="299" stroke="#111" stroke-width="2.9"/>
<line x1="155" y1="392" x2="129" y2="454" stroke="#4a4b30" stroke-width="2.6"/>
<line x1="192.5" y1="455" x2="164" y2="526" stroke="#4a4b30" stroke-width="2.6"/>
<line x1="224" y1="411" x2="216" y2="518" stroke="#4a4b30" stroke-width="2.6"/>
<line x1="290" y1="412.5" x2="387" y2="580" stroke="#3c3d26" stroke-width="2.8"/>
<line x1="376" y1="402" x2="452" y2="577.5" stroke="#3c3d26" stroke-width="2.8"/>
<line x1="491" y1="499" x2="522" y2="569.5" stroke="#3c3d26" stroke-width="2.8"/>
<line x1="1029" y1="37" x2="1113.5" y2="272.5" stroke="#111" stroke-width="2.9"/>
<line x1="1264" y1="37" x2="1152" y2="191" stroke="#111" stroke-width="2.9"/>
<line x1="1389" y1="124" x2="1169" y2="320" stroke="#111" stroke-width="3"/>
<line x1="1571.5" y1="211" x2="1520" y2="236" stroke="#111" stroke-width="2.9"/>
<line x1="968.5" y1="460" x2="942" y2="497" stroke="#111" stroke-width="2.9"/>
<line x1="1107" y1="436" x2="1161" y2="621" stroke="#111" stroke-width="2.9"/>
<line x1="1276.5" y1="465" x2="1334.5" y2="576" stroke="#111" stroke-width="2.9"/>
<line x1="1348" y1="349" x2="1449" y2="541" stroke="#111" stroke-width="2.9"/>
<line x1="1523" y1="458" x2="1563" y2="496" stroke="#111" stroke-width="2.9"/>
<line x1="635" y1="741" x2="635" y2="922.5" stroke="#111" stroke-width="3"/>
<line x1="411" y1="887.5" x2="485" y2="1044" stroke="#111" stroke-width="3"/>
<line x1="778.5" y1="751" x2="779" y2="856" stroke="#111" stroke-width="3"/>
<line x1="974" y1="762.5" x2="975" y2="912.5" stroke="#2b2b2b" stroke-width="2.6"/>
<line x1="1246" y1="857.5" x2="1246" y2="971" stroke="#2b2b2b" stroke-width="3"/>
<line x1="415" y1="1141.5" x2="446" y2="1142" stroke="#111" stroke-width="2.6"/>
<line x1="619" y1="1035" x2="621" y2="1254.5" stroke="#111" stroke-width="2.6"/>
<line x1="763" y1="1138.5" x2="763" y2="1252" stroke="#111" stroke-width="3"/>
<line x1="712.5" y1="1025.5" x2="990" y2="1245.5" stroke="#111" stroke-width="2.6"/>
<line x1="1157" y1="1145" x2="1157" y2="1239" stroke="#2b2b2b" stroke-width="3"/>
<path d="M48 617.5H168M49.5 609V626M166.5 609V626" stroke="#3d3c26" stroke-width="3"/>
<path d="M371 1309H487.5M372.5 1302V1316M486 1302V1316" stroke="#333" stroke-width="3"/>
</g>
</svg>
</body></html>
